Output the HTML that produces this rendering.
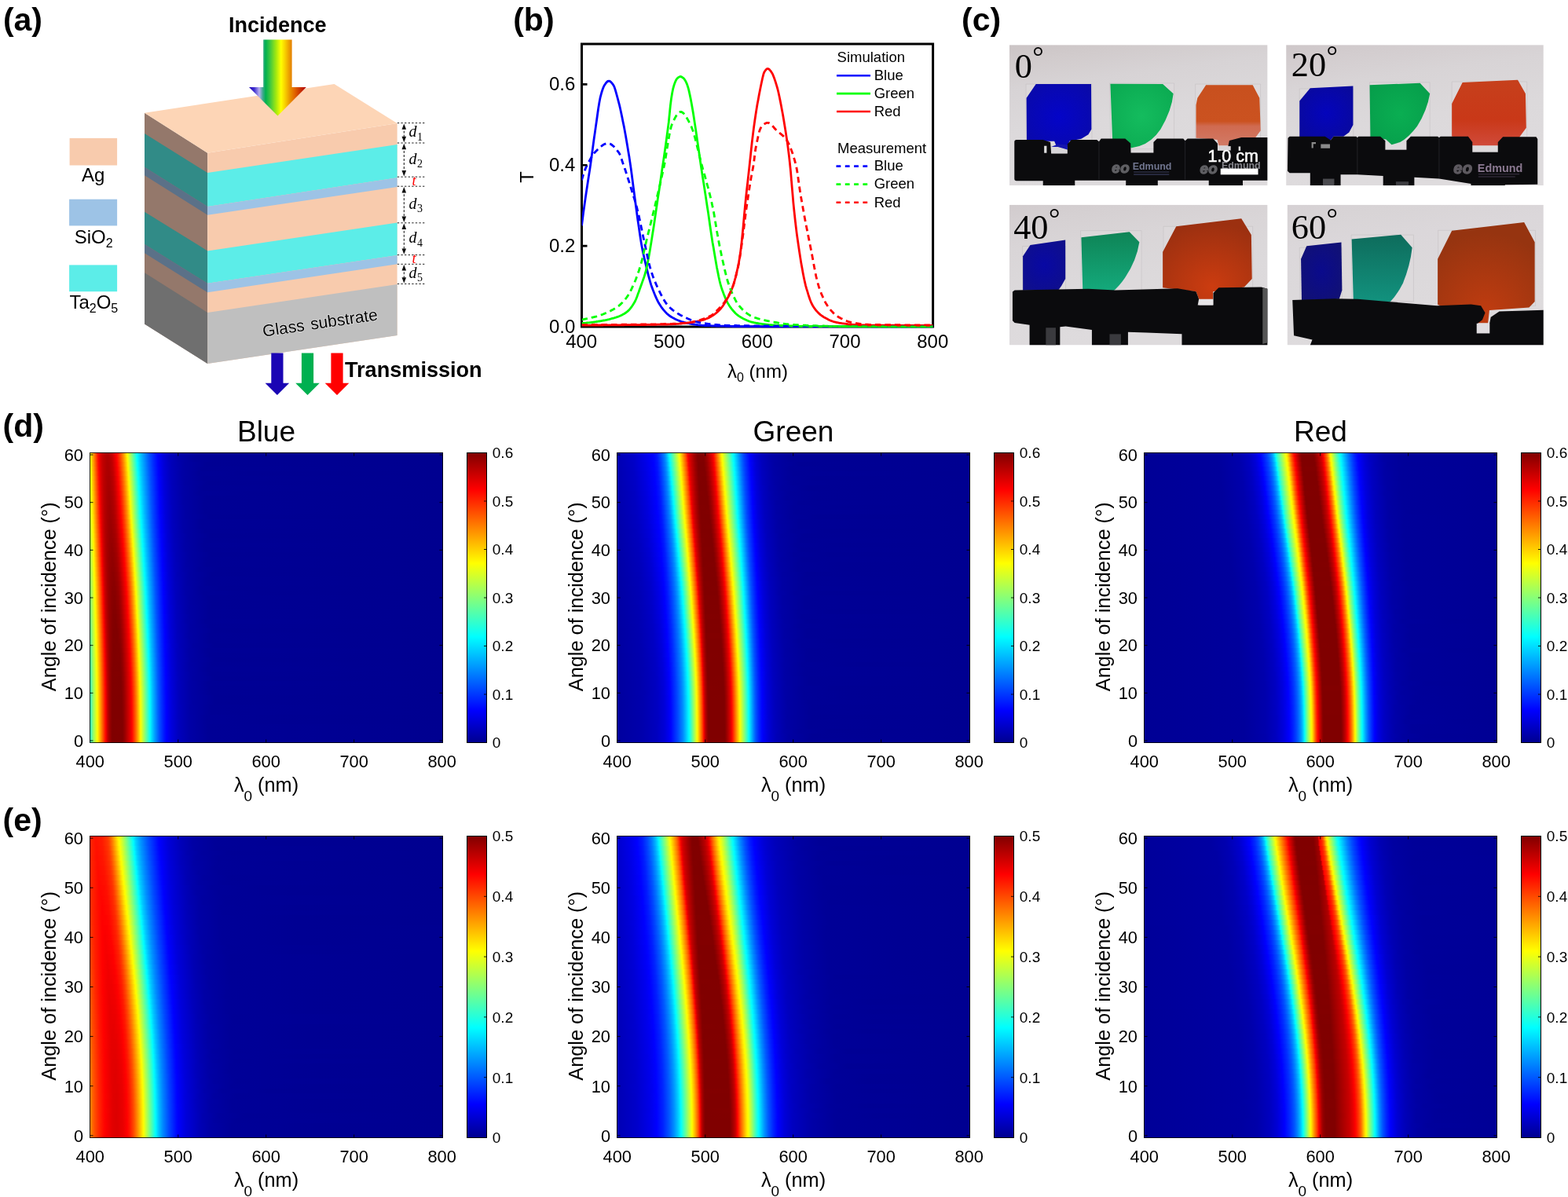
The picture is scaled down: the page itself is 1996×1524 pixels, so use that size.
<!DOCTYPE html>
<html lang="en"><head><meta charset="utf-8"><title>Figure</title>
<style>html,body{margin:0;padding:0;background:#fff}body{width:1996px;height:1524px;position:relative;overflow:hidden;font-family:'Liberation Sans',Arial,Helvetica,sans-serif}.hm{position:absolute;overflow:hidden}.hm i{display:block;width:100%}svg{position:absolute;left:0;top:0}</style></head><body>
<div class="hm" style="left:114px;top:576px;width:450px;height:370px">
<i style="height:6px;background:linear-gradient(90deg,#f0ff0f 0,#fff700 1px,#ff1c00 10px,#ff0500 11px,#e40000 13px,#c60000 16px,#b00000 21px,#ae0000 24px,#c60000 29px,#fc0000 34px,#ff1700 36px,#ff5700 40px,#ffa300 44px,#fffe00 48px,#5fa 56px,#06fff9 60px,#00f4ff 61px,#00b6ff 66px,#0048ff 77px,#0001ff 87px,#00d 93px,#0000bd 102px,#0000a6 116px,#000097 138px,#000093 202px,#000090 450px)"></i>
<i style="height:6px;background:linear-gradient(90deg,#ecff13 0,#fffc00 1px,#ff0900 11px,#f50000 12px,#da0000 14px,#c00000 17px,#ad0000 22px,#af0000 25px,#c20000 29px,#f70000 34px,#ff0500 35px,#ff3f00 39px,#f80 43px,#fd0 47px,#fff500 48px,#f0ff0f 49px,#49ffb6 57px,#0cfff3 60px,#00f9ff 61px,#00c5ff 65px,#005dff 75px,#002cff 81px,#0003ff 87px,#0000de 93px,#0000c0 101px,#00a 113px,#009 133px,#000094 159px,#000090 450px)"></i>
<i style="height:6px;background:linear-gradient(90deg,#e8ff17 0,#feff01 1px,#ff0e00 11px,#f80000 12px,#dc0000 14px,#c00000 17px,#ac0000 22px,#ad0000 25px,#bf0000 29px,#f20000 34px,#f00 35px,#ff3900 39px,#ff8000 43px,#ffd400 47px,#ffec00 48px,#f9ff06 49px,#64ff9b 56px,#0ff 61px,#00c9ff 65px,#0060ff 75px,#002dff 81px,#0004ff 87px,#0000f5 89px,#0000d2 96px,#0000b7 105px,#0000a2 121px,#000094 149px,#000090 450px)"></i>
<i style="height:6px;background:linear-gradient(90deg,#e4ff1b 0,#f9ff06 1px,#ffed00 2px,#ff1200 11px,#fb0000 12px,#d00 14px,#c10000 17px,#ab0000 22px,#ab0000 25px,#c30000 30px,#f90000 35px,#ff0700 36px,#ff3200 39px,#ff8c00 44px,#ffe300 48px,#fffc00 49px,#80ff7f 55px,#07fff8 61px,#00f5ff 62px,#00c1ff 66px,#0059ff 76px,#0028ff 82px,#0000fe 88px,#0000db 94px,#0000ba 104px,#0000a4 119px,#000095 144px,#000090 450px)"></i>
<i style="height:6px;background:linear-gradient(90deg,#e0ff1f 0,#f5ff0a 1px,#fff200 2px,#ff1700 11px,#f00 12px,#df0000 14px,#c10000 17px,#ae0000 21px,#a90000 25px,#bf0000 30px,#ff0200 36px,#ff2b00 39px,#ff8500 44px,#ffda00 48px,#fff300 49px,#f2ff0d 50px,#4affb5 58px,#0efff1 61px,#00fbff 62px,#00c5ff 66px,#005bff 76px,#0023ff 83px,#00f 88px,#0000dc 94px,#0000bd 103px,#0000a6 117px,#000097 139px,#000093 203px,#000090 450px)"></i>
<i style="height:6px;background:linear-gradient(90deg,#dcff23 0,#f0ff0f 1px,#fff700 2px,#ff0400 12px,#e10000 14px,#c20000 17px,#ad0000 21px,#a70000 25px,#b60000 29px,#c30000 31px,#fb0000 36px,#ff1600 38px,#ff5800 42px,#ffa600 46px,#ffea00 49px,#fbff04 50px,#51ffae 58px,#02fffd 62px,#00b2ff 68px,#004bff 78px,#0002ff 88px,#0000d9 95px,#00b 104px,#0000a3 120px,#000095 145px,#000090 450px)"></i>
<i style="height:6px;background:linear-gradient(90deg,#d8ff27 0,#fffc00 2px,#ff0900 12px,#f30000 13px,#d60000 15px,#b00 18px,#a70000 23px,#a80000 26px,#b90000 30px,#c90000 32px,#ff0300 37px,#ff2e00 40px,#ff7500 44px,#ffc900 48px,#fff900 50px,#ecff13 51px,#31ffce 60px,#09fff6 62px,#00f7ff 63px,#00b6ff 68px,#004eff 78px,#0012ff 86px,#0000fc 89px,#0000da 95px,#0000b9 105px,#0000a2 121px,#000094 150px,#000090 450px)"></i>
<i style="height:7px;background:linear-gradient(90deg,#d4ff2b 0,#feff01 2px,#ff8600 7px,#ff0e00 12px,#f60000 13px,#d80000 15px,#b00 18px,#a90000 22px,#a40000 25px,#b50000 30px,#cf0000 33px,#fd0000 37px,#ff1800 39px,#ff5b00 43px,#fa0 47px,#fff000 50px,#f5ff0a 51px,#4cffb3 59px,#10ffef 62px,#00fdff 63px,#00baff 68px,#0051ff 78px,#001aff 85px,#0000fd 89px,#0000db 95px,#0000ba 105px,#0000a4 120px,#000095 145px,#000090 450px)"></i>
<i style="height:6px;background:linear-gradient(90deg,#d0ff2f 0,#f9ff06 2px,#fe0 3px,#ff1300 12px,#fa0000 13px,#da0000 15px,#bc0000 18px,#a90000 22px,#a20000 25px,#b20000 30px,#ca0000 33px,#f70000 37px,#ff0500 38px,#ff3000 41px,#ff8d00 46px,#ffe600 50px,#ff0 51px,#68ff97 58px,#05fffa 63px,#00e5ff 65px,#009cff 71px,#004aff 79px,#00f 89px,#0000dc 95px,#0000bd 104px,#0000a6 118px,#000097 140px,#000093 204px,#000090 450px)"></i>
<i style="height:6px;background:linear-gradient(90deg,#cbff34 0,#f4ff0b 2px,#fff300 3px,#f00 13px,#dc0000 15px,#bc0000 18px,#a80000 22px,#a10000 25px,#ab0000 29px,#bc0000 32px,#fe0000 38px,#ff2900 41px,#ff8500 46px,#ffdc00 50px,#fff600 51px,#f0ff0f 52px,#48ffb7 60px,#0cfff3 63px,#00f9ff 64px,#00c3ff 68px,#0056ff 78px,#001eff 85px,#0002ff 89px,#0000d9 96px,#00b 105px,#0000a3 121px,#000094 149px,#000090 450px)"></i>
<i style="height:6px;background:linear-gradient(90deg,#c7ff38 0,#f0ff0f 2px,#fff800 3px,#ff0500 13px,#de0000 15px,#bd0000 18px,#a80000 22px,#a00000 26px,#ac0000 30px,#c00000 33px,#f80000 38px,#ff0600 39px,#f30 42px,#ff7c00 46px,#ffd300 50px,#ffec00 51px,#f9ff06 52px,#50ffaf 60px,#01fffe 64px,#00c7ff 68px,#0059ff 78px,#0027ff 84px,#0000fc 90px,#0000df 95px,#0000be 104px,#0000a5 119px,#000095 146px,#000090 450px)"></i>
<i style="height:6px;background:linear-gradient(90deg,#c3ff3c 0,#fffd00 3px,#ff0a00 13px,#f20000 14px,#d30000 16px,#b60000 19px,#a40000 23px,#9e0000 26px,#ae0000 31px,#c60000 34px,#f00 39px,#ff2b00 42px,#f80 47px,#ffe200 51px,#fffb00 52px,#d5ff2a 54px,#1bffe4 63px,#08fff7 64px,#00f6ff 65px,#00b3ff 70px,#0052ff 79px,#0013ff 87px,#0000fd 90px,#0000db 96px,#0000ba 106px,#0000a4 121px,#000095 146px,#000090 450px)"></i>
<i style="height:6px;background:linear-gradient(90deg,#bfff40 0,#fcff03 3px,#ffba00 6px,#ff0f00 13px,#f60000 14px,#d50000 16px,#b70000 19px,#a30000 23px,#9e0000 27px,#ab0000 31px,#c10000 34px,#f90000 39px,#ff0700 40px,#ff3500 43px,#ff9400 48px,#fff100 52px,#f4ff0b 53px,#37ffc8 62px,#0ffff0 64px,#00fcff 65px,#00b7ff 70px,#004cff 80px,#0015ff 87px,#00f 90px,#0000dc 96px,#00b 106px,#0000a3 122px,#000095 147px,#000090 450px)"></i>
<i style="height:6px;background:linear-gradient(90deg,#bf4 0,#f7ff08 3px,#fff000 4px,#ff1500 13px,#fb0000 14px,#e60000 15px,#c00000 18px,#ab0000 21px,#9c0000 26px,#a40000 30px,#b40000 33px,#e80000 38px,#ff0100 40px,#ff2d00 43px,#ff8c00 48px,#ffe700 52px,#feff01 53px,#67ff98 60px,#04fffb 65px,#00e4ff 67px,#09f 73px,#0045ff 81px,#0002ff 90px,#0000d9 97px,#00b 106px,#0000a3 122px,#000094 152px,#000090 450px)"></i>
<i style="height:6px;background:linear-gradient(90deg,#b6ff49 0,#f3ff0c 3px,#fff500 4px,#ff0100 14px,#da0000 16px,#b80000 19px,#a20000 23px,#9a0000 27px,#a00 32px,#c20000 35px,#fa0000 40px,#ff0800 41px,#ff4900 45px,#ff9800 49px,#fd0 52px,#fff600 53px,#efff10 54px,#47ffb8 62px,#0bfff4 65px,#00f9ff 66px,#00c1ff 70px,#005bff 79px,#0027ff 85px,#0000fc 91px,#0000da 97px,#0000bc 106px,#0000a7 119px,#000096 143px,#000090 450px)"></i>
<i style="height:6px;background:linear-gradient(90deg,#b2ff4d 0,#ef1 3px,#fffa00 4px,#ff0700 14px,#e00 15px,#ce0000 17px,#b10000 20px,#9f0000 24px,#900 27px,#a30000 31px,#b30000 34px,#ff0200 41px,#ff4100 45px,#ffa500 50px,#ffec00 53px,#f9ff06 54px,#4fffb0 62px,#0ff 66px,#00c5ff 70px,#005eff 79px,#0029ff 85px,#0000fd 91px,#0000dc 97px,#0000bf 105px,#0000a7 119px,#000096 143px,#000090 450px)"></i>
<i style="height:6px;background:linear-gradient(90deg,#adff52 0,#ff0 4px,#ff0c00 14px,#f20000 15px,#d00000 17px,#b10000 20px,#9e0000 24px,#980000 28px,#a90000 33px,#c30000 36px,#fb0000 41px,#ff0900 42px,#ff4c00 46px,#ff9c00 50px,#ffe200 53px,#fffc00 54px,#80ff7f 60px,#07fff8 66px,#00f5ff 67px,#00b1ff 72px,#004dff 81px,#000eff 89px,#00f 91px,#00d 97px,#0000bd 106px,#0000a5 121px,#000095 147px,#000090 450px)"></i>
<i style="height:6px;background:linear-gradient(90deg,#a9ff56 0,#fbff04 4px,#ffed00 5px,#ff1200 14px,#f80000 15px,#e20000 16px,#b00 19px,#a50000 22px,#960000 27px,#a10000 32px,#b40000 35px,#f50000 41px,#ff0300 42px,#ff3200 45px,#ff7e00 49px,#ffd800 53px,#fff200 54px,#f4ff0b 55px,#4bffb4 63px,#0efff1 66px,#00fcff 67px,#00c2ff 71px,#005aff 80px,#0026ff 86px,#0002ff 91px,#0000d5 99px,#0000b7 109px,#0000a2 125px,#000094 153px,#000090 450px)"></i>
<i style="height:6px;background:linear-gradient(90deg,#a4ff5b 0,#f6ff09 4px,#fff200 5px,#ff1700 14px,#fd0000 15px,#e60000 16px,#c80000 18px,#ab0000 21px,#970000 26px,#980000 30px,#a80000 34px,#ce0000 38px,#fc0000 42px,#ff1900 44px,#ff7500 49px,#ffce00 53px,#fdff02 55px,#53ffac 63px,#03fffc 67px,#00adff 73px,#0049ff 82px,#0004ff 91px,#0000f5 93px,#0000d2 100px,#0000ba 108px,#0000a4 123px,#000095 148px,#000090 450px)"></i>
<i style="height:6px;background:linear-gradient(90deg,#a0ff5f 0,#f1ff0e 4px,#fff700 5px,#ff0400 15px,#d80000 17px,#b40000 20px,#a00000 23px,#930000 28px,#a00000 33px,#b40000 36px,#f60000 42px,#ff0400 43px,#ff3400 46px,#ff8100 50px,#fd0 54px,#fff700 55px,#efff10 56px,#32ffcd 65px,#0afff5 67px,#00f8ff 68px,#00b1ff 73px,#004cff 82px,#0014ff 89px,#0000fe 92px,#0000e0 97px,#0000bd 107px,#0000a6 121px,#000096 145px,#000090 450px)"></i>
<i style="height:6px;background:linear-gradient(90deg,#9bff64 0,#fffc00 5px,#ff0900 15px,#ef0000 16px,#c00 18px,#ac0000 21px,#900 25px,#920000 29px,#a20000 34px,#b90000 37px,#fd0000 43px,#ff1b00 45px,#ff7900 50px,#ffd300 54px,#ffed00 55px,#f8ff07 56px,#3affc5 65px,#0ff 68px,#00c3ff 72px,#0064ff 80px,#002cff 86px,#00f 92px,#00d 98px,#0000bd 107px,#0000a5 122px,#000095 148px,#000090 450px)"></i>
<i style="height:6px;background:linear-gradient(90deg,#97ff68 0,#feff01 5px,#ff0e00 15px,#f40000 16px,#de0000 17px,#c10000 19px,#a60000 22px,#920000 27px,#940000 31px,#a40000 35px,#c90000 39px,#f70000 43px,#ff0500 44px,#ff4900 48px,#ff9b00 52px,#ffe300 55px,#fffd00 56px,#42ffbd 65px,#07fff8 68px,#00f5ff 69px,#00baff 73px,#0052ff 82px,#001fff 88px,#0002ff 92px,#0000d5 100px,#0000b7 110px,#0000a2 126px,#000094 154px,#000090 450px)"></i>
<i style="height:7px;background:linear-gradient(90deg,#92ff6d 0,#f9ff06 5px,#fe0 6px,#ff1300 15px,#f90000 16px,#d00000 18px,#ae0000 21px,#9b0000 24px,#8f0000 29px,#9c0000 34px,#b00000 37px,#f20000 43px,#fe0000 44px,#ff1d00 46px,#ff6800 50px,#ffc000 54px,#fff300 56px,#f3ff0c 57px,#4affb5 65px,#0efff1 68px,#00fbff 69px,#00bfff 73px,#005fff 81px,#0029ff 87px,#0004ff 92px,#0000f5 94px,#0000d6 100px,#0000b8 110px,#0000a3 125px,#000095 150px,#000090 450px)"></i>
<i style="height:6px;background:linear-gradient(90deg,#8eff71 0,#f5ff0a 5px,#fff300 6px,#f00 16px,#e60000 17px,#c50000 19px,#a70000 22px,#940000 26px,#8f0000 30px,#9e0000 35px,#b50000 38px,#f90000 44px,#ff0700 45px,#ff3a00 48px,#ff8900 52px,#ffcf00 55px,#fcff03 57px,#52ffad 65px,#02fffd 69px,#0af 75px,#004eff 83px,#0014ff 90px,#0000fd 93px,#0000dc 99px,#0000bd 108px,#0000a5 123px,#000095 149px,#000090 450px)"></i>
<i style="height:6px;background:linear-gradient(90deg,#89ff76 0,#f0ff0f 5px,#fff800 6px,#ff0500 16px,#d60000 18px,#b00000 21px,#9b0000 24px,#8e0000 28px,#910000 32px,#a10000 36px,#c60000 40px,#ff0100 45px,#ff3200 48px,#ff8100 52px,#ffc500 55px,#fff900 57px,#ef1 58px,#45ffba 66px,#09fff6 69px,#00f7ff 70px,#0bf 74px,#0050ff 83px,#000eff 91px,#00f 93px,#00d 99px,#0000be 108px,#0000a9 120px,#009 140px,#000094 164px,#000090 450px)"></i>
<i style="height:6px;background:linear-gradient(90deg,#84ff7b 0,#fffc00 6px,#ff8300 11px,#ff0a00 16px,#f00000 17px,#d90000 18px,#bc0000 20px,#a10000 23px,#900000 27px,#8b0000 30px,#980000 35px,#ac0000 38px,#fa0000 45px,#ff0900 46px,#ff5000 50px,#ffa400 54px,#ffef00 57px,#f6ff09 58px,#38ffc7 67px,#10ffef 69px,#00fdff 70px,#00bfff 74px,#0053ff 83px,#001fff 89px,#0002ff 93px,#0000d5 101px,#0000b7 111px,#0000a2 127px,#000094 155px,#000090 450px)"></i>
<i style="height:6px;background:linear-gradient(90deg,#7fff80 0,#fdff02 6px,#ffba00 9px,#ff0f00 16px,#f50000 17px,#d00 18px,#be0000 20px,#a10000 23px,#8f0000 27px,#8b0000 31px,#9a0000 36px,#b20000 39px,#f50000 45px,#ff0300 46px,#ff4800 50px,#ff9c00 54px,#ff0 58px,#54ffab 66px,#05fffa 70px,#00e2ff 72px,#00a9ff 76px,#004cff 84px,#0012ff 91px,#0003ff 93px,#0000df 99px,#0000bc 109px,#0000a4 125px,#000095 150px,#000090 450px)"></i>
<i style="height:6px;background:linear-gradient(90deg,#7bff84 0,#f9ff06 6px,#ffef00 7px,#ff1400 16px,#fb0000 17px,#e10000 18px,#c00000 20px,#a10000 23px,#8f0000 27px,#890000 31px,#970000 36px,#ad0000 39px,#fc0000 46px,#ff0b00 47px,#ff6800 52px,#ffc200 56px,#fff600 58px,#f0ff0f 59px,#1effe1 69px,#0bfff4 70px,#00f8ff 71px,#0bf 75px,#0059ff 83px,#0023ff 89px,#0000fd 94px,#0000dc 100px,#0000bd 109px,#0000a5 124px,#000095 150px,#000090 450px)"></i>
<i style="height:6px;background:linear-gradient(90deg,#76ff89 0,#f5ff0a 6px,#fff300 7px,#ff0100 17px,#d10000 19px,#a00 22px,#960000 25px,#890000 29px,#8b0000 33px,#9a0000 37px,#b30000 40px,#f70000 46px,#ff0500 47px,#ff4d00 51px,#ffa100 55px,#ffed00 58px,#f9ff06 59px,#4effb1 67px,#0ff 71px,#00bfff 75px,#0051ff 84px,#0015ff 91px,#00f 94px,#0000e1 99px,#0000c0 108px,#0000a9 121px,#009 141px,#000094 165px,#000090 450px)"></i>
<i style="height:6px;background:linear-gradient(90deg,#71ff8e 0,#f1ff0e 6px,#fff800 7px,#ff0600 17px,#eb0000 18px,#d40000 19px,#b70000 21px,#9b0000 24px,#800 29px,#890000 33px,#970000 37px,#af0000 40px,#fe0000 47px,#ff2000 49px,#ff6d00 53px,#ffc900 57px,#fffd00 59px,#2dffd2 69px,#06fff9 71px,#00f3ff 72px,#00b6ff 76px,#0054ff 84px,#001fff 90px,#0001ff 94px,#0000d9 101px,#0000bc 110px,#0000a7 123px,#000097 145px,#000093 217px,#000090 450px)"></i>
<i style="height:6px;background:linear-gradient(90deg,#6cff93 0,#d9ff26 5px,#fffc00 7px,#ff0a00 17px,#f00000 18px,#d70000 19px,#b80000 21px,#9c0000 24px,#8a0000 28px,#860000 32px,#940000 37px,#ab0000 40px,#ec0000 46px,#f90000 47px,#ff0800 48px,#ff5200 52px,#ffa800 56px,#fff500 59px,#f2ff0d 60px,#48ffb7 68px,#0cfff3 71px,#00f9ff 72px,#00baff 76px,#0057ff 84px,#0021ff 90px,#0003ff 94px,#0000df 100px,#0000bc 110px,#0000a4 126px,#000095 151px,#000090 450px)"></i>
<i style="height:6px;background:linear-gradient(90deg,#68ff97 0,#d5ff2a 5px,#feff01 7px,#ffa100 11px,#ff0f00 17px,#f50000 18px,#db0000 19px,#ba0000 21px,#9c0000 24px,#8a0000 28px,#840000 32px,#910000 37px,#a70000 40px,#ff0200 48px,#ff4a00 52px,#ffa000 56px,#ffec00 59px,#faff05 60px,#4fffb0 68px,#0ff 72px,#00beff 76px,#005aff 84px,#02f 90px,#0004ff 94px,#0000f6 96px,#0000d3 103px,#0000b8 112px,#0000a1 129px,#000094 156px,#000090 450px)"></i>
<i style="height:6px;background:linear-gradient(90deg,#63ff9c 0,#bcff43 4px,#faff05 7px,#fe0 8px,#ff1300 17px,#fa0000 18px,#df0000 19px,#bc0000 21px,#9c0000 24px,#890000 28px,#830000 32px,#8f0000 37px,#a30000 40px,#ef0000 47px,#fc0000 48px,#ff0c00 49px,#ff6c00 54px,#ffc800 58px,#fffd00 60px,#2dffd2 70px,#06fff9 72px,#00f3ff 73px,#00b5ff 77px,#0051ff 85px,#001cff 91px,#0000fe 95px,#0000dc 101px,#00b 111px,#0000a3 127px,#000094 155px,#000090 450px)"></i>
<i style="height:6px;background:linear-gradient(90deg,#5effa1 0,#b9ff46 4px,#f6ff09 7px,#fff200 8px,#fe0000 18px,#ce0000 20px,#b10000 22px,#960000 25px,#830000 30px,#850000 34px,#910000 38px,#a90000 41px,#ea0000 47px,#f70000 48px,#ff0600 49px,#ff6500 54px,#ffc000 58px,#fff500 60px,#f2ff0d 61px,#48ffb7 69px,#0cfff3 72px,#00f9ff 73px,#00b8ff 77px,#0054ff 85px,#001eff 91px,#00f 95px,#00d 101px,#0000be 110px,#0000a5 125px,#000095 152px,#000090 450px)"></i>
<i style="height:6px;background:linear-gradient(90deg,#5affa5 0,#b5ff4a 4px,#f3ff0c 7px,#fff600 8px,#ff0400 18px,#d00000 20px,#b20000 22px,#960000 25px,#820000 30px,#830000 34px,#8f0000 38px,#a50000 41px,#f20000 48px,#ff0100 49px,#ff4a00 53px,#ffa000 57px,#ffed00 60px,#f9ff06 61px,#3affc5 70px,#00feff 73px,#00bcff 77px,#0057ff 85px,#0028ff 90px,#0002ff 95px,#0000da 102px,#0000bc 111px,#0000a4 127px,#000095 152px,#000090 450px)"></i>
<i style="height:6px;background:linear-gradient(90deg,#5fa 0,#9cff63 3px,#efff10 7px,#fff900 8px,#f90 12px,#ff0800 18px,#ed0000 19px,#d40000 20px,#b40000 22px,#960000 25px,#850000 29px,#800000 33px,#8d0000 38px,#a10000 41px,#ed0000 48px,#fb0000 49px,#ff0b00 50px,#ff6c00 55px,#ffb000 58px,#fffe00 61px,#2cffd3 71px,#05fffa 73px,#00e0ff 75px,#00a5ff 79px,#004eff 86px,#0019ff 92px,#0003ff 95px,#0000df 101px,#0000bf 110px,#0000a7 124px,#000096 148px,#000090 450px)"></i>
<i style="height:6px;background:linear-gradient(90deg,#51ffae 0,#aeff51 4px,#fffd00 8px,#ff9e00 12px,#ff0c00 18px,#f20000 19px,#d70000 20px,#b50000 22px,#970000 25px,#840000 29px,#800000 34px,#8f0000 39px,#b20000 43px,#f60000 49px,#ff0600 50px,#ff6500 55px,#ffc200 59px,#fff700 61px,#f0ff0f 62px,#32ffcd 71px,#0bfff4 73px,#00f7ff 74px,#00b6ff 78px,#005cff 85px,#002bff 90px,#0004ff 95px,#0000f6 97px,#0000d3 104px,#00b 112px,#0000a3 128px,#000095 153px,#000090 450px)"></i>
<i style="height:6px;background:linear-gradient(90deg,#4dffb2 0,#af5 4px,#feff01 8px,#ffa200 12px,#ff0f00 18px,#f60000 19px,#db0000 20px,#c60000 21px,#a00 23px,#910000 26px,#810000 30px,#800000 35px,#8d0000 39px,#a40000 42px,#f10000 49px,#f00 50px,#ff5f00 55px,#ffba00 59px,#fff000 61px,#f7ff08 62px,#4cffb3 70px,#10ffef 73px,#00fcff 74px,#00baff 78px,#005eff 85px,#0024ff 91px,#0000fe 96px,#0000dc 102px,#00b 112px,#0000a3 128px,#000094 158px,#000090 450px)"></i>
<i style="height:7px;background:linear-gradient(90deg,#49ffb6 0,#a7ff58 4px,#faff05 8px,#fe0 9px,#ff1300 18px,#fa0000 19px,#c90000 21px,#ac0000 23px,#910000 26px,#800000 30px,#810000 36px,#910000 40px,#b50000 44px,#ed0000 49px,#fb0000 50px,#ff0c00 51px,#ff5900 55px,#ffb300 59px,#fdff02 62px,#52ffad 70px,#02fffd 74px,#00bdff 78px,#05f 86px,#001eff 92px,#00f 96px,#00d 102px,#0000be 111px,#0000a5 126px,#000095 153px,#000090 450px)"></i>
<i style="height:6px;background:linear-gradient(90deg,#45ffba 0,#a4ff5b 4px,#f7ff08 8px,#fff100 9px,#fe0000 19px,#cb0000 21px,#ad0000 23px,#980000 25px,#830000 29px,#800000 35px,#890000 39px,#9e0000 42px,#e90000 49px,#f60000 50px,#ff0600 51px,#ff6800 56px,#ffac00 59px,#fffb00 62px,#d8ff27 64px,#43ffbc 71px,#07fff8 74px,#00f4ff 75px,#00c1ff 78px,#0057ff 86px,#001fff 92px,#0001ff 96px,#0000da 103px,#0000bc 112px,#0000a4 128px,#000095 153px,#000090 450px)"></i>
<i style="height:6px;background:linear-gradient(90deg,#41ffbe 0,#a1ff5e 4px,#f4ff0b 8px,#fff400 9px,#ff0200 19px,#ce0000 21px,#ae0000 23px,#910000 26px,#800000 30px,#830000 38px,#930000 41px,#cf0000 47px,#ff0200 51px,#ff4d00 55px,#ffa600 59px,#fff400 62px,#f3ff0c 63px,#48ffb7 71px,#0cfff3 74px,#00f8ff 75px,#00b5ff 79px,#005aff 86px,#0029ff 91px,#0002ff 96px,#0000d2 105px,#0000b6 115px,#0000a0 132px,#000094 159px,#000090 450px)"></i>
<i style="height:6px;background:linear-gradient(90deg,#3effc1 0,#9eff61 4px,#f2ff0d 8px,#fff700 9px,#ff9700 13px,#ff0600 19px,#eb0000 20px,#d10000 21px,#af0000 23px,#910000 26px,#800000 30px,#820000 38px,#900000 41px,#d60000 48px,#fc0000 51px,#ff2100 53px,#ff7200 57px,#ffb800 60px,#fe0 62px,#f8ff07 63px,#39ffc6 72px,#00fdff 75px,#00c8ff 78px,#0075ff 84px,#0046ff 88px,#0012ff 94px,#0003ff 96px,#0000e0 102px,#0000bf 111px,#0000a6 126px,#000096 150px,#000090 450px)"></i>
<i style="height:6px;background:linear-gradient(90deg,#3affc5 0,#9bff64 4px,#efff10 8px,#fffa00 9px,#ff9b00 13px,#ff0900 19px,#ef0000 20px,#d40000 21px,#b10000 23px,#9a0000 25px,#860000 28px,#800000 31px,#830000 39px,#950000 42px,#de0000 49px,#f80000 51px,#ff0900 52px,#ff6c00 57px,#ffb200 60px,#ffe800 62px,#feff01 63px,#52ffad 71px,#02fffd 75px,#00bcff 79px,#005eff 86px,#0023ff 92px,#0004ff 96px,#0000f6 98px,#0000d8 104px,#0000bd 112px,#0000a5 127px,#000095 153px,#000090 450px)"></i>
<i style="height:6px;background:linear-gradient(90deg,#37ffc8 0,#98ff67 4px,#fffd00 9px,#ff6c00 15px,#ff0c00 19px,#f20000 20px,#c10000 22px,#9a0000 25px,#860000 28px,#800000 31px,#820000 39px,#930000 42px,#e70000 50px,#ff0500 52px,#ff6700 57px,#ffc600 61px,#fffb00 63px,#d7ff28 65px,#2effd1 73px,#07fff8 75px,#00f2ff 76px,#00bfff 79px,#0054ff 87px,#001cff 93px,#0000fd 97px,#0000d8 104px,#00b 113px,#0000a2 130px,#000094 159px,#000090 450px)"></i>
<i style="height:6px;background:linear-gradient(90deg,#34ffcb 0,#95ff6a 4px,#ff0 9px,#ffa100 13px,#ff0f00 19px,#f50000 20px,#c30000 22px,#a60000 24px,#8b0000 27px,#800000 30px,#810000 39px,#910000 42px,#d80000 49px,#ff0100 52px,#ff6200 57px,#ffc100 61px,#fff600 63px,#f1ff0e 64px,#47ffb8 72px,#0bfff4 75px,#00f6ff 76px,#00b3ff 80px,#0056ff 87px,#001dff 93px,#0000fe 97px,#0000d9 104px,#0000be 112px,#0000a5 127px,#000095 154px,#000090 450px)"></i>
<i style="height:6px;background:linear-gradient(90deg,#31ffce 0,#a9ff56 5px,#fcff03 9px,#ffd400 11px,#f10 19px,#f80000 20px,#c50000 22px,#a70000 24px,#8b0000 27px,#810000 29px,#800000 39px,#8f0000 42px,#cb0000 48px,#fc0000 52px,#ff2100 54px,#ff8a00 59px,#fff100 63px,#f6ff09 64px,#4bffb4 72px,#0ffff0 75px,#00faff 76px,#00b5ff 80px,#0058ff 87px,#001fff 93px,#00f 97px,#0000de 103px,#0000be 112px,#0000a7 126px,#000096 150px,#000090 450px)"></i>
<i style="height:6px;background:linear-gradient(90deg,#2effd1 0,#a6ff59 5px,#faff05 9px,#fe0 10px,#ff1400 19px,#fb0000 20px,#c70000 22px,#a80000 24px,#8c0000 27px,#810000 29px,#820000 40px,#950000 43px,#de0000 50px,#f90000 52px,#ff0b00 53px,#ff6f00 58px,#ffb600 61px,#ffec00 63px,#faff05 64px,#4fffb0 72px,#00feff 76px,#00c7ff 79px,#0059ff 87px,#0020ff 93px,#0001ff 97px,#0000da 104px,#0000bc 113px,#0000a4 129px,#000095 154px,#000090 450px)"></i>
<i style="height:6px;background:linear-gradient(90deg,#2bffd4 0,#a4ff5b 5px,#f8ff07 9px,#fff000 10px,#fd0000 20px,#c90000 22px,#a90000 24px,#930000 26px,#810000 29px,#800000 40px,#9c0000 44px,#e80000 51px,#f60000 52px,#ff0700 53px,#ff6b00 58px,#ffb100 61px,#ffe800 63px,#feff01 64px,#3effc1 73px,#02fffd 76px,#00baff 80px,#005bff 87px,#0029ff 92px,#0002ff 97px,#0000d6 105px,#0000b8 115px,#0000a2 131px,#000094 159px,#000090 450px)"></i>
<i style="height:6px;background:linear-gradient(90deg,#29ffd6 0,#a2ff5d 5px,#f6ff09 9px,#fff200 10px,#ff7900 15px,#f00 20px,#cb0000 22px,#a00 24px,#8c0000 27px,#810000 29px,#800000 40px,#910000 43px,#e60000 51px,#ff0400 53px,#ff6700 58px,#ffc700 62px,#fffc00 64px,#7fff80 70px,#06fff9 76px,#00f1ff 77px,#00bdff 80px,#005dff 87px,#03f 91px,#0003ff 97px,#0000df 103px,#0000bf 112px,#0000a6 127px,#000096 151px,#000090 450px)"></i>
<i style="height:6px;background:linear-gradient(90deg,#26ffd9 0,#a0ff5f 5px,#f5ff0a 9px,#fff400 10px,#ff7b00 15px,#ff0300 20px,#cd0000 22px,#b90000 23px,#940000 26px,#810000 29px,#800000 40px,#900000 43px,#e30000 51px,#ff0100 53px,#ff4e00 57px,#ffa900 61px,#fff800 64px,#efff10 65px,#30ffcf 74px,#09fff6 76px,#00f4ff 77px,#00bfff 80px,#005eff 87px,#02f 93px,#0003ff 97px,#0000e0 103px,#0000bf 112px,#0000a6 127px,#000095 153px,#000090 450px)"></i>
<i style="height:6px;background:linear-gradient(90deg,#24ffdb 0,#9eff61 5px,#f3ff0c 9px,#fff600 10px,#ff7d00 15px,#ff0400 20px,#ea0000 21px,#cf0000 22px,#ab0000 24px,#8c0000 27px,#810000 29px,#810000 41px,#970000 44px,#e10000 51px,#fd0000 53px,#ff3700 56px,#ff8e00 60px,#fff500 64px,#f2ff0d 65px,#3fc 74px,#0bfff4 76px,#00f7ff 77px,#00c1ff 80px,#005fff 87px,#002cff 92px,#0004ff 97px,#0000f6 99px,#0000d7 105px,#00b 114px,#0000a3 130px,#000095 155px,#000090 450px)"></i>
<i style="height:6px;background:linear-gradient(90deg,#2fd 0,#9dff62 5px,#f2ff0d 9px,#fff700 10px,#ff4e00 17px,#ff0600 20px,#ec0000 21px,#d00000 22px,#ac0000 24px,#8c0000 27px,#810000 29px,#800000 41px,#9f0000 45px,#ec0000 52px,#fb0000 53px,#ff0d00 54px,#ff7300 59px,#ffbc00 62px,#fff200 64px,#f5ff0a 65px,#4affb5 73px,#0efff1 76px,#00f9ff 77px,#00c2ff 80px,#0054ff 88px,#001cff 94px,#0000fd 98px,#0000dc 104px,#00b 114px,#0000a3 130px,#000094 160px,#000090 450px)"></i>
<i style="height:6px;background:linear-gradient(90deg,#21ffde 0,#9bff64 5px,#f0ff0f 9px,#fff900 10px,#ff6800 16px,#ff0800 20px,#e00 21px,#d20000 22px,#ad0000 24px,#950000 26px,#800000 29px,#800000 41px,#940000 44px,#ea0000 52px,#f90000 53px,#ff0b00 54px,#ff7100 59px,#ffd400 63px,#ffef00 64px,#f8ff07 65px,#4dffb2 73px,#10ffef 76px,#00fbff 77px,#00c4ff 80px,#0062ff 87px,#0036ff 91px,#0005ff 97px,#0000f7 99px,#0000d4 106px,#0000b9 115px,#0000a2 131px,#000094 160px,#000090 450px)"></i>
<i style="height:7px;background:linear-gradient(90deg,#1fffe0 0,#9aff65 5px,#efff10 9px,#fffa00 10px,#ff5100 17px,#ff0900 20px,#f00000 21px,#bd0000 23px,#a10000 25px,#860000 28px,#800000 29px,#800000 41px,#930000 44px,#dc0000 51px,#f70000 53px,#ff0900 54px,#ff6e00 59px,#ffd100 63px,#ffec00 64px,#faff05 65px,#3affc5 74px,#00fdff 77px,#00c5ff 80px,#0063ff 87px,#0037ff 91px,#0006ff 97px,#0000fe 98px,#00d 104px,#0000be 113px,#0000a5 128px,#000095 155px,#000090 450px)"></i>
<i style="height:6px;background:linear-gradient(90deg,#1effe1 0,#9f6 5px,#ef1 9px,#fffb00 10px,#ff8300 15px,#ff0a00 20px,#f10000 21px,#be0000 23px,#a10000 25px,#860000 28px,#800000 29px,#800000 41px,#8a0000 43px,#d00000 50px,#f50000 53px,#ff0700 54px,#ff6c00 59px,#ffcf00 63px,#ffea00 64px,#fcff03 65px,#3cffc3 74px,#0ff 77px,#00c7ff 80px,#0063ff 87px,#002eff 92px,#0000fe 98px,#00d 104px,#0000be 113px,#0000a5 128px,#000095 155px,#000090 450px)"></i>
<i style="height:6px;background:linear-gradient(90deg,#1cffe3 0,#98ff67 5px,#edff12 9px,#fffc00 10px,#ff8400 15px,#ff0b00 20px,#f20000 21px,#bf0000 23px,#a10000 25px,#860000 28px,#800000 29px,#800000 41px,#890000 43px,#cf0000 50px,#f40000 53px,#ff0600 54px,#f50 58px,#ffb200 62px,#ffe800 64px,#feff01 65px,#52ffad 73px,#01fffe 77px,#00b8ff 81px,#0058ff 88px,#0026ff 93px,#0000fe 98px,#0000d9 105px,#0000be 113px,#0000a7 127px,#000097 149px,#000093 229px,#000090 450px)"></i>
<i style="height:6px;background:linear-gradient(90deg,#1cffe3 0,#97ff68 5px,#edff12 9px,#fffd00 10px,#ff5400 17px,#ff0c00 20px,#f30000 21px,#bf0000 23px,#960000 26px,#800000 29px,#820000 42px,#9a0000 45px,#e50000 52px,#ff0400 54px,#ff6900 59px,#ffb000 62px,#ff0 65px,#3fffc0 74px,#03fffc 77px,#00b9ff 81px,#0058ff 88px,#001eff 94px,#00f 98px,#00d 104px,#0000bc 114px,#0000a7 127px,#000097 149px,#000093 229px,#000090 450px)"></i>
<i style="height:6px;background:linear-gradient(90deg,#1bffe4 0,#96ff69 5px,#fffd00 10px,#ff9f00 14px,#ff0d00 20px,#f30000 21px,#c00000 23px,#a20000 25px,#8d0000 27px,#800000 29px,#820000 42px,#900 45px,#e50000 52px,#ff0300 54px,#ff6800 59px,#ffaf00 62px,#fffe00 65px,#2cffd3 75px,#04fffb 77px,#00dbff 79px,#009cff 83px,#004dff 89px,#000eff 96px,#00f 98px,#0000de 104px,#0000be 113px,#0000a7 127px,#000096 151px,#000090 450px)"></i>
<i style="height:6px;background:linear-gradient(90deg,#1affe5 0,#96ff69 5px,#fffd00 10px,#ffa000 14px,#ff0d00 20px,#f40000 21px,#c00000 23px,#a20000 25px,#860000 28px,#800000 29px,#820000 42px,#900 45px,#e40000 52px,#ff0300 54px,#ff6700 59px,#ffae00 62px,#fffd00 65px,#2cffd3 75px,#04fffb 77px,#00dcff 79px,#009dff 83px,#004eff 89px,#0016ff 95px,#00f 98px,#0000de 104px,#0000be 113px,#0000a7 127px,#000096 151px,#000090 450px)"></i>
<i style="height:6px;background:linear-gradient(90deg,#1affe5 0,#96ff69 5px,#fffe00 10px,#ff8700 15px,#ff0d00 20px,#f40000 21px,#c00000 23px,#a20000 25px,#860000 28px,#800000 29px,#810000 42px,#900 45px,#e40000 52px,#ff0200 54px,#ff5100 58px,#ffad00 62px,#fffc00 65px,#7fff80 71px,#05fffa 77px,#00dcff 79px,#009dff 83px,#004eff 89px,#0016ff 95px,#00f 98px,#0000de 104px,#0000be 113px,#0000a6 128px,#000096 152px,#000090 450px)"></i>
<i style="height:6px;background:linear-gradient(90deg,#1affe5 0,#96ff69 5px,#fffe00 10px,#ffa000 14px,#ff0d00 20px,#f40000 21px,#c00000 23px,#a20000 25px,#860000 28px,#800000 29px,#810000 42px,#900 45px,#e40000 52px,#ff0200 54px,#ff5100 58px,#ffad00 62px,#fffc00 65px,#7fff80 71px,#05fffa 77px,#00dcff 79px,#009dff 83px,#004eff 89px,#0016ff 95px,#00f 98px,#0000de 104px,#0000be 113px,#0000a6 128px,#000096 152px,#000090 450px)"></i>
</div>
<div class="hm" style="left:114px;top:1064px;width:450px;height:385px">
<i style="height:6px;background:linear-gradient(90deg,#ff2700 0,#ff1200 8px,#ff1b00 16px,#ff3900 23px,#ff4a00 25px,#ff7300 28px,#ffd100 34px,#fff000 36px,#fffc00 37px,#deff21 40px,#03fffc 55px,#00c9ff 59px,#0082ff 67px,#003eff 77px,#0002ff 88px,#0000d8 100px,#0000b5 118px,#0000a1 136px,#000097 165px,#000092 338px,#000090 450px)"></i>
<i style="height:7px;background:linear-gradient(90deg,#ff2800 0,#f10 8px,#ff1900 16px,#ff3500 23px,#ff4300 25px,#ff7800 29px,#fff400 37px,#feff01 38px,#caff35 42px,#0cfff3 55px,#00fcff 56px,#00d0ff 59px,#0097ff 65px,#0054ff 74px,#0009ff 87px,#00f 89px,#0000dc 99px,#00b 115px,#0000a5 131px,#000098 160px,#000093 253px,#000090 450px)"></i>
<i style="height:6px;background:linear-gradient(90deg,#ff2800 0,#ff1000 9px,#ff1900 17px,#ff3600 24px,#ff4700 26px,#ff7e00 30px,#ffec00 37px,#faff05 39px,#c5ff3a 43px,#06fff9 56px,#00f5ff 57px,#00cbff 60px,#0093ff 66px,#004bff 76px,#0006ff 88px,#0000f8 91px,#0000d8 101px,#0000b8 117px,#0000a3 134px,#000097 163px,#000091 383px,#000090 450px)"></i>
<i style="height:6px;background:linear-gradient(90deg,#ff2900 0,#ff0f00 9px,#ff1700 17px,#ff2d00 23px,#ff4000 26px,#ff6500 29px,#ffc100 35px,#fff000 38px,#fffc00 39px,#df2 42px,#0ff 57px,#00d2ff 60px,#0098ff 66px,#004eff 76px,#0004ff 89px,#0000fa 91px,#0000d4 103px,#0000ae 124px,#00009e 143px,#000096 175px,#000090 450px)"></i>
<i style="height:7px;background:linear-gradient(90deg,#ff2900 0,#ff0e00 9px,#ff1300 16px,#ff2100 21px,#ff3a00 26px,#ff5c00 29px,#ffb600 35px,#fff400 39px,#feff01 40px,#c9ff36 44px,#09fff6 57px,#00f9ff 58px,#00ceff 61px,#0095ff 67px,#0052ff 76px,#000cff 88px,#0000fc 91px,#0000d8 102px,#0000b8 118px,#0000a3 135px,#000097 164px,#000091 388px,#000090 450px)"></i>
<i style="height:6px;background:linear-gradient(90deg,#ff2a00 0,#ff0d00 10px,#ff1500 18px,#ff2f00 25px,#ff4700 28px,#ff7d00 32px,#ffeb00 39px,#fbff04 41px,#c4ff3b 45px,#04fffb 58px,#00e3ff 60px,#00b5ff 64px,#0072ff 72px,#0031ff 82px,#00f 91px,#0000dc 101px,#0000bc 116px,#0000a5 133px,#000098 162px,#000093 255px,#000090 450px)"></i>
<i style="height:6px;background:linear-gradient(90deg,#ff2b00 0,#ff0c00 10px,#ff1200 18px,#ff2700 24px,#ff3700 27px,#ff5700 30px,#ffc000 37px,#ffef00 40px,#fffb00 41px,#ebff14 43px,#00fdff 59px,#00d1ff 62px,#009fff 67px,#0061ff 75px,#01f 88px,#0000fd 92px,#00d 101px,#0000bc 117px,#0000a7 132px,#000098 159px,#000093 265px,#000090 450px)"></i>
<i style="height:6px;background:linear-gradient(90deg,#ff2c00 0,#ff0a00 11px,#ff1200 19px,#ff2c00 26px,#ff4300 29px,#ff7800 33px,#fff200 41px,#fffe00 42px,#caff35 46px,#08fff7 59px,#00f7ff 60px,#00cdff 63px,#0093ff 69px,#0050ff 78px,#000aff 90px,#00f 92px,#0000d9 103px,#0000b4 122px,#0000a2 138px,#000097 168px,#000091 384px,#000090 450px)"></i>
<i style="height:7px;background:linear-gradient(90deg,#ff2c00 0,#ff0a00 11px,#ff0e00 18px,#ff1b00 23px,#f30 28px,#ff5200 31px,#ffa900 37px,#ffe900 41px,#fcff03 43px,#c5ff3a 47px,#02fffd 60px,#00c9ff 64px,#08f 71px,#0047ff 80px,#0007ff 91px,#0000f9 94px,#0000d8 104px,#0000b0 125px,#00009e 145px,#000096 177px,#000090 450px)"></i>
<i style="height:6px;background:linear-gradient(90deg,#ff2d00 0,#ff0800 12px,#f10 21px,#ff2f00 28px,#ff3f00 30px,#ff7200 34px,#ffcf00 40px,#fff900 43px,#f9ff06 44px,#c0ff3f 48px,#0dfff2 60px,#00fcff 61px,#00d0ff 64px,#008dff 71px,#004bff 80px,#0005ff 92px,#0000fb 94px,#0000da 104px,#0000b4 123px,#0000a2 139px,#000097 169px,#000092 349px,#000090 450px)"></i>
<i style="height:6px;background:linear-gradient(90deg,#ff2e00 0,#ff0800 12px,#ff0b00 19px,#ff1800 24px,#ff3000 29px,#ff4200 31px,#ff7600 35px,#fff000 43px,#fffc00 44px,#e9ff16 46px,#07fff8 61px,#00f6ff 62px,#0cf 65px,#008aff 72px,#0042ff 82px,#0003ff 93px,#0000ea 99px,#0000cb 111px,#00a 131px,#00009a 155px,#000094 219px,#000090 450px)"></i>
<i style="height:7px;background:linear-gradient(90deg,#ff3000 0,#ff0e00 10px,#ff0500 14px,#ff0e00 22px,#ff2b00 29px,#ff3a00 31px,#ff6c00 35px,#ffc800 41px,#ff0 45px,#c6ff39 49px,#02fffd 62px,#00c9ff 66px,#008fff 72px,#004cff 81px,#0006ff 93px,#0000fc 95px,#00d 104px,#00b 120px,#0000a5 136px,#000098 165px,#000093 261px,#000090 450px)"></i>
<i style="height:6px;background:linear-gradient(90deg,#ff3100 0,#ff0e00 10px,#ff0400 15px,#ff0e00 23px,#ff2c00 30px,#ff4800 33px,#ff9c00 39px,#ffea00 44px,#fcff03 46px,#0dfff2 62px,#00fcff 63px,#00d0ff 66px,#0095ff 72px,#0050ff 81px,#0009ff 93px,#0000fe 95px,#0000db 105px,#0000b5 124px,#0000a1 142px,#000097 170px,#000091 394px,#000090 450px)"></i>
<i style="height:6px;background:linear-gradient(90deg,#ff3200 0,#ff0b00 11px,#ff0300 16px,#ff0e00 24px,#ff2800 30px,#ff4000 33px,#ff8200 38px,#ffe000 44px,#fff900 46px,#f8ff07 47px,#07fff8 63px,#00f6ff 64px,#0cf 67px,#0089ff 74px,#0047ff 83px,#0006ff 94px,#0000f8 97px,#0000d5 108px,#0000b1 127px,#0000a0 144px,#000097 173px,#000091 389px,#000090 450px)"></i>
<i style="height:7px;background:linear-gradient(90deg,#ff3400 0,#f10 9px,#ff0200 16px,#ff0b00 24px,#ff2900 31px,#ff3800 33px,#ff6a00 37px,#ffb400 42px,#ffe300 45px,#fffd00 47px,#e7ff18 49px,#02fffd 64px,#00c9ff 68px,#0097ff 73px,#0059ff 81px,#000eff 93px,#00f 96px,#0000dc 106px,#0000ba 122px,#0000a3 140px,#000098 167px,#000093 263px,#000090 450px)"></i>
<i style="height:6px;background:linear-gradient(90deg,#ff3600 0,#ff1c00 6px,#f00 16px,#ff0b00 25px,#ff2a00 32px,#ff4600 35px,#f90 41px,#ffe700 46px,#feff01 48px,#c3ff3c 52px,#0dfff2 64px,#00fcff 65px,#00d0ff 68px,#0094ff 74px,#004fff 83px,#0007ff 95px,#0000fd 97px,#0000da 107px,#0000b6 125px,#0000a3 141px,#000097 170px,#000091 402px,#000090 450px)"></i>
<i style="height:6px;background:linear-gradient(90deg,#ff3800 0,#ff1d00 6px,#ff0200 15px,#ff0200 21px,#ff0b00 26px,#ff2b00 33px,#ff5600 37px,#ffad00 43px,#ffea00 47px,#fbff04 49px,#08fff7 65px,#00f6ff 66px,#00c1ff 70px,#0080ff 77px,#003fff 86px,#00f 97px,#0000dc 107px,#0000ba 123px,#0000a3 141px,#000098 168px,#000093 264px,#000090 450px)"></i>
<i style="height:7px;background:linear-gradient(90deg,#ff3900 0,#ff1d00 6px,#fe0000 16px,#ff0400 24px,#ff1300 29px,#ff2d00 34px,#ff5a00 38px,#ffb100 44px,#ffed00 48px,#fffa00 49px,#f7ff08 50px,#02fffd 66px,#00c9ff 70px,#008eff 76px,#0051ff 84px,#000dff 95px,#0000fd 98px,#00d 107px,#00b 123px,#0000a6 138px,#000098 167px,#000093 267px,#000090 450px)"></i>
<i style="height:6px;background:linear-gradient(90deg,#ff3c00 0,#ff1e00 6px,#fe0000 16px,#fe0000 22px,#ff0800 27px,#ff2800 34px,#f40 37px,#ff9600 43px,#ffe300 48px,#fffd00 50px,#e5ff1a 52px,#0dfff2 66px,#00fcff 67px,#00d0ff 70px,#0093ff 76px,#05f 84px,#0010ff 95px,#0001ff 98px,#0000d9 109px,#0000b7 126px,#0000a4 141px,#000098 168px,#000093 268px,#000091 450px)"></i>
<i style="height:6px;background:linear-gradient(90deg,#ff3e00 0,#ff1f00 6px,#f00 16px,#fb0000 20px,#ff0300 26px,#ff1d00 33px,#ff3200 36px,#ff6100 40px,#fff400 50px,#fdff02 51px,#08fff7 67px,#00f6ff 68px,#00c1ff 72px,#007fff 79px,#003eff 88px,#0003ff 98px,#0000ea 104px,#0000c8 117px,#0000a7 138px,#000098 168px,#000093 271px,#000091 450px)"></i>
<i style="height:7px;background:linear-gradient(90deg,#ff4000 0,#ff2000 6px,#f00 16px,#f90000 20px,#ff0300 27px,#ff1e00 34px,#ff3500 37px,#ff6500 41px,#ffea00 50px,#faff05 52px,#02fffd 68px,#00c8ff 72px,#0084ff 79px,#003bff 89px,#0001ff 99px,#0000da 110px,#0000bc 124px,#0000a5 141px,#000098 168px,#000093 271px,#000091 450px)"></i>
<i style="height:6px;background:linear-gradient(90deg,#ff4200 0,#ff2100 6px,#f00 16px,#f80000 20px,#ff0200 28px,#ff2500 36px,#ff4e00 40px,#ffa300 46px,#fe0 51px,#fffb00 52px,#f6ff09 53px,#0dfff2 68px,#00fcff 69px,#00d0ff 72px,#0092ff 78px,#004cff 87px,#0004ff 99px,#0000fa 101px,#0000d8 111px,#0000b8 127px,#0000a4 143px,#000098 170px,#000093 270px,#000091 450px)"></i>
<i style="height:6px;background:linear-gradient(90deg,#f40 0,#ff1e00 7px,#f00 16px,#f70000 21px,#ff0200 29px,#ff2000 36px,#ff3b00 39px,#ff6c00 43px,#ffe400 51px,#fffe00 53px,#c1ff3e 57px,#07fff8 69px,#00f6ff 70px,#0cf 73px,#008fff 79px,#0050ff 87px,#0007ff 99px,#0000fc 101px,#0000da 111px,#0000b2 131px,#0000a0 149px,#000097 177px,#000091 401px,#000091 450px)"></i>
<i style="height:6px;background:linear-gradient(90deg,#ff4600 0,#ff1f00 7px,#f00 16px,#f60000 21px,#ff0200 30px,#f20 37px,#ff4900 41px,#ff9d00 47px,#ffe800 52px,#fcff03 54px,#01fffe 70px,#00c8ff 74px,#008cff 80px,#004eff 88px,#0009ff 99px,#00f 101px,#0000de 110px,#0000b8 128px,#0000a4 144px,#000098 171px,#000093 271px,#000091 450px)"></i>
<i style="height:7px;background:linear-gradient(90deg,#ff4800 0,#ff2000 7px,#f00 16px,#f40000 22px,#fe0000 30px,#ff1d00 37px,#ff3600 40px,#ff7500 45px,#ffec00 53px,#fff900 54px,#f7ff08 55px,#0cfff3 70px,#00faff 71px,#00cfff 74px,#0091ff 80px,#0052ff 88px,#000cff 99px,#0000fd 102px,#0000da 112px,#0000b2 132px,#0000a0 150px,#000097 178px,#000091 406px,#000091 450px)"></i>
<i style="height:6px;background:linear-gradient(90deg,#ff4b00 0,#ff2100 7px,#ff0100 16px,#f30000 23px,#f00 31px,#ff1f00 38px,#ff3a00 41px,#ff7900 46px,#ffe200 53px,#fffd00 55px,#e3ff1c 57px,#a2ff5d 61px,#06fff9 71px,#00f4ff 72px,#00bfff 76px,#007cff 83px,#0034ff 93px,#00f 102px,#0000db 112px,#0000b3 132px,#0000a2 147px,#000097 177px,#000091 413px,#000091 450px)"></i>
<i style="height:6px;background:linear-gradient(90deg,#ff4d00 0,#f20 7px,#ff0100 16px,#f20000 23px,#fc0000 31px,#ff0400 33px,#ff2000 39px,#ff4900 43px,#ff8d00 48px,#fff400 55px,#fdff02 56px,#9dff62 62px,#0ff 72px,#00d2ff 75px,#0093ff 81px,#004bff 90px,#0002ff 102px,#0000d8 114px,#0000b2 133px,#0000a0 151px,#000097 179px,#000091 407px,#000091 450px)"></i>
<i style="height:7px;background:linear-gradient(90deg,#ff4f00 0,#ff1f00 8px,#fd0000 17px,#f10000 24px,#fc0000 32px,#ff0500 34px,#ff1c00 39px,#ff4100 43px,#ff7400 47px,#ffeb00 55px,#fff800 56px,#f8ff07 57px,#98ff67 63px,#0afff5 72px,#00f8ff 73px,#00ceff 76px,#008fff 82px,#004fff 90px,#000aff 101px,#00f 103px,#0000db 113px,#0000b3 133px,#0000a2 148px,#000097 178px,#000091 414px,#000091 450px)"></i>
<i style="height:6px;background:linear-gradient(90deg,#ff5200 0,#ff2000 8px,#fe0000 17px,#f00000 24px,#f90000 32px,#ff0500 35px,#ff1d00 40px,#ff4500 44px,#ff7900 48px,#ffef00 56px,#fffd00 57px,#d1ff2e 60px,#03fffc 73px,#00bdff 78px,#0082ff 84px,#003fff 93px,#0002ff 103px,#0000d8 115px,#0000b2 134px,#0000a0 152px,#000097 180px,#000091 412px,#000091 450px)"></i>
<i style="height:6px;background:linear-gradient(90deg,#ff5400 0,#f20 8px,#ff0300 16px,#f10000 22px,#f10000 28px,#ff0200 35px,#ff2000 41px,#ff4900 45px,#ff8d00 50px,#fff400 57px,#fcff03 58px,#0dfff2 73px,#00fcff 74px,#00d0ff 77px,#0090ff 83px,#0050ff 91px,#000aff 102px,#00f 104px,#0000db 114px,#0000b1 135px,#0000a1 151px,#000097 179px,#000091 415px,#000091 450px)"></i>
<i style="height:7px;background:linear-gradient(90deg,#ff5700 0,#ff2300 8px,#ff0300 16px,#f10000 22px,#ef0000 28px,#fa0000 34px,#ff0700 37px,#ff1b00 41px,#ff4100 45px,#ff9200 51px,#fff900 58px,#f7ff08 59px,#96ff69 65px,#06fff9 74px,#00f5ff 75px,#00bfff 79px,#0083ff 85px,#0038ff 95px,#0002ff 104px,#0000d7 116px,#0000b2 135px,#0000a0 153px,#000097 181px,#000091 413px,#000091 450px)"></i>
<i style="height:6px;background:linear-gradient(90deg,#ff5a00 0,#ff2a00 7px,#ff0e00 13px,#f00 17px,#e00 24px,#f00000 30px,#fb0000 35px,#ff0400 37px,#ff1d00 42px,#ff4600 46px,#ff7a00 50px,#fff000 58px,#fffe00 59px,#9fff60 65px,#00feff 75px,#00d2ff 78px,#0091ff 84px,#0049ff 93px,#000aff 103px,#00f 105px,#0000de 114px,#00b 130px,#0000a5 146px,#000098 175px,#000093 275px,#000091 450px)"></i>
<i style="height:6px;background:linear-gradient(90deg,#ff5c00 0,#ff2c00 7px,#ff0f00 13px,#fc0000 18px,#ec0000 25px,#f10000 32px,#ff0100 37px,#ff1900 42px,#ff3f00 46px,#ff8000 51px,#ffe800 58px,#faff05 60px,#98ff67 66px,#09fff6 75px,#00f7ff 76px,#00c0ff 80px,#0084ff 86px,#0046ff 94px,#0007ff 104px,#0000fd 106px,#0000df 114px,#0000ba 131px,#0000a5 147px,#000098 174px,#000093 280px,#000091 450px)"></i>
<i style="height:7px;background:linear-gradient(90deg,#ff5f00 0,#ff3400 6px,#ff0f00 13px,#fd0000 18px,#eb0000 25px,#f10000 33px,#ff0200 38px,#ff1b00 43px,#ff4f00 48px,#ffa400 54px,#fffb00 60px,#e2ff1d 62px,#01fffe 76px,#00c7ff 80px,#0092ff 85px,#0050ff 93px,#0009ff 104px,#00f 106px,#0000de 115px,#00b 131px,#0000a5 147px,#000098 176px,#000093 276px,#000091 450px)"></i>
<i style="height:6px;background:linear-gradient(90deg,#ff6200 0,#ff2f00 7px,#ff0c00 14px,#fd0000 18px,#ea0000 26px,#ef0000 33px,#ff0300 39px,#ff1e00 44px,#ff5400 49px,#fa0 55px,#fff300 60px,#fdff02 61px,#9aff65 67px,#0afff5 76px,#00f8ff 77px,#00c1ff 81px,#0084ff 87px,#0045ff 95px,#0007ff 105px,#0000fc 107px,#0000dc 116px,#0000b8 133px,#0000a3 150px,#000098 177px,#000093 277px,#000091 450px)"></i>
<i style="height:6px;background:linear-gradient(90deg,#ff6500 0,#ff3e00 5px,#ff1500 12px,#fe0000 18px,#e90000 26px,#ef0000 34px,#f00 39px,#ff1a00 44px,#ff4100 48px,#ff9200 54px,#fff900 61px,#f5ff0a 62px,#a2ff5d 67px,#02fffd 77px,#00c7ff 81px,#0092ff 86px,#0050ff 94px,#0009ff 105px,#0000fe 107px,#0000db 117px,#0000b7 134px,#0000a4 149px,#000098 176px,#000093 279px,#000091 450px)"></i>
<i style="height:7px;background:linear-gradient(90deg,#ff6800 0,#ff3f00 5px,#ff1200 13px,#fe0000 18px,#e90000 26px,#ec0000 33px,#f80000 38px,#ff0200 40px,#ff1d00 45px,#ff5300 50px,#ffa800 56px,#feff01 62px,#9bff64 68px,#0afff5 77px,#00f9ff 78px,#00c1ff 82px,#0084ff 88px,#0045ff 96px,#0006ff 106px,#0000fc 108px,#0000d9 118px,#0000b1 138px,#0000a1 154px,#000097 182px,#000091 426px,#000091 450px)"></i>
<i style="height:6px;background:linear-gradient(90deg,#ff6b00 0,#ff4100 5px,#ff1300 13px,#f00 18px,#e90000 26px,#e90000 32px,#f60000 38px,#ff0300 41px,#ff1900 45px,#ff4000 49px,#ff8200 54px,#fff800 62px,#f6ff09 63px,#a3ff5c 68px,#02fffd 78px,#00c7ff 82px,#08f 88px,#0048ff 96px,#0008ff 106px,#0000fd 108px,#0000da 118px,#0000b5 136px,#0000a1 154px,#000097 183px,#000091 423px,#000091 450px)"></i>
<i style="height:6px;background:linear-gradient(90deg,#ff6e00 0,#ff4a00 4px,#ff1800 12px,#f00 18px,#e90000 26px,#e70000 31px,#f30000 38px,#ff0100 41px,#ff1500 45px,#ff3a00 49px,#ff7b00 54px,#ff0 63px,#af5 68px,#0afff5 78px,#00f8ff 79px,#00c1ff 83px,#008cff 88px,#004bff 96px,#000aff 106px,#00f 108px,#0000de 117px,#00b 133px,#0000a5 149px,#000098 178px,#000093 281px,#000091 450px)"></i>
<i style="height:6px;background:linear-gradient(90deg,#ff7100 0,#ff4c00 4px,#ff1400 13px,#ff0100 18px,#e90000 26px,#e50000 30px,#f10000 38px,#ff0200 42px,#ff1800 46px,#ff4c00 51px,#ff8200 55px,#fff800 63px,#f6ff09 64px,#b2ff4d 68px,#01fffe 79px,#00c6ff 83px,#0087ff 89px,#0047ff 97px,#000cff 106px,#0000fc 109px,#0000dc 118px,#0000b8 135px,#0000a4 151px,#000098 178px,#000093 281px,#000091 450px)"></i>
<i style="height:7px;background:linear-gradient(90deg,#ff7400 0,#ff4e00 4px,#ff1a00 12px,#ff0100 18px,#e50000 28px,#e90000 35px,#f70000 40px,#f00 42px,#ff1400 46px,#ff4600 51px,#ff9800 57px,#feff01 64px,#a9ff56 69px,#08fff7 79px,#00f6ff 80px,#00bfff 84px,#0081ff 90px,#003bff 99px,#0004ff 108px,#0000fa 110px,#00d 118px,#0000b7 136px,#0000a3 152px,#000098 179px,#000093 279px,#000091 450px)"></i>
<i style="height:6px;background:linear-gradient(90deg,#f70 0,#ff5000 4px,#ff1c00 12px,#ff0200 18px,#e50000 28px,#e60000 34px,#f40000 40px,#ff0200 43px,#ff1800 47px,#ff4c00 52px,#ffa100 58px,#fff900 64px,#f5ff0a 65px,#b0ff4f 69px,#00fdff 80px,#00c4ff 84px,#0085ff 90px,#0045ff 98px,#0005ff 108px,#0000fb 110px,#0000db 119px,#0000b9 135px,#0000a5 150px,#000098 179px,#000093 282px,#000091 450px)"></i>
<i style="height:6px;background:linear-gradient(90deg,#ff7900 0,#ff5200 4px,#ff1d00 12px,#ff0200 18px,#e50000 28px,#e50000 34px,#f20000 40px,#f00 43px,#ff1500 47px,#ff4700 52px,#ff8b00 57px,#fff200 64px,#fcff03 65px,#a7ff58 70px,#05fffa 80px,#00e4ff 82px,#00a6ff 87px,#006eff 93px,#0025ff 103px,#0002ff 109px,#0000da 120px,#0000b8 136px,#0000a6 150px,#000098 178px,#000093 284px,#000091 450px)"></i>
<i style="height:7px;background:linear-gradient(90deg,#ff7c00 0,#ff5400 4px,#ff2a00 10px,#ff0a00 16px,#fb0000 20px,#e40000 28px,#e40000 34px,#f00000 40px,#ff0200 44px,#ff1900 48px,#ff5a00 54px,#fffb00 65px,#e0ff1f 67px,#9eff61 71px,#0cfff3 80px,#00faff 81px,#00c1ff 85px,#008cff 90px,#004aff 98px,#0009ff 108px,#0000fe 110px,#00d 119px,#0000b5 138px,#0000a1 156px,#000097 185px,#000091 429px,#000091 450px)"></i>
<i style="height:6px;background:linear-gradient(90deg,#ff7e00 0,#ff4d00 5px,#ff1900 13px,#fe0000 19px,#e60000 27px,#e20000 33px,#e00 40px,#f00 44px,#ff1600 48px,#f50 54px,#fff500 65px,#f9ff06 66px,#b3ff4c 70px,#01fffe 81px,#00c6ff 85px,#008fff 90px,#004cff 98px,#000aff 108px,#00f 110px,#0000db 120px,#0000b9 136px,#0000a4 152px,#000098 180px,#000093 283px,#000091 450px)"></i>
<i style="height:6px;background:linear-gradient(90deg,#ff8100 0,#ff5700 4px,#ff2600 11px,#ff0300 18px,#f80000 21px,#e20000 29px,#e30000 35px,#f00000 41px,#ff0200 45px,#ff1b00 49px,#ff5100 54px,#ffa600 60px,#ff0 66px,#a9ff56 71px,#07fff8 81px,#00f5ff 82px,#00bdff 86px,#0080ff 92px,#0040ff 100px,#0007ff 109px,#0000fc 111px,#0000d9 121px,#0000b1 141px,#0000a1 157px,#000097 185px,#000091 433px,#000091 450px)"></i>
<i style="height:7px;background:linear-gradient(90deg,#ff8300 0,#ff5000 5px,#ff1b00 13px,#f00 19px,#e40000 28px,#e10000 34px,#e00 41px,#f00 45px,#ff1800 49px,#ff4c00 54px,#ffa100 60px,#fff900 66px,#f4ff0b 67px,#afff50 71px,#0cfff3 81px,#00faff 82px,#00c1ff 86px,#0082ff 92px,#0042ff 100px,#0008ff 109px,#0000fd 111px,#0000da 121px,#0000ba 136px,#0000a5 152px,#000098 179px,#000093 285px,#000091 450px)"></i>
<i style="height:6px;background:linear-gradient(90deg,#ff8500 0,#ff5200 5px,#ff2800 11px,#ff0800 17px,#f00 19px,#e40000 28px,#e00000 34px,#ed0000 41px,#ff0300 46px,#ff1e00 50px,#ff5400 55px,#fff400 66px,#f9ff06 67px,#b3ff4c 71px,#1fe 81px,#0ff 82px,#00c5ff 86px,#008eff 91px,#004bff 99px,#0009ff 109px,#00f 111px,#0000e0 119px,#0000bc 135px,#0000a7 150px,#000098 178px,#000093 291px,#000091 450px)"></i>
<i style="height:6px;background:linear-gradient(90deg,#ff8700 0,#ff5300 5px,#ff2900 11px,#ff0900 17px,#fc0000 20px,#e40000 28px,#df0000 33px,#eb0000 41px,#ff0100 46px,#ff1b00 50px,#ff5100 55px,#ffa600 61px,#feff01 67px,#b8ff47 71px,#05fffa 82px,#00e4ff 84px,#00a5ff 89px,#006dff 95px,#0023ff 105px,#0001ff 111px,#0000db 121px,#0000b9 137px,#0000a4 153px,#000098 181px,#000093 284px,#000091 450px)"></i>
<i style="height:7px;background:linear-gradient(90deg,#ff8900 0,#ff5400 5px,#ff1d00 13px,#ff0100 19px,#e40000 28px,#df0000 33px,#ea0000 41px,#f00 46px,#ff1000 49px,#ff4100 54px,#ff8400 59px,#fffb00 67px,#f2ff0d 68px,#adff52 72px,#09fff6 82px,#00f8ff 83px,#00bfff 87px,#0080ff 93px,#0039ff 102px,#0007ff 110px,#0000fc 112px,#0000d9 122px,#0000b1 142px,#0000a1 158px,#000097 186px,#000091 434px,#000091 450px)"></i>
<i style="height:6px;background:linear-gradient(90deg,#ff8b00 0,#ff5600 5px,#ff2a00 11px,#ff0500 18px,#f90000 21px,#e00000 30px,#e00000 36px,#ec0000 42px,#ff0300 47px,#ff1600 50px,#ff4a00 55px,#ff9e00 61px,#fff700 67px,#f6ff09 68px,#b1ff4e 72px,#0efff1 82px,#00fbff 83px,#00c2ff 87px,#0082ff 93px,#0042ff 101px,#0008ff 110px,#0000fd 112px,#0000da 122px,#0000b8 138px,#0000a6 152px,#000098 180px,#000093 286px,#000091 450px)"></i>
<i style="height:6px;background:linear-gradient(90deg,#ff8c00 0,#ff5700 5px,#ff2b00 11px,#ff0a00 17px,#fd0000 20px,#e20000 29px,#df0000 35px,#eb0000 42px,#ff0200 47px,#ff1d00 51px,#ff5300 56px,#fff300 67px,#faff05 68px,#b4ff4b 72px,#0ff 83px,#00c5ff 87px,#0084ff 93px,#003cff 102px,#0003ff 111px,#0000f1 115px,#0000d0 126px,#0000ac 146px,#00009b 169px,#000094 230px,#000091 450px)"></i>
<i style="height:7px;background:linear-gradient(90deg,#ff8e00 0,#ff5800 5px,#ff2500 12px,#ff0200 19px,#e00000 30px,#de0000 35px,#ea0000 42px,#f00 47px,#ff1b00 51px,#ff5000 56px,#feff01 68px,#b7ff48 72px,#03fffc 83px,#0bf 88px,#0086ff 93px,#004cff 100px,#0009ff 110px,#00f 112px,#00d 121px,#0000b5 140px,#0000a1 158px,#000097 187px,#000091 435px,#000091 450px)"></i>
<i style="height:6px;background:linear-gradient(90deg,#ff8f00 0,#ff5900 5px,#ff2c00 11px,#ff0600 18px,#fa0000 21px,#e20000 29px,#d00 34px,#e90000 42px,#fe0000 47px,#ff1900 51px,#ff4e00 56px,#ffed00 67px,#fffd00 68px,#baff45 72px,#06fff9 83px,#00f5ff 84px,#00bdff 88px,#007eff 94px,#003fff 102px,#000aff 110px,#00f 112px,#0000de 121px,#0000be 135px,#0000a6 152px,#000098 180px,#000093 290px,#000091 450px)"></i>
<i style="height:6px;background:linear-gradient(90deg,#ff9000 0,#ff5a00 5px,#f30 10px,#ff0600 18px,#fa0000 21px,#e20000 29px,#d00 35px,#ec0000 43px,#fe0000 47px,#ff0f00 50px,#ff4000 55px,#ff8300 60px,#fffa00 68px,#f2ff0d 69px,#adff52 73px,#09fff6 83px,#00f7ff 84px,#00bfff 88px,#0089ff 93px,#004eff 100px,#000bff 110px,#0001ff 112px,#0000db 122px,#0000b9 138px,#0000a4 154px,#000098 181px,#000093 287px,#000091 450px)"></i>
<i style="height:6px;background:linear-gradient(90deg,#ff9100 0,#ff5100 6px,#ff2700 12px,#ff0200 19px,#e00000 30px,#d00 35px,#e80000 42px,#ff0300 48px,#ff1700 51px,#ff4a00 56px,#ffbc00 64px,#fff800 68px,#f5ff0a 69px,#bfff40 72px,#0bfff4 83px,#00f9ff 84px,#00c0ff 88px,#0081ff 94px,#0040ff 102px,#0006ff 111px,#0000fc 113px,#0000d9 123px,#0000b8 139px,#0000a5 153px,#000098 182px,#000093 285px,#000091 450px)"></i>
<i style="height:7px;background:linear-gradient(90deg,#ff9200 0,#ff5b00 5px,#ff3400 10px,#ff0b00 17px,#fe0000 20px,#e20000 29px,#dc0000 34px,#e80000 42px,#ff0200 48px,#ff1600 51px,#ff4900 56px,#ff9d00 62px,#fff600 68px,#f7ff08 69px,#c0ff3f 72px,#0dfff2 83px,#00fbff 84px,#00c1ff 88px,#0081ff 94px,#0041ff 102px,#000cff 110px,#0000fc 113px,#0000d9 123px,#0000af 144px,#00009e 164px,#000096 198px,#000091 450px)"></i>
<i style="height:6px;background:linear-gradient(90deg,#ff9300 0,#ff5b00 5px,#ff2e00 11px,#ff0700 18px,#fa0000 21px,#e20000 29px,#dc0000 34px,#e70000 42px,#ff0100 48px,#ff1e00 52px,#ff5400 57px,#fff500 68px,#f8ff07 69px,#b2ff4d 73px,#0efff1 83px,#00fcff 84px,#00c2ff 88px,#0082ff 94px,#003aff 103px,#0007ff 111px,#0000fc 113px,#0000d9 123px,#0000b1 143px,#0000a1 159px,#000097 187px,#000091 439px,#000091 450px)"></i>
<i style="height:6px;background:linear-gradient(90deg,#ff9300 0,#ff5200 6px,#ff1b00 14px,#fe0000 20px,#e20000 29px,#dc0000 35px,#ea0000 43px,#ff0100 48px,#ff1400 51px,#ff5300 57px,#fff400 68px,#f9ff06 69px,#b3ff4c 73px,#00fdff 84px,#00c3ff 88px,#008cff 93px,#0049ff 101px,#0007ff 111px,#0000fd 113px,#0000dc 122px,#0000b6 140px,#0000a5 154px,#000098 181px,#000093 287px,#000091 450px)"></i>
<i style="height:7px;background:linear-gradient(90deg,#ff9300 0,#ff5300 6px,#ff2e00 11px,#ff0700 18px,#fa0000 21px,#e20000 29px,#dc0000 35px,#ea0000 43px,#ff0100 48px,#ff1400 51px,#ff4700 56px,#ff8b00 61px,#fff300 68px,#faff05 69px,#b4ff4b 73px,#00feff 84px,#00c4ff 88px,#008cff 93px,#0049ff 101px,#0007ff 111px,#0000fd 113px,#0000dc 122px,#0000b6 140px,#0000a5 154px,#000098 181px,#000093 287px,#000091 450px)"></i>
<i style="height:6px;background:linear-gradient(90deg,#ff9300 0,#ff5300 6px,#ff2800 12px,#ff0700 18px,#fa0000 21px,#e20000 29px,#dc0000 35px,#ea0000 43px,#ff0100 48px,#ff1400 51px,#ff3b00 55px,#ff7c00 60px,#fff300 68px,#faff05 69px,#b4ff4b 73px,#00feff 84px,#00c4ff 88px,#008dff 93px,#0049ff 101px,#0007ff 111px,#0000fd 113px,#0000dc 122px,#0000b6 140px,#0000a5 154px,#000098 181px,#000093 287px,#000091 450px)"></i>
</div>
<div class="hm" style="left:785px;top:576px;width:450px;height:370px">
<i style="height:6px;background:linear-gradient(90deg,#0000b2 0,#0000c8 21px,#0000f0 40px,#00f 46px,#0015ff 51px,#003bff 55px,#0082ff 61px,#00a5ff 63px,#0ff 67px,#f0ff0f 79px,#fffa00 80px,#ff4b00 88px,#ff3100 89px,#ff1000 90px,#f40000 91px,#d80000 93px,#a50000 98px,#810000 103px,#800000 110px,#970000 114px,#be0000 118px,#e00 122px,#f00 123px,#ff8b00 129px,#ffeb00 133px,#ff0 134px,#3dffc2 145px,#06fff9 148px,#00f5ff 149px,#006fff 158px,#0040ff 162px,#0005ff 169px,#0000f4 171px,#0000d5 177px,#00b 185px,#0000a6 198px,#000098 221px,#000094 269px,#000091 450px)"></i>
<i style="height:6px;background:linear-gradient(90deg,#0000b1 0,#0000ca 23px,#0000f8 44px,#0005ff 48px,#0019ff 52px,#004cff 57px,#007cff 61px,#009bff 63px,#00f3ff 67px,#0bfff4 68px,#fbff04 80px,#ffda00 82px,#f50 88px,#ff1e00 90px,#fd0000 91px,#dc0000 93px,#9f0000 99px,#820000 103px,#810000 111px,#9b0000 115px,#c40000 119px,#f60000 123px,#ff0b00 124px,#ffb000 131px,#fff600 134px,#f5ff0a 135px,#57ffa8 144px,#0dfff2 148px,#00fcff 149px,#0075ff 158px,#04f 162px,#0000fe 170px,#0000da 176px,#0000be 184px,#0000a6 198px,#000098 222px,#000094 270px,#000091 450px)"></i>
<i style="height:6px;background:linear-gradient(90deg,#0000b1 0,#0000c6 21px,#0000e6 37px,#00f 47px,#0016ff 52px,#003cff 56px,#0083ff 62px,#00a5ff 64px,#00feff 68px,#f1ff0e 80px,#fff900 81px,#ff4700 89px,#ff2c00 90px,#ff0b00 91px,#f00000 92px,#ca0000 95px,#9a0000 100px,#800000 104px,#800000 111px,#960000 115px,#bd0000 119px,#e00 123px,#ff0100 124px,#ff8c00 130px,#ffec00 134px,#feff01 135px,#4dffb2 145px,#04fffb 149px,#00e3ff 151px,#006cff 159px,#003dff 163px,#0002ff 170px,#0000d7 177px,#0000ba 186px,#0000a3 201px,#000095 233px,#000091 450px)"></i>
<i style="height:6px;background:linear-gradient(90deg,#0000b0 0,#0000c5 21px,#0000e7 38px,#0002ff 48px,#0013ff 52px,#0037ff 56px,#007cff 62px,#009cff 64px,#00f2ff 68px,#0afff5 69px,#fcff03 81px,#ffd800 83px,#ff5200 89px,#ff3900 90px,#ff1900 91px,#f90000 92px,#d90000 94px,#9c0000 100px,#800000 104px,#800000 112px,#9a0000 116px,#c30000 120px,#f60000 124px,#ff0b00 125px,#fff700 135px,#f5ff0a 136px,#5fa 145px,#0bfff4 149px,#00f9ff 150px,#0071ff 159px,#004bff 162px,#0015ff 168px,#0000fc 171px,#00d 176px,#0000bd 185px,#0000a6 199px,#000098 222px,#000094 272px,#000091 450px)"></i>
<i style="height:6px;background:linear-gradient(90deg,#0000af 0,#0000c5 22px,#0000e3 37px,#0001ff 48px,#0010ff 52px,#0032ff 56px,#0076ff 62px,#0093ff 64px,#00d0ff 67px,#00fdff 69px,#f2ff0d 81px,#fff800 82px,#ff5c00 89px,#ff2800 91px,#ff0600 92px,#ed0000 93px,#d20000 95px,#9f0000 100px,#810000 104px,#820000 113px,#9e0000 117px,#c80000 121px,#e00 124px,#f00 125px,#ffbd00 133px,#ffed00 135px,#feff01 136px,#4bffb4 146px,#01fffe 150px,#0068ff 160px,#003aff 164px,#0000fe 171px,#0000da 177px,#0000be 185px,#0000a5 200px,#000097 225px,#000091 417px,#000091 450px)"></i>
<i style="height:6px;background:linear-gradient(90deg,#0000af 0,#0000c7 24px,#0000e9 40px,#0002ff 49px,#0014ff 53px,#0038ff 57px,#007dff 63px,#009bff 65px,#00f0ff 69px,#08fff7 70px,#fcff03 82px,#ffd700 84px,#ff4f00 90px,#ff3600 91px,#ff1500 92px,#f50000 93px,#d70000 95px,#a20000 100px,#830000 104px,#800000 110px,#800000 113px,#900 117px,#c20000 121px,#e60000 124px,#f60000 125px,#ff0b00 126px,#fff700 136px,#f5ff0a 137px,#41ffbe 147px,#09fff6 150px,#00f7ff 151px,#006dff 160px,#003eff 164px,#0002ff 171px,#0000dc 177px,#0000bf 185px,#0000a8 198px,#00009a 218px,#000094 254px,#000091 450px)"></i>
<i style="height:6px;background:linear-gradient(90deg,#0000ae 0,#0000c6 24px,#0000e0 37px,#0001ff 49px,#0017ff 54px,#005eff 61px,#0083ff 64px,#00b9ff 67px,#00fbff 70px,#26ffd9 72px,#f2ff0d 82px,#fff800 83px,#ff5a00 90px,#ff2500 92px,#ff0300 93px,#dc0000 95px,#a50000 100px,#850000 104px,#800000 106px,#810000 114px,#9c0000 118px,#df0000 124px,#f00 126px,#ff8c00 132px,#ffec00 136px,#feff01 137px,#5cffa3 146px,#00feff 151px,#0081ff 159px,#004cff 163px,#000dff 170px,#0000fc 172px,#0000d9 178px,#0000bd 186px,#0000a5 201px,#000098 224px,#000094 272px,#000091 450px)"></i>
<i style="height:7px;background:linear-gradient(90deg,#0000ad 0,#0000c5 24px,#0000e1 38px,#0002ff 50px,#0014ff 54px,#0039ff 58px,#007cff 64px,#00aeff 67px,#0ef 70px,#05fffa 71px,#fcff03 83px,#ffd700 85px,#ff4e00 91px,#f30 92px,#ff1200 93px,#f30000 94px,#d40000 96px,#9f0000 101px,#800000 105px,#800000 114px,#8f0000 117px,#b50000 121px,#e50000 125px,#f40000 126px,#ff0a00 127px,#ffb000 134px,#fff600 137px,#f5ff0a 138px,#65ff9a 146px,#07fff8 151px,#00f5ff 152px,#0079ff 160px,#0050ff 163px,#0018ff 169px,#00f 172px,#0000e5 176px,#0000c7 183px,#0000ad 195px,#00009e 210px,#000094 245px,#000091 450px)"></i>
<i style="height:6px;background:linear-gradient(90deg,#0000ad 0,#0000c2 23px,#0000df 38px,#0001ff 50px,#0018ff 55px,#003eff 59px,#0083ff 65px,#00a4ff 67px,#00f8ff 71px,#0efff1 72px,#f1ff0e 83px,#fff800 84px,#ff5900 91px,#ff2300 93px,#f00 94px,#e80000 95px,#ac0000 100px,#820000 105px,#800000 115px,#9b0000 119px,#c60000 123px,#ec0000 126px,#fd0000 127px,#ff5a00 131px,#ffeb00 137px,#ff0 138px,#48ffb7 148px,#0ffff0 151px,#00fcff 152px,#007eff 160px,#0049ff 164px,#0013ff 170px,#0003ff 172px,#0000dc 178px,#0000bd 187px,#0000a6 201px,#009 222px,#000094 262px,#000091 450px)"></i>
<i style="height:6px;background:linear-gradient(90deg,#0000ac 0,#0000c3 24px,#0000db 37px,#0000fe 50px,#000fff 54px,#0025ff 57px,#007cff 65px,#009aff 67px,#02fffd 72px,#fbff04 84px,#ffd700 86px,#ff4c00 92px,#ff3200 93px,#ff1000 94px,#f10000 95px,#d20000 97px,#a50000 101px,#840000 105px,#800000 107px,#810000 116px,#9e0000 120px,#e30000 126px,#f30000 127px,#ff0800 128px,#ffc700 136px,#fff500 138px,#f6ff09 139px,#51ffae 148px,#05fffa 152px,#00e3ff 154px,#0067ff 162px,#0043ff 165px,#000eff 171px,#0000fd 173px,#0000e3 177px,#0000c3 185px,#0000ab 197px,#00009b 216px,#000094 254px,#000091 450px)"></i>
<i style="height:6px;background:linear-gradient(90deg,#0000ac 0,#0000c1 24px,#0000de 39px,#0001ff 51px,#0018ff 56px,#0069ff 64px,#0091ff 67px,#00dfff 71px,#00f5ff 72px,#0bfff4 73px,#f0ff0f 84px,#fff800 85px,#ff5800 92px,#ff2100 94px,#fd0000 95px,#e60000 96px,#b40000 100px,#8e0000 104px,#800000 106px,#800000 116px,#8a0000 118px,#ac0000 122px,#ea0000 127px,#fb0000 128px,#ff2a00 130px,#ffea00 138px,#fffe00 139px,#5bffa4 148px,#0dfff2 152px,#00fbff 153px,#008bff 160px,#0052ff 164px,#0019ff 170px,#00f 173px,#0000db 179px,#0000bc 188px,#0000a4 203px,#000096 232px,#000091 450px)"></i>
<i style="height:6px;background:linear-gradient(90deg,#0000ab 0,#0000c0 24px,#0000da 38px,#0000fe 51px,#0015ff 56px,#0039ff 60px,#007cff 66px,#09f 68px,#00feff 73px,#faff05 85px,#ffd800 87px,#ff4b00 93px,#ff3000 94px,#ff0e00 95px,#ef0000 96px,#d00000 98px,#900 103px,#820000 106px,#800000 117px,#9d0000 121px,#d50000 126px,#f10000 128px,#ff0600 129px,#ffad00 136px,#fff400 139px,#f7ff08 140px,#51ffae 149px,#04fffb 153px,#00e1ff 155px,#0064ff 163px,#0036ff 167px,#0003ff 173px,#00d 179px,#0000bd 188px,#0000a6 202px,#000098 225px,#000094 275px,#000091 450px)"></i>
<i style="height:6px;background:linear-gradient(90deg,#00a 0,#0000c3 27px,#00d 40px,#0001ff 52px,#0012ff 56px,#0034ff 60px,#0075ff 66px,#00a1ff 69px,#00f1ff 73px,#08fff7 74px,#efff10 85px,#fff900 86px,#ff5700 93px,#ff3e00 94px,#fb0000 96px,#e40000 97px,#b10000 101px,#8b0000 105px,#800000 107px,#820000 118px,#a00000 122px,#e80000 128px,#f90000 129px,#ff1000 130px,#ffe800 139px,#fffd00 140px,#81ff7e 147px,#0cfff3 153px,#00faff 154px,#0079ff 162px,#04f 166px,#0006ff 173px,#0000fd 174px,#0000da 180px,#0000be 188px,#0000a5 203px,#000097 228px,#000091 432px,#000091 450px)"></i>
<i style="height:6px;background:linear-gradient(90deg,#00a 0,#0000bf 25px,#0000db 40px,#0002ff 53px,#0015ff 57px,#0039ff 61px,#007bff 67px,#0097ff 69px,#00faff 74px,#25ffda 76px,#f9ff06 86px,#ffef00 87px,#ff6300 93px,#ff2f00 95px,#ff0c00 96px,#ed0000 97px,#ce0000 99px,#a00000 103px,#800000 107px,#800000 118px,#920000 121px,#b00 125px,#ef0000 129px,#ff0400 130px,#ffab00 137px,#fff200 140px,#f8ff07 141px,#50ffaf 150px,#03fffc 154px,#009eff 160px,#0054ff 165px,#02f 170px,#0001ff 174px,#0000dc 180px,#0000bf 188px,#0000a8 201px,#00009a 221px,#000094 257px,#000091 450px)"></i>
<i style="height:6px;background:linear-gradient(90deg,#0000a9 0,#0000c0 26px,#0000d7 39px,#0001ff 53px,#0019ff 58px,#0053ff 64px,#0081ff 68px,#009fff 70px,#0ef 74px,#04fffb 75px,#ef1 86px,#fffa00 87px,#ff5700 94px,#ff1e00 96px,#f90000 97px,#e30000 98px,#ba0000 101px,#910000 105px,#810000 107px,#800000 119px,#9e0000 123px,#e60000 129px,#f70000 130px,#ff0e00 131px,#ffe600 140px,#fffb00 141px,#deff21 143px,#46ffb9 151px,#0bfff4 154px,#00f8ff 155px,#0076ff 163px,#004dff 166px,#0014ff 172px,#0004ff 174px,#0000f4 176px,#0000d1 183px,#0000b9 191px,#0000a3 206px,#000096 234px,#000091 450px)"></i>
<i style="height:6px;background:linear-gradient(90deg,#0000a8 0,#0000c1 28px,#00d 42px,#0002ff 54px,#001dff 59px,#006eff 67px,#0096ff 70px,#00f7ff 75px,#0dfff2 76px,#f8ff07 87px,#fff000 88px,#ff4a00 95px,#ff2e00 96px,#ff0a00 97px,#eb0000 98px,#bf0000 101px,#940000 105px,#840000 107px,#800000 109px,#820000 120px,#a20000 124px,#de0000 129px,#ff0100 131px,#ffa900 138px,#fff000 141px,#faff05 142px,#3cffc3 152px,#01fffe 155px,#007cff 163px,#0051ff 166px,#0018ff 172px,#0000fe 175px,#0000db 181px,#0000be 189px,#0000a5 204px,#000096 234px,#000091 450px)"></i>
<i style="height:6px;background:linear-gradient(90deg,#0000a8 0,#0000bc 25px,#0000d8 41px,#00f 54px,#0019ff 59px,#0053ff 65px,#0080ff 69px,#00b0ff 72px,#0ff 76px,#ecff13 87px,#fffc00 88px,#ff5600 95px,#ff3c00 96px,#ff1c00 97px,#f70000 98px,#e10000 99px,#ab0000 103px,#860000 107px,#800000 108px,#800000 120px,#930000 123px,#be0000 127px,#e40000 130px,#f50000 131px,#ff0c00 132px,#ffb400 139px,#fffa00 142px,#dfff20 144px,#45ffba 152px,#0afff5 155px,#00f7ff 156px,#0073ff 164px,#004bff 167px,#0012ff 173px,#0002ff 175px,#00d 181px,#0000bf 189px,#0000a7 203px,#009 225px,#000094 265px,#000091 450px)"></i>
<i style="height:6px;background:linear-gradient(90deg,#0000a7 0,#0000bf 28px,#0000d9 42px,#0002ff 55px,#001dff 60px,#006eff 68px,#0095ff 71px,#00f3ff 76px,#09fff6 77px,#f7ff08 88px,#fff100 89px,#ff4900 96px,#ff2d00 97px,#ff0800 98px,#ea0000 99px,#ca0000 101px,#9a0000 105px,#810000 108px,#800000 121px,#a00000 125px,#dc0000 130px,#fe0000 132px,#ff8e00 138px,#ffef00 142px,#fbff04 143px,#63ff9c 151px,#0ff 156px,#0079ff 164px,#04f 168px,#0005ff 175px,#0000f5 177px,#0000d5 183px,#0000b9 192px,#0000a2 208px,#000095 239px,#000091 450px)"></i>
<i style="height:6px;background:linear-gradient(90deg,#0000a7 0,#0000bd 27px,#0000d2 40px,#00f 55px,#001aff 60px,#0053ff 66px,#0080ff 70px,#009cff 72px,#00fcff 77px,#27ffd8 79px,#fffd00 89px,#ff5600 96px,#ff1b00 98px,#f50000 99px,#df0000 100px,#a80000 104px,#830000 108px,#800000 114px,#800000 121px,#890000 123px,#b00000 127px,#e20000 131px,#f30000 132px,#ff0900 133px,#ffe300 142px,#fff800 143px,#f3ff0c 144px,#45ffba 153px,#09fff6 156px,#00f6ff 157px,#0070ff 165px,#003dff 169px,#00f 176px,#0000db 182px,#0000bc 191px,#0000a4 207px,#000096 235px,#000091 450px)"></i>
<i style="height:6px;background:linear-gradient(90deg,#0000a6 0,#0000bf 30px,#00d 45px,#0002ff 56px,#0016ff 60px,#04f 65px,#0079ff 70px,#00a4ff 73px,#00f0ff 77px,#05fffa 78px,#f5ff0a 89px,#fff200 90px,#ff4800 97px,#ff2c00 98px,#ff0700 99px,#e80000 100px,#c70000 102px,#970000 106px,#800000 109px,#800000 122px,#950000 125px,#cd0000 130px,#e90000 132px,#fc0000 133px,#ff4300 136px,#ffed00 143px,#fdff02 144px,#4fffb0 153px,#1fe 156px,#00feff 157px,#0076ff 165px,#0041ff 169px,#0003ff 176px,#00d 182px,#0000bd 191px,#0000a5 206px,#000098 229px,#000094 279px,#000091 450px)"></i>
<i style="height:6px;background:linear-gradient(90deg,#0000a6 0,#00b 27px,#0000d1 41px,#0000fb 55px,#0004ff 57px,#001aff 61px,#0068ff 69px,#009bff 73px,#00f9ff 78px,#0efff1 79px,#fffe00 90px,#f50 97px,#ff3a00 98px,#ff1900 99px,#f30000 100px,#d00 101px,#a50000 105px,#810000 109px,#810000 123px,#a20000 127px,#e00000 132px,#f10000 133px,#ff0700 134px,#fff700 144px,#f4ff0b 145px,#4fb 154px,#07fff8 157px,#00f4ff 158px,#007dff 165px,#0051ff 168px,#0016ff 174px,#0000fd 177px,#0000da 183px,#0000bc 192px,#0000a4 207px,#000096 236px,#000091 450px)"></i>
<i style="height:6px;background:linear-gradient(90deg,#0000a5 0,#0000bd 30px,#0000d4 43px,#0002ff 57px,#001eff 62px,#006dff 70px,#0093ff 73px,#02fffd 79px,#f4ff0b 90px,#fff300 91px,#ff6100 97px,#ff2a00 99px,#ff0400 100px,#e60000 101px,#c50000 103px,#940000 107px,#830000 109px,#800000 115px,#800000 123px,#8b0000 125px,#a70000 128px,#e70000 133px,#fa0000 134px,#ff1200 135px,#ffec00 144px,#feff01 145px,#4effb1 154px,#10ffef 157px,#00fcff 158px,#0073ff 166px,#004aff 169px,#01f 175px,#0001ff 177px,#0000dc 183px,#0000bf 191px,#0000a7 205px,#009 226px,#000094 269px,#000091 450px)"></i>
<i style="height:7px;background:linear-gradient(90deg,#0000a5 0,#00b 29px,#0000d2 43px,#00f 57px,#001bff 62px,#0049ff 67px,#007fff 72px,#00abff 75px,#00f6ff 79px,#0bfff4 80px,#ff0 91px,#ff5400 98px,#ff1700 100px,#f10000 101px,#db0000 102px,#a20000 106px,#860000 109px,#800000 110px,#800000 124px,#a10000 128px,#df0000 133px,#ff0500 135px,#fff600 145px,#f5ff0a 146px,#43ffbc 155px,#06fff9 158px,#00f2ff 159px,#007aff 166px,#004eff 169px,#001cff 174px,#0004ff 177px,#0000f4 179px,#0000d1 186px,#0000b9 194px,#0000a3 209px,#000096 237px,#000091 450px)"></i>
<i style="height:6px;background:linear-gradient(90deg,#0000a4 0,#0000bc 31px,#0000d3 44px,#0002ff 58px,#001fff 63px,#006dff 71px,#0092ff 74px,#0ff 80px,#57ffa8 84px,#f4ff0b 91px,#fff400 92px,#ff4600 99px,#ff2800 100px,#ff0200 101px,#e30000 102px,#b40000 105px,#910000 108px,#800000 110px,#820000 125px,#a50000 129px,#e60000 134px,#f80000 135px,#ff1000 136px,#ffa200 142px,#ff0 146px,#4dffb2 155px,#0efff1 158px,#00faff 159px,#0080ff 166px,#0047ff 170px,#0006ff 177px,#0000fe 178px,#0000df 183px,#0000c1 191px,#0000a6 206px,#000098 231px,#000094 281px,#000091 450px)"></i>
<i style="height:6px;background:linear-gradient(90deg,#0000a4 0,#00b 31px,#0000d4 45px,#0000fb 57px,#0004ff 59px,#001bff 63px,#005dff 70px,#008bff 74px,#00bdff 77px,#00f4ff 80px,#08fff7 81px,#ff0 92px,#ff6d00 98px,#ff3600 100px,#ff1400 101px,#e00 102px,#d80000 103px,#9f0000 107px,#830000 110px,#800000 116px,#800000 125px,#950000 128px,#c30000 132px,#d00 134px,#ff0400 136px,#ffae00 143px,#fff500 146px,#f5ff0a 147px,#56ffa9 155px,#04fffb 159px,#00deff 161px,#0076ff 167px,#004bff 170px,#01f 176px,#0001ff 178px,#0000dc 184px,#0000bd 193px,#0000a6 207px,#000098 230px,#000094 283px,#000091 450px)"></i>
<i style="height:6px;background:linear-gradient(90deg,#0000a4 0,#0000b9 30px,#0000d0 44px,#0000f1 55px,#0002ff 59px,#0018ff 63px,#0058ff 70px,#0092ff 75px,#00fcff 81px,#27ffd8 83px,#f3ff0c 92px,#fff400 93px,#ff5f00 99px,#ff2500 101px,#fd0000 102px,#e10000 103px,#bf0000 105px,#980000 108px,#850000 110px,#800000 112px,#810000 126px,#a40000 130px,#e50000 135px,#f70000 136px,#ff0f00 137px,#ffa100 143px,#ffea00 146px,#ff0 147px,#4bffb4 156px,#0cfff3 159px,#00f8ff 160px,#008dff 166px,#0050ff 170px,#0026ff 174px,#0004ff 178px,#0000f4 180px,#0000d1 187px,#0000b7 196px,#0000a2 211px,#000095 242px,#000091 450px)"></i>
<i style="height:6px;background:linear-gradient(90deg,#0000a3 0,#0000b8 30px,#0000d0 45px,#0000f7 57px,#00f 59px,#001cff 64px,#0068ff 72px,#09f 76px,#00f2ff 81px,#06fff9 82px,#ff0 93px,#ff5000 100px,#ff3400 101px,#ff1000 102px,#ea0000 103px,#c50000 105px,#9c0000 108px,#800000 111px,#800000 126px,#8b0000 128px,#b50000 132px,#dc0000 135px,#ff0300 137px,#fff400 147px,#f5ff0a 148px,#5fa 156px,#01fffe 160px,#0072ff 168px,#0048ff 171px,#000fff 177px,#0000fe 179px,#0000db 185px,#0000bc 194px,#0000a4 210px,#000096 238px,#000091 450px)"></i>
<i style="height:6px;background:linear-gradient(90deg,#0000a3 0,#0000b6 28px,#0000ca 43px,#0000e9 54px,#0002ff 60px,#0020ff 65px,#006eff 73px,#00a1ff 77px,#00fbff 82px,#0ffff0 83px,#f3ff0c 93px,#fff300 94px,#ff5c00 100px,#f20 102px,#f90000 103px,#d00 104px,#ad0000 107px,#8b0000 110px,#820000 111px,#800000 127px,#980000 130px,#d50000 135px,#f70000 137px,#ff0e00 138px,#ffea00 147px,#ff0 148px,#49ffb6 157px,#0afff5 160px,#00f5ff 161px,#0079ff 168px,#0059ff 170px,#002cff 174px,#0002ff 179px,#0000d8 186px,#00b 195px,#0000a3 211px,#000096 239px,#000091 450px)"></i>
<i style="height:6px;background:linear-gradient(90deg,#0000a3 0,#0000b5 28px,#0000c9 43px,#0000e4 53px,#00f 60px,#001dff 65px,#0069ff 73px,#009aff 77px,#00f1ff 82px,#05fffa 83px,#5fffa0 87px,#ff0 94px,#ff4d00 101px,#ff3000 102px,#ff0b00 103px,#e70000 104px,#c10000 106px,#980000 109px,#840000 111px,#800000 113px,#820000 128px,#a80000 132px,#dc0000 136px,#ff0300 138px,#ffc600 146px,#fff500 148px,#f5ff0a 149px,#52ffad 157px,#00fdff 161px,#007fff 168px,#0051ff 171px,#001dff 176px,#0004ff 179px,#0000f4 181px,#0000d6 187px,#0000bc 195px,#0000a4 210px,#000097 236px,#000091 428px,#000091 450px)"></i>
<i style="height:6px;background:linear-gradient(90deg,#0000a2 0,#0000b6 30px,#0000c9 44px,#0000e5 54px,#0000fd 60px,#0013ff 64px,#0046ff 70px,#007aff 75px,#00a2ff 78px,#00faff 83px,#0efff1 84px,#f4ff0b 94px,#fff200 95px,#ff5900 101px,#ff1d00 103px,#f30000 104px,#d90000 105px,#a90000 108px,#870000 111px,#800000 112px,#800000 128px,#970000 131px,#d50000 136px,#f70000 138px,#ff0f00 139px,#ffea00 148px,#ff0 149px,#5cffa3 157px,#07fff8 161px,#00f2ff 162px,#0074ff 169px,#0049ff 172px,#0017ff 177px,#0000fe 180px,#0000db 186px,#0000bf 194px,#0000a8 207px,#00009a 227px,#000094 263px,#000091 450px)"></i>
<i style="height:6px;background:linear-gradient(90deg,#0000a2 0,#0000b5 30px,#00c 46px,#0000ea 56px,#00f 61px,#001eff 66px,#0069ff 74px,#009aff 78px,#00f1ff 83px,#04fffb 84px,#5effa1 88px,#fffd00 95px,#ff4a00 102px,#ff2c00 103px,#ff0500 104px,#e20000 105px,#ad0000 108px,#8a0000 111px,#810000 112px,#820000 129px,#9c0000 132px,#dc0000 137px,#ff0300 139px,#fff600 149px,#f4ff0b 150px,#4fffb0 158px,#0ffff0 161px,#00faff 162px,#007aff 169px,#004dff 172px,#001aff 177px,#0001ff 180px,#0000d8 187px,#00b 196px,#0000a3 212px,#000096 240px,#000091 450px)"></i>
<i style="height:6px;background:linear-gradient(90deg,#0000a2 0,#0000b3 28px,#0000c7 44px,#00d 53px,#0000fd 61px,#0014ff 65px,#0047ff 71px,#007bff 76px,#00a3ff 79px,#00faff 84px,#0efff1 85px,#f6ff09 95px,#fff000 96px,#f50 102px,#ff3900 103px,#ff1600 104px,#ed0000 105px,#d50000 106px,#a40000 109px,#830000 112px,#800000 118px,#800000 129px,#8d0000 131px,#c70000 136px,#e40000 138px,#f70000 139px,#ff1000 140px,#ffa300 146px,#ffec00 149px,#fdff02 150px,#58ffa7 158px,#03fffc 162px,#0092ff 168px,#0051ff 172px,#001dff 177px,#0004ff 180px,#0000f4 182px,#0000d6 188px,#0000bc 196px,#0000a4 211px,#000096 240px,#000091 450px)"></i>
<i style="height:6px;background:linear-gradient(90deg,#0000a2 0,#0000b1 27px,#0000c7 45px,#0000e2 55px,#0001ff 62px,#0020ff 67px,#006bff 75px,#009cff 79px,#00f1ff 84px,#04fffb 85px,#47ffb8 88px,#ecff13 95px,#fffb00 96px,#ff6100 102px,#ff2600 104px,#fc0000 105px,#d00 106px,#b80000 108px,#900000 111px,#800000 113px,#810000 130px,#a80000 134px,#dc0000 138px,#ff0500 140px,#fff700 150px,#f2ff0d 151px,#4cffb3 159px,#0bfff4 162px,#00f6ff 163px,#0086ff 169px,#0056ff 172px,#0029ff 176px,#0000fe 181px,#0000db 187px,#0000bc 196px,#0000a4 212px,#000096 240px,#000091 450px)"></i>
<i style="height:6px;background:linear-gradient(90deg,#0000a1 0,#0000b3 30px,#0000c8 46px,#0000e0 55px,#0000fd 62px,#0016ff 66px,#0049ff 72px,#08f 78px,#00b5ff 81px,#00faff 85px,#0efff1 86px,#f9ff06 96px,#ffed00 97px,#ff5000 103px,#f30 104px,#ff0e00 105px,#e60000 106px,#be0000 108px,#930000 111px,#800000 113px,#800000 130px,#8d0000 132px,#b00 136px,#e50000 139px,#f90000 140px,#ff1200 141px,#fe0 150px,#fbff04 151px,#54ffab 159px,#00fdff 163px,#008cff 169px,#005aff 172px,#002cff 176px,#0001ff 181px,#00d 187px,#0000c0 195px,#0000a7 209px,#009 231px,#000094 274px,#000091 450px)"></i>
<i style="height:6px;background:linear-gradient(90deg,#0000a1 0,#0000b1 28px,#0000c3 44px,#0000db 54px,#0001ff 63px,#002aff 69px,#07f 77px,#009eff 80px,#00f2ff 85px,#05fffa 86px,#30ffcf 88px,#efff10 96px,#fff700 97px,#ff5b00 103px,#ff1e00 105px,#f30000 106px,#d70000 107px,#a30000 110px,#820000 113px,#810000 131px,#a80000 135px,#de0000 139px,#f00000 140px,#ff0700 141px,#ff9a00 147px,#fffa00 151px,#dbff24 153px,#47ffb8 160px,#06fff9 163px,#00f1ff 164px,#0080ff 170px,#0051ff 173px,#0025ff 177px,#0003ff 181px,#0000de 187px,#0000be 196px,#0000a5 211px,#000097 236px,#000091 450px)"></i>
<i style="height:6px;background:linear-gradient(90deg,#0000a1 0,#0000b1 29px,#0000c4 45px,#0000dc 55px,#0000fe 63px,#001fff 68px,#0068ff 76px,#0097ff 80px,#00fcff 86px,#25ffda 88px,#fdff02 97px,#ffcf00 99px,#ff4a00 104px,#ff2b00 105px,#ff0300 106px,#df0000 107px,#b80000 109px,#8e0000 112px,#840000 113px,#800000 115px,#800000 131px,#8e0000 133px,#bc0000 137px,#e70000 140px,#fc0000 141px,#ff5d00 145px,#ffdb00 150px,#fff100 151px,#f8ff07 152px,#4fffb0 160px,#0dfff2 163px,#00f8ff 164px,#0086ff 170px,#05f 173px,#0028ff 177px,#0005ff 181px,#0000f6 183px,#0000d6 189px,#0000ba 198px,#0000a4 213px,#000096 241px,#000091 450px)"></i>
<i style="height:6px;background:linear-gradient(90deg,#0000a1 0,#0000af 27px,#0000c4 46px,#0000da 55px,#0002ff 64px,#002cff 70px,#006fff 77px,#00a0ff 81px,#00f4ff 86px,#07fff8 87px,#3fc 89px,#f3ff0c 97px,#fff300 98px,#ff5400 104px,#ff3700 105px,#ff1300 106px,#e90000 107px,#d00000 108px,#ac0000 110px,#870000 113px,#800000 114px,#810000 132px,#9d0000 135px,#e00000 140px,#f30000 141px,#ff0b00 142px,#ffe800 151px,#fffe00 152px,#6dff92 159px,#0ff 164px,#008cff 170px,#0059ff 173px,#002bff 177px,#00f 182px,#0000dc 188px,#0000bd 197px,#0000a6 211px,#000098 234px,#000094 290px,#000091 450px)"></i>
<i style="height:6px;background:linear-gradient(90deg,#0000a0 0,#0000b0 29px,#0000c3 46px,#0000dc 56px,#00f 64px,#0029ff 70px,#0075ff 78px,#009aff 81px,#00feff 87px,#28ffd7 89px,#eaff15 97px,#fffc00 98px,#ff5e00 104px,#ff2100 106px,#f60000 107px,#d80000 108px,#b10000 110px,#890000 113px,#800000 114px,#800000 132px,#900 135px,#d90000 140px,#ff0100 142px,#fff600 152px,#f3ff0c 153px,#49ffb6 161px,#07fff8 164px,#00f1ff 165px,#007fff 171px,#004fff 174px,#001bff 179px,#0002ff 182px,#0000d9 189px,#00b 198px,#0000a3 214px,#000096 242px,#000091 450px)"></i>
<i style="height:7px;background:linear-gradient(90deg,#0000a0 0,#0000b0 30px,#0000c4 47px,#0000da 56px,#0000fd 64px,#001eff 69px,#0071ff 78px,#00a4ff 82px,#00f7ff 87px,#0afff5 88px,#37ffc8 90px,#f9ff06 98px,#ffed00 99px,#ff4c00 105px,#ff2d00 106px,#ff0600 107px,#e00000 108px,#b60000 110px,#8c0000 113px,#820000 114px,#820000 133px,#9f0000 136px,#e30000 141px,#f70000 142px,#ff1000 143px,#ffed00 152px,#fbff04 153px,#51ffae 161px,#0efff1 164px,#00f8ff 165px,#0084ff 171px,#0053ff 174px,#0026ff 178px,#0004ff 182px,#0000f5 184px,#0000d6 190px,#0000bc 198px,#0000a4 213px,#000096 242px,#000091 450px)"></i>
<i style="height:6px;background:linear-gradient(90deg,#0000a0 0,#0000af 29px,#0000c3 47px,#0000dc 57px,#0002ff 65px,#002cff 71px,#0078ff 79px,#009eff 82px,#02fffd 88px,#2dffd2 90px,#f0ff0f 98px,#fff600 99px,#ff5600 105px,#ff3800 106px,#ff1400 107px,#e90000 108px,#cf0000 109px,#a00 111px,#840000 114px,#800000 116px,#800000 133px,#9a0000 136px,#d00 141px,#ef0000 142px,#ff0700 143px,#ffe500 152px,#fffb00 153px,#d9ff26 155px,#42ffbd 162px,#00feff 165px,#0089ff 171px,#0057ff 174px,#0029ff 178px,#0000fd 183px,#0000db 189px,#0000bf 197px,#0000a7 211px,#009 232px,#000094 275px,#000091 450px)"></i>
<i style="height:6px;background:linear-gradient(90deg,#0000a0 0,#0000af 30px,#0000c4 48px,#0000da 57px,#00f 65px,#0029ff 71px,#0075ff 79px,#00a8ff 83px,#00fbff 88px,#0efff1 89px,#3cffc3 91px,#fffe00 99px,#ff5f00 105px,#ff2100 107px,#f50000 108px,#d60000 109px,#ae0000 111px,#910000 113px,#800000 115px,#800000 133px,#8c0000 135px,#bc0000 139px,#e80000 142px,#fd0000 143px,#ff7800 148px,#fd0 152px,#fff300 153px,#f5ff0a 154px,#49ffb6 162px,#06fff9 165px,#00f0ff 166px,#007cff 172px,#004dff 175px,#02f 179px,#00f 183px,#0000dc 189px,#0000bd 198px,#0000a5 213px,#000098 236px,#000094 289px,#000091 450px)"></i>
<i style="height:6px;background:linear-gradient(90deg,#0000a0 0,#0000b0 32px,#0000c5 49px,#0000dc 58px,#0000fd 65px,#001fff 70px,#0067ff 78px,#0094ff 82px,#00f4ff 88px,#07fff8 89px,#3fc 91px,#f7ff08 99px,#fe0 100px,#ff4b00 106px,#ff2c00 107px,#ff0300 108px,#d00 109px,#b30000 111px,#940000 113px,#800000 115px,#800000 134px,#9d0000 137px,#e10000 142px,#f50000 143px,#ff0e00 144px,#ffa300 150px,#ffec00 153px,#fcff03 154px,#50ffaf 162px,#0cfff3 165px,#00f6ff 166px,#0081ff 172px,#0050ff 175px,#0024ff 179px,#0002ff 183px,#0000d9 190px,#00b 199px,#0000a3 215px,#000096 243px,#000091 450px)"></i>
<i style="height:6px;background:linear-gradient(90deg,#00009f 0,#0000af 31px,#0000c2 48px,#0000d7 57px,#0002ff 66px,#0035ff 73px,#0078ff 80px,#00adff 84px,#01fffe 89px,#2affd5 91px,#f0ff0f 99px,#fff600 100px,#ff5400 106px,#ff3500 107px,#ff1000 108px,#e50000 109px,#b80000 111px,#970000 113px,#810000 115px,#800000 134px,#900 137px,#dc0000 142px,#e00 143px,#ff0600 144px,#fffb00 154px,#d9ff26 156px,#3fffc0 163px,#12ffed 165px,#00fcff 166px,#0085ff 172px,#0053ff 175px,#0026ff 179px,#0004ff 183px,#0000f4 185px,#0000d6 191px,#0000bc 199px,#0000a4 214px,#000096 243px,#000091 450px)"></i>
<i style="height:6px;background:linear-gradient(90deg,#00009f 0,#0000b0 33px,#0000c3 49px,#0000d9 58px,#0000f9 65px,#00f 66px,#03f 73px,#0080ff 81px,#00a8ff 84px,#00faff 89px,#0dfff2 90px,#3bffc4 92px,#fffd00 100px,#ff5c00 106px,#ff1c00 108px,#ef0000 109px,#d20000 110px,#a00 112px,#8d0000 114px,#830000 115px,#800000 121px,#800000 134px,#8b0000 136px,#c80000 141px,#e80000 143px,#fd0000 144px,#ff9200 150px,#fff400 154px,#f5ff0a 155px,#46ffb9 163px,#02fffd 166px,#07f 173px,#0049ff 176px,#001fff 180px,#0005ff 183px,#0000f6 185px,#0000d7 191px,#0000ba 200px,#0000a4 215px,#000096 243px,#000091 450px)"></i>
<i style="height:6px;background:linear-gradient(90deg,#00009f 0,#0000af 32px,#0000c2 49px,#0000db 59px,#0000fd 66px,#0019ff 70px,#005eff 78px,#0095ff 83px,#00f4ff 89px,#07fff8 90px,#3fc 92px,#f9ff06 100px,#ffeb00 101px,#ff6400 106px,#ff2600 108px,#fa0000 109px,#d80000 110px,#ae0000 112px,#900000 114px,#850000 115px,#800000 117px,#800000 135px,#9d0000 138px,#e20000 143px,#f60000 144px,#ff0f00 145px,#ffed00 154px,#fbff04 155px,#4cffb3 163px,#08fff7 166px,#00f1ff 167px,#007bff 173px,#0059ff 175px,#002aff 179px,#0000fe 184px,#0000dc 190px,#0000bf 198px,#0000a6 213px,#000098 236px,#000093 309px,#000091 450px)"></i>
<i style="height:6px;background:linear-gradient(90deg,#00009f 0,#0000b0 34px,#0000c5 51px,#0000da 59px,#0002ff 67px,#0037ff 74px,#007aff 81px,#009fff 84px,#01fffe 90px,#2bffd4 92px,#f3ff0c 100px,#fff200 101px,#ff4e00 107px,#ff2f00 108px,#ff0700 109px,#de0000 110px,#c50000 111px,#a00000 113px,#860000 115px,#800000 116px,#800000 135px,#900 138px,#d00 143px,#f00000 144px,#ff0800 145px,#ffe700 154px,#fffd00 155px,#69ff96 162px,#0dfff2 166px,#00f6ff 167px,#007fff 173px,#004fff 176px,#02f 180px,#0001ff 184px,#00d 190px,#0000bd 199px,#0000a4 215px,#000097 241px,#000091 445px,#000091 450px)"></i>
<i style="height:6px;background:linear-gradient(90deg,#00009f 0,#0000ad 30px,#0000bf 48px,#0000d5 58px,#0000f9 66px,#0001ff 67px,#0035ff 74px,#0082ff 82px,#0af 85px,#00fbff 90px,#0ffff0 91px,#3dffc2 93px,#ecff13 100px,#fff900 101px,#f50 107px,#ff3700 108px,#f10 109px,#e50000 110px,#ca0000 111px,#a30000 113px,#800 115px,#800000 116px,#800000 135px,#830000 136px,#a20000 139px,#d90000 143px,#ff0200 145px,#ff9600 151px,#fff800 155px,#f1ff0e 156px,#57ffa8 163px,#12ffed 166px,#00fbff 167px,#0083ff 173px,#0051ff 176px,#0024ff 180px,#0002ff 184px,#0000d9 191px,#0000be 199px,#0000a5 214px,#000097 239px,#000091 450px)"></i>
<i style="height:6px;background:linear-gradient(90deg,#00009f 0,#0000ad 31px,#0000c3 51px,#0000db 60px,#0000f8 66px,#0000fe 67px,#03f 74px,#0075ff 81px,#0098ff 84px,#00f7ff 90px,#09fff6 91px,#36ffc9 93px,#ff0 101px,#ff5c00 107px,#ff1b00 109px,#ed0000 110px,#cf0000 111px,#a60000 113px,#8a0000 115px,#800000 116px,#810000 136px,#9f0000 139px,#d50000 143px,#fb0000 145px,#ff2c00 147px,#fff200 155px,#f6ff09 156px,#5cffa3 163px,#01fffe 167px,#0087ff 173px,#0053ff 176px,#001cff 181px,#0003ff 184px,#0000de 190px,#0000be 199px,#0000a5 214px,#000096 244px,#000091 450px)"></i>
<i style="height:6px;background:linear-gradient(90deg,#00009f 0,#0000ac 30px,#0000c1 50px,#0000da 60px,#0000f6 66px,#0004ff 68px,#0043ff 76px,#007dff 82px,#00a3ff 85px,#00f3ff 90px,#05fffa 91px,#30ffcf 93px,#f9ff06 101px,#ffeb00 102px,#f40 108px,#ff2300 109px,#f60000 110px,#d40000 111px,#a90000 113px,#8c0000 115px,#810000 116px,#800000 136px,#9c0000 139px,#e10000 144px,#f60000 145px,#ff0f00 146px,#ffa400 152px,#ffed00 155px,#fbff04 156px,#61ff9e 163px,#05fffa 167px,#00d9ff 169px,#0065ff 175px,#0031ff 179px,#0004ff 184px,#0000f5 186px,#0000d2 193px,#0000ba 201px,#0000a4 216px,#000096 244px,#000091 450px)"></i>
<i style="height:6px;background:linear-gradient(90deg,#00009f 0,#0000ac 30px,#0000bf 49px,#0000d5 59px,#0000f5 66px,#0003ff 68px,#0041ff 76px,#007bff 82px,#00a0ff 85px,#01fffe 91px,#2affd5 93px,#f4ff0b 101px,#fff000 102px,#ff6700 107px,#ff2a00 109px,#fe0000 110px,#d90000 111px,#ac0000 113px,#8e0000 115px,#820000 116px,#800000 136px,#8e0000 138px,#c00000 142px,#d00 144px,#f10000 145px,#ff0900 146px,#ffe800 155px,#ff0 156px,#65ff9a 163px,#09fff6 167px,#00f2ff 168px,#007aff 174px,#004aff 177px,#0016ff 182px,#0000fd 185px,#0000db 191px,#0000bf 199px,#0000a7 213px,#009 235px,#000094 275px,#000091 450px)"></i>
<i style="height:6px;background:linear-gradient(90deg,#00009e 0,#0000b0 36px,#0000c5 53px,#0000dc 61px,#0001ff 68px,#0051ff 78px,#0090ff 84px,#00cdff 88px,#00fcff 91px,#0ffff0 92px,#3fffc0 94px,#efff10 101px,#fff500 102px,#ff6d00 107px,#ff3000 109px,#ff0700 110px,#de0000 111px,#af0000 113px,#8f0000 115px,#840000 116px,#800000 118px,#800000 136px,#830000 137px,#a30000 140px,#da0000 144px,#ff0400 146px,#ffe400 155px,#fffa00 156px,#d8ff27 158px,#3bffc4 165px,#0dfff2 167px,#00f6ff 168px,#0090ff 173px,#005aff 176px,#002aff 180px,#0000fe 185px,#0000e0 190px,#0000bf 199px,#0000a6 214px,#000098 237px,#000094 295px,#000091 450px)"></i>
<i style="height:6px;background:linear-gradient(90deg,#00009e 0,#0000ad 32px,#0000c3 52px,#0000d7 60px,#0000f8 67px,#00f 68px,#0047ff 77px,#0082ff 83px,#00b9ff 87px,#00f9ff 91px,#0cfff3 92px,#20ffdf 93px,#ebff14 101px,#fffa00 102px,#ff5400 108px,#ff3500 109px,#ff0f00 110px,#e20000 111px,#c70000 112px,#9f0000 114px,#850000 116px,#800000 118px,#810000 137px,#a00000 140px,#d70000 144px,#f00 146px,#ffc700 154px,#fff700 156px,#f2ff0d 157px,#56ffa9 164px,#10ffef 167px,#00f9ff 168px,#007fff 174px,#004eff 177px,#0021ff 181px,#00f 185px,#0000dc 191px,#0000bd 200px,#0000a5 215px,#000098 238px,#000094 294px,#000091 450px)"></i>
<i style="height:6px;background:linear-gradient(90deg,#00009e 0,#0000ae 34px,#0000c1 51px,#0000d6 60px,#0000f7 67px,#0000fe 68px,#003dff 76px,#0080ff 83px,#00b7ff 87px,#00f6ff 91px,#09fff6 92px,#1cffe3 93px,#fffe00 102px,#ff5800 108px,#ff3a00 109px,#ff1500 110px,#e70000 111px,#ca0000 112px,#a10000 114px,#860000 116px,#800000 117px,#800000 137px,#9e0000 140px,#d40000 144px,#fb0000 146px,#ff2d00 148px,#fff300 156px,#f5ff0a 157px,#42ffbd 165px,#13ffec 167px,#00fcff 168px,#0095ff 173px,#005eff 176px,#002cff 180px,#0001ff 185px,#0000d8 192px,#00b 201px,#0000a3 217px,#000096 245px,#000091 450px)"></i>
<i style="height:7px;background:linear-gradient(90deg,#00009e 0,#0000ae 34px,#0000c2 52px,#0000d9 61px,#0000f6 67px,#0005ff 69px,#004dff 78px,#008aff 84px,#00c5ff 88px,#00f4ff 91px,#06fff9 92px,#31ffce 94px,#fdff02 102px,#ff9500 106px,#ff3e00 109px,#ff1b00 110px,#ec0000 111px,#cd0000 112px,#a30000 114px,#870000 116px,#800000 117px,#800000 137px,#9c0000 140px,#d20000 144px,#f80000 146px,#f10 147px,#fff000 156px,#f8ff07 157px,#45ffba 165px,#00feff 168px,#0097ff 173px,#0060ff 176px,#002dff 180px,#0001ff 185px,#0000d9 192px,#00b 201px,#0000a2 218px,#000095 249px,#000091 450px)"></i>
<i style="height:6px;background:linear-gradient(90deg,#00009e 0,#0000ad 33px,#0000c2 52px,#0000d8 61px,#0000f5 67px,#0004ff 69px,#004cff 78px,#0089ff 84px,#00b2ff 87px,#03fffc 92px,#2effd1 94px,#faff05 102px,#ffeb00 103px,#ff4100 109px,#ff1f00 110px,#f10000 111px,#d00000 112px,#a50000 114px,#800 116px,#800000 117px,#800000 137px,#900000 139px,#c20000 143px,#e10000 145px,#f50000 146px,#ff0e00 147px,#ffed00 156px,#fbff04 157px,#47ffb8 165px,#02fffd 168px,#0085ff 174px,#0052ff 177px,#0024ff 181px,#0002ff 185px,#0000d9 192px,#0000be 200px,#0000a5 215px,#000096 245px,#000091 450px)"></i>
<i style="height:6px;background:linear-gradient(90deg,#00009e 0,#0000ac 32px,#0000c3 53px,#0000d8 61px,#0000f5 67px,#0004ff 69px,#004bff 78px,#08f 84px,#00c1ff 88px,#02fffd 92px,#2bffd4 94px,#f7ff08 102px,#ffed00 103px,#ff6200 108px,#ff2300 110px,#f50000 111px,#d20000 112px,#a60000 114px,#890000 116px,#800000 117px,#800000 137px,#8e0000 139px,#cf0000 144px,#f30000 146px,#ff0b00 147px,#ffeb00 156px,#fdff02 157px,#4affb5 165px,#04fffb 168px,#00d7ff 170px,#0062ff 176px,#002fff 180px,#0002ff 185px,#0000d5 193px,#0000ba 202px,#0000a3 217px,#000095 249px,#000091 450px)"></i>
<i style="height:6px;background:linear-gradient(90deg,#00009e 0,#0000ac 32px,#0000c1 52px,#0000d8 61px,#0000f4 67px,#0003ff 69px,#004bff 78px,#0087ff 84px,#00afff 87px,#0ff 92px,#29ffd6 94px,#f5ff0a 102px,#ffef00 103px,#ff6400 108px,#ff2500 110px,#f80000 111px,#d40000 112px,#a70000 114px,#8a0000 116px,#800000 117px,#800000 137px,#8d0000 139px,#cd0000 144px,#f10000 146px,#ff0900 147px,#ffe900 156px,#ff0 157px,#4bffb4 165px,#05fffa 168px,#00d9ff 170px,#0075ff 175px,#0054ff 177px,#0025ff 181px,#0003ff 185px,#0000de 191px,#0000be 200px,#0000a5 215px,#000096 245px,#000091 450px)"></i>
<i style="height:6px;background:linear-gradient(90deg,#00009e 0,#0000ac 32px,#0000be 50px,#0000d4 60px,#00e 66px,#0002ff 69px,#0053ff 79px,#0092ff 85px,#00deff 90px,#00feff 92px,#27ffd8 94px,#f3ff0c 102px,#fff100 103px,#f60 108px,#ff2800 110px,#fb0000 111px,#d60000 112px,#a80000 114px,#8a0000 116px,#800000 117px,#800000 137px,#830000 138px,#a40000 141px,#dc0000 145px,#ef0000 146px,#ff0800 147px,#ff9d00 153px,#fffe00 157px,#7bff84 163px,#07fff8 168px,#00f0ff 169px,#0089ff 174px,#0054ff 177px,#0026ff 181px,#0003ff 185px,#0000de 191px,#0000be 200px,#0000a4 216px,#000096 245px,#000091 450px)"></i>
<i style="height:6px;background:linear-gradient(90deg,#00009e 0,#0000ac 32px,#0000bf 51px,#0000d7 61px,#0000f3 67px,#0002ff 69px,#004aff 78px,#0085ff 84px,#00beff 88px,#00fdff 92px,#10ffef 93px,#40ffbf 95px,#f2ff0d 102px,#fff200 103px,#ff4a00 109px,#ff2900 110px,#fd0000 111px,#d70000 112px,#a90000 114px,#8a0000 116px,#800000 117px,#800000 137px,#830000 138px,#b00000 142px,#db0000 145px,#e00 146px,#ff0700 147px,#ff9c00 153px,#fffd00 157px,#7cff83 163px,#07fff8 168px,#00f0ff 169px,#07f 175px,#05f 177px,#0026ff 181px,#0003ff 185px,#0000df 191px,#0000c1 199px,#0000a8 213px,#00009a 233px,#000094 269px,#000091 450px)"></i>
<i style="height:6px;background:linear-gradient(90deg,#00009e 0,#0000ac 32px,#0000bf 51px,#0000d7 61px,#0000f3 67px,#0002ff 69px,#004aff 78px,#0085ff 84px,#00adff 87px,#00fcff 92px,#0ffff0 93px,#3fffc0 95px,#f1ff0e 102px,#fff300 103px,#ff6800 108px,#ff2a00 110px,#fe0000 111px,#d80000 112px,#a90000 114px,#8b0000 116px,#800000 117px,#800000 137px,#830000 138px,#a30000 141px,#db0000 145px,#e00 146px,#ff0600 147px,#ff9b00 153px,#fffc00 157px,#94ff6b 162px,#08fff7 168px,#00f1ff 169px,#008aff 174px,#05f 177px,#0026ff 181px,#0004ff 185px,#0000f4 187px,#0000ce 195px,#0000b6 204px,#0000a2 219px,#000095 249px,#000091 450px)"></i>
<i style="height:6px;background:linear-gradient(90deg,#00009e 0,#0000ac 32px,#0000bf 51px,#0000d7 61px,#0000f3 67px,#0002ff 69px,#0049ff 78px,#0085ff 84px,#00adff 87px,#00fcff 92px,#0ffff0 93px,#24ffdb 94px,#f1ff0e 102px,#fff300 103px,#ff4b00 109px,#ff2a00 110px,#f00 111px,#d80000 112px,#a90000 114px,#8b0000 116px,#800000 117px,#820000 138px,#a20000 141px,#da0000 145px,#ed0000 146px,#ff0600 147px,#ff9b00 153px,#fffc00 157px,#94ff6b 162px,#08fff7 168px,#00f1ff 169px,#07f 175px,#05f 177px,#0027ff 181px,#0004ff 185px,#0000f5 187px,#0000d2 194px,#0000ba 202px,#0000a4 217px,#000096 245px,#000091 450px)"></i>
</div>
<div class="hm" style="left:785px;top:1064px;width:450px;height:385px">
<i style="height:6px;background:linear-gradient(90deg,#00c 0,#0000e9 17px,#0001ff 26px,#001eff 33px,#0051ff 40px,#0082ff 45px,#00b5ff 49px,#00e6ff 52px,#00fbff 53px,#2fd 55px,#f2ff0d 67px,#fffa00 68px,#ff7100 76px,#ff1800 80px,#fb0000 81px,#e50000 82px,#c50000 85px,#8f0000 93px,#800000 96px,#800000 103px,#b40000 111px,#da0000 115px,#e80000 116px,#fc0000 117px,#ff6800 122px,#ffc500 127px,#ffe900 129px,#fff700 130px,#fbff04 131px,#c6ff39 135px,#15ffea 146px,#07fff8 147px,#00f8ff 148px,#0091ff 156px,#0052ff 162px,#001cff 169px,#0001ff 174px,#0000d1 188px,#0000b9 202px,#0000a1 232px,#000096 263px,#000091 450px)"></i>
<i style="height:7px;background:linear-gradient(90deg,#00c 0,#0000ea 18px,#00f 26px,#001bff 33px,#0045ff 39px,#0071ff 44px,#00adff 49px,#00dbff 52px,#04fffb 54px,#5dffa2 59px,#faff05 68px,#ffe100 70px,#ff6800 77px,#ff2500 80px,#ff0b00 81px,#ef0000 82px,#d20000 84px,#a40000 90px,#810000 96px,#800000 104px,#b60000 112px,#d00 116px,#ff0300 118px,#ff6c00 123px,#fd0 129px,#fffa00 131px,#ecff13 133px,#b2ff4d 137px,#1fffe0 146px,#02fffd 148px,#0081ff 158px,#0047ff 164px,#0019ff 170px,#00f 175px,#0000d5 187px,#00b 201px,#0000a3 229px,#000097 259px,#000091 450px)"></i>
<i style="height:6px;background:linear-gradient(90deg,#0000cb 0,#0000eb 19px,#0001ff 27px,#0019ff 33px,#0040ff 39px,#0076ff 45px,#00a5ff 49px,#00e3ff 53px,#00f7ff 54px,#0cfff3 55px,#fffd00 69px,#ff7200 77px,#ff3200 80px,#fc0000 82px,#e50000 83px,#cd0000 85px,#a00000 91px,#820000 96px,#810000 105px,#b70000 113px,#d30000 116px,#f10000 118px,#ff0800 119px,#ff7100 124px,#ffe100 130px,#fffd00 132px,#dcff23 135px,#7cff83 141px,#0cfff3 148px,#00fdff 149px,#0095ff 157px,#05f 163px,#0024ff 169px,#0003ff 175px,#0000ea 181px,#0000cb 192px,#0000b6 206px,#00009e 238px,#000095 277px,#000091 450px)"></i>
<i style="height:6px;background:linear-gradient(90deg,#0000ca 0,#0000ea 19px,#00f 27px,#001bff 34px,#004cff 41px,#007bff 46px,#00abff 50px,#00d8ff 53px,#0ff 55px,#6bff94 61px,#f7ff08 69px,#fff500 70px,#ff6a00 78px,#ff2700 81px,#ff0c00 82px,#f00000 83px,#d00 84px,#c00000 87px,#8f0000 94px,#800000 97px,#820000 106px,#b10000 113px,#d60000 117px,#e30000 118px,#f60000 119px,#ff0d00 120px,#ff6200 124px,#ffe400 131px,#feff01 133px,#caff35 137px,#16ffe9 148px,#08fff7 149px,#00f9ff 150px,#0091ff 158px,#0052ff 164px,#001cff 171px,#0001ff 176px,#0000d3 189px,#00b 202px,#0000a3 230px,#000097 261px,#000091 450px)"></i>
<i style="height:7px;background:linear-gradient(90deg,#0000c9 0,#0000eb 20px,#0001ff 28px,#0018ff 34px,#0047ff 41px,#007fff 47px,#00b0ff 51px,#00dfff 54px,#00f3ff 55px,#08fff7 56px,#feff01 70px,#ff7500 78px,#ff1c00 82px,#fe0000 83px,#e50000 84px,#c00 86px,#980000 93px,#800000 97px,#820000 107px,#ba0000 115px,#d80000 118px,#e60000 119px,#fa0000 120px,#ff2800 122px,#ff7900 126px,#ffc300 130px,#ffe800 132px,#fcff03 134px,#c6ff39 138px,#21ffde 148px,#04fffb 150px,#00e7ff 152px,#008dff 159px,#004fff 165px,#0019ff 172px,#00f 177px,#0000db 187px,#0000c0 199px,#0000a8 223px,#000098 256px,#000093 346px,#000091 450px)"></i>
<i style="height:6px;background:linear-gradient(90deg,#0000c9 0,#0000e6 18px,#0002ff 29px,#0020ff 36px,#005bff 44px,#009bff 50px,#00d4ff 54px,#00faff 56px,#21ffde 58px,#f3ff0c 70px,#fff900 71px,#ff6c00 79px,#ff2900 82px,#ff0f00 83px,#f20000 84px,#de0000 85px,#c70000 87px,#940000 94px,#820000 97px,#800000 107px,#960000 111px,#c40000 117px,#da0000 119px,#e90000 120px,#f00 121px,#ff5600 125px,#ffeb00 133px,#fff800 134px,#f9ff06 135px,#c3ff3c 139px,#1dffe2 149px,#0ff 151px,#0095ff 159px,#05f 165px,#001eff 172px,#0003ff 177px,#0000ea 183px,#0000cd 193px,#0000b8 206px,#0000a0 236px,#000095 273px,#000091 450px)"></i>
<i style="height:6px;background:linear-gradient(90deg,#0000c8 0,#0000e5 18px,#0001ff 29px,#001dff 36px,#0056ff 44px,#0094ff 50px,#00cbff 54px,#03fffc 57px,#f9ff06 71px,#fff200 72px,#ff7800 79px,#ff1f00 83px,#ff0200 84px,#e70000 85px,#c00 87px,#9d0000 93px,#800000 98px,#800000 108px,#900000 111px,#bc0000 117px,#dc0000 120px,#ff0400 122px,#ff5a00 126px,#ffde00 133px,#fffb00 135px,#ebff14 137px,#afff50 141px,#28ffd7 149px,#0afff5 151px,#00fbff 152px,#0092ff 160px,#0053ff 166px,#0023ff 172px,#0001ff 178px,#0000d6 190px,#0000bc 203px,#0000a5 229px,#000098 258px,#000093 344px,#000091 450px)"></i>
<i style="height:6px;background:linear-gradient(90deg,#0000c7 0,#0000e7 20px,#0002ff 30px,#001fff 37px,#005aff 45px,#09f 51px,#00d0ff 55px,#00f5ff 57px,#0afff5 58px,#fffe00 72px,#ff7000 80px,#ff2d00 83px,#ff1300 84px,#f50000 85px,#de0000 86px,#be0000 89px,#8c0000 96px,#800000 98px,#800000 109px,#a50000 115px,#d20000 120px,#f10000 122px,#ff0900 123px,#ff5e00 127px,#ffe100 134px,#fffd00 136px,#dbff24 139px,#78ff87 145px,#15ffea 151px,#06fff9 152px,#00f7ff 153px,#008fff 161px,#0050ff 167px,#001aff 174px,#00f 179px,#0000d7 190px,#0000bd 203px,#0000a6 228px,#000098 258px,#000093 348px,#000091 450px)"></i>
<i style="height:7px;background:linear-gradient(90deg,#0000c6 0,#0000e8 21px,#00f 30px,#001cff 37px,#004dff 44px,#0086ff 50px,#00b8ff 54px,#00e8ff 57px,#00fcff 58px,#68ff97 64px,#f5ff0a 72px,#fff700 73px,#ff6800 81px,#f20 84px,#ff0600 85px,#e90000 86px,#c00 88px,#9b0000 94px,#820000 98px,#800000 110px,#a60000 116px,#d30000 121px,#f40000 123px,#ff0d00 124px,#ff7400 129px,#ffe400 135px,#ff0 137px,#c9ff36 141px,#20ffdf 151px,#03fffc 153px,#00b1ff 159px,#006aff 165px,#002dff 172px,#0008ff 178px,#0000fd 180px,#0000d6 191px,#0000bc 204px,#0000a3 233px,#000097 264px,#000091 450px)"></i>
<i style="height:6px;background:linear-gradient(90deg,#0000c6 0,#0000e3 19px,#0002ff 31px,#001eff 38px,#0058ff 46px,#0096ff 52px,#0cf 56px,#00efff 58px,#04fffb 59px,#fbff04 73px,#ffdf00 75px,#ff7400 81px,#ff3100 84px,#ff1700 85px,#f90000 86px,#e00000 87px,#bd0000 90px,#910000 96px,#800000 99px,#800000 111px,#ae0000 118px,#d50000 122px,#f80000 124px,#ff1000 125px,#ff6400 129px,#ffe600 136px,#fdff02 138px,#c6ff39 142px,#2cffd3 151px,#00feff 154px,#0094ff 162px,#0054ff 168px,#0024ff 174px,#0006ff 179px,#0000f8 182px,#0000d5 192px,#0000bd 204px,#0000a4 232px,#000097 264px,#000091 450px)"></i>
<i style="height:6px;background:linear-gradient(90deg,#0000c5 0,#0000e2 19px,#00f 31px,#001bff 38px,#0053ff 46px,#0083ff 51px,#00b4ff 55px,#00e3ff 58px,#00f6ff 59px,#0afff5 60px,#f0ff0f 73px,#fffc00 74px,#ff6c00 82px,#ff2700 85px,#ff0b00 86px,#ed0000 87px,#d90000 88px,#b90000 91px,#8d0000 97px,#810000 99px,#800000 112px,#af0000 119px,#d70000 123px,#e60000 124px,#fc0000 125px,#ff6700 130px,#ffe900 137px,#fbff04 139px,#c3ff3c 143px,#19ffe6 153px,#00fbff 155px,#0085ff 164px,#0049ff 170px,#001bff 176px,#00f 181px,#0000d4 193px,#0000ba 207px,#0000a2 236px,#000096 268px,#000091 450px)"></i>
<i style="height:7px;background:linear-gradient(90deg,#0000c4 0,#0000e1 19px,#0001ff 32px,#0018ff 38px,#003fff 44px,#0072ff 50px,#00b9ff 56px,#00e9ff 59px,#00fcff 60px,#69ff96 66px,#f6ff09 74px,#fff600 75px,#ff6400 83px,#ff1c00 86px,#fe0000 87px,#e20000 88px,#c70000 90px,#960000 96px,#800000 100px,#800000 113px,#a80000 119px,#c00 123px,#e90000 125px,#f00 126px,#ff5700 130px,#ffeb00 138px,#fff800 139px,#f9ff06 140px,#c0ff3f 144px,#15ffea 154px,#07fff8 155px,#00f8ff 156px,#008eff 164px,#004fff 170px,#0019ff 177px,#0000fe 182px,#0000d6 193px,#0000bc 206px,#0000a5 232px,#000098 261px,#000093 351px,#000091 450px)"></i>
<i style="height:6px;background:linear-gradient(90deg,#0000c4 0,#0000e5 22px,#0002ff 33px,#0020ff 40px,#004aff 46px,#0076ff 51px,#00b1ff 56px,#0df 59px,#04fffb 61px,#fcff03 75px,#ff9600 81px,#ff5b00 84px,#f10 87px,#f10000 88px,#da0000 89px,#b90000 92px,#8c0000 98px,#800000 100px,#800000 114px,#b10000 121px,#da0000 125px,#ff0400 127px,#ff6d00 132px,#ffde00 138px,#fffa00 140px,#eaff15 142px,#acff53 146px,#21ffde 154px,#03fffc 156px,#00b0ff 162px,#005fff 169px,#0025ff 176px,#0002ff 182px,#0000d5 194px,#0000bd 206px,#0000a6 231px,#000098 261px,#000093 354px,#000091 450px)"></i>
<i style="height:6px;background:linear-gradient(90deg,#0000c3 0,#0000e4 22px,#0001ff 33px,#001dff 40px,#0045ff 46px,#007aff 52px,#00b5ff 57px,#00e3ff 60px,#00f6ff 61px,#0afff5 62px,#f0ff0f 75px,#fffc00 76px,#ff6800 84px,#ff3b00 86px,#ff0400 88px,#e60000 89px,#c70000 91px,#950000 97px,#810000 100px,#800000 115px,#b10000 122px,#dc0000 126px,#ef0000 127px,#ff0800 128px,#ff5d00 132px,#ffe000 139px,#fffc00 141px,#daff25 144px,#73ff8c 150px,#1effe1 155px,#0ff 157px,#0094ff 165px,#0054ff 171px,#001cff 178px,#0001ff 183px,#0000d4 195px,#0000ba 209px,#0000a2 238px,#000096 270px,#000091 450px)"></i>
<i style="height:7px;background:linear-gradient(90deg,#0000c2 0,#0000e3 22px,#0002ff 34px,#0019ff 40px,#0048ff 47px,#007eff 53px,#00baff 58px,#00e9ff 61px,#00fcff 62px,#69ff96 68px,#f7ff08 76px,#fff500 77px,#ff7500 84px,#ff3000 87px,#ff1600 88px,#f70000 89px,#dc0000 90px,#c20000 92px,#910000 98px,#800000 101px,#800000 116px,#a00 122px,#d00000 126px,#de0000 127px,#f30000 128px,#ff0b00 129px,#ff6000 133px,#ffe200 140px,#fffe00 142px,#d7ff28 145px,#82ff7d 150px,#1affe5 156px,#00fcff 158px,#0091ff 166px,#0051ff 172px,#001bff 179px,#0000fe 184px,#0000d3 196px,#00b 209px,#0000a3 237px,#000097 267px,#000091 450px)"></i>
<i style="height:6px;background:linear-gradient(90deg,#0000c2 0,#0000de 20px,#00f 34px,#001cff 41px,#004bff 48px,#0078ff 53px,#00a5ff 57px,#00deff 61px,#03fffc 63px,#fdff02 77px,#ff8100 84px,#ff4000 87px,#ff0a00 89px,#ea0000 90px,#d50000 91px,#b40000 94px,#860000 100px,#800000 101px,#800000 117px,#b30000 124px,#d20000 127px,#e10000 128px,#f60000 129px,#ff0e00 130px,#ff6200 134px,#ffe500 141px,#feff01 143px,#d5ff2a 146px,#27ffd8 156px,#08fff7 158px,#00f9ff 159px,#008eff 167px,#004fff 173px,#0019ff 180px,#0000fd 185px,#0000d5 196px,#0000bd 208px,#0000a5 234px,#000097 266px,#000091 450px)"></i>
<i style="height:6px;background:linear-gradient(90deg,#0000c1 0,#00d 20px,#0001ff 35px,#001eff 42px,#0046ff 48px,#007bff 54px,#00b6ff 59px,#00e4ff 62px,#00f6ff 63px,#0afff5 64px,#f1ff0e 77px,#fffb00 78px,#ff7a00 85px,#ff3600 88px,#fc0000 90px,#df0000 91px,#c20000 93px,#970000 98px,#820000 101px,#800000 118px,#ab0000 124px,#d30000 128px,#e30000 129px,#f90000 130px,#ff1200 131px,#ff6500 135px,#ffd700 141px,#fff500 143px,#fcff03 144px,#c2ff3d 148px,#23ffdc 157px,#05fffa 159px,#00e8ff 161px,#008bff 168px,#0056ff 173px,#0024ff 179px,#0001ff 185px,#0000d4 197px,#00b 210px,#0000a3 238px,#000097 268px,#000091 450px)"></i>
<i style="height:7px;background:linear-gradient(90deg,#0000c0 0,#0000df 22px,#0000fe 35px,#001bff 42px,#0042ff 48px,#0075ff 54px,#00aeff 59px,#00d9ff 62px,#00fcff 64px,#69ff96 70px,#f7ff08 78px,#fff500 79px,#ff7200 86px,#ff4500 88px,#ff1000 90px,#ef0000 91px,#d70000 92px,#bd0000 94px,#8c0000 100px,#800000 102px,#810000 119px,#b40000 126px,#d50000 129px,#e60000 130px,#fd0000 131px,#ff6800 136px,#ffe900 143px,#fff700 144px,#faff05 145px,#bfff40 149px,#1fffe0 158px,#01fffe 160px,#0094ff 168px,#0053ff 174px,#0023ff 180px,#00f 186px,#0000d9 196px,#0000bd 209px,#0000a4 237px,#000097 269px,#000091 450px)"></i>
<i style="height:6px;background:linear-gradient(90deg,#0000c0 0,#0000dc 21px,#0001ff 36px,#001dff 43px,#004cff 50px,#0083ff 56px,#00c0ff 61px,#03fffc 65px,#fdff02 79px,#ff7e00 86px,#ff5400 88px,#ff2100 90px,#ff0300 91px,#e30000 92px,#d00000 93px,#af0000 96px,#870000 101px,#800000 103px,#810000 120px,#ac0000 126px,#d70000 130px,#ff0100 132px,#ff5700 136px,#ffdc00 143px,#fff900 145px,#f8ff07 146px,#bf4 150px,#2cffd3 158px,#00fdff 161px,#0091ff 169px,#0051ff 175px,#0021ff 181px,#0000fe 187px,#0000d8 197px,#0000be 209px,#0000a5 236px,#000097 268px,#000091 450px)"></i>
<i style="height:6px;background:linear-gradient(90deg,#0000bf 0,#0000db 21px,#0000fb 35px,#0009ff 39px,#0025ff 45px,#0060ff 53px,#009eff 59px,#00d4ff 63px,#00f6ff 65px,#0afff5 66px,#f1ff0e 79px,#fffa00 80px,#ff6200 88px,#ff1600 91px,#f50000 92px,#d90000 93px,#bd0000 95px,#8a0000 101px,#800000 103px,#810000 121px,#b60000 128px,#d90000 131px,#ff0500 133px,#ff5a00 137px,#ffde00 144px,#fffb00 146px,#e9ff16 148px,#95ff6a 153px,#28ffd7 159px,#09fff6 161px,#00faff 162px,#008eff 170px,#0058ff 175px,#0026ff 181px,#0002ff 187px,#0000d4 199px,#0000bc 211px,#0000a5 237px,#000098 266px,#000093 359px,#000091 450px)"></i>
<i style="height:7px;background:linear-gradient(90deg,#0000bf 0,#0000d8 20px,#0000fc 36px,#000aff 40px,#0027ff 46px,#0063ff 54px,#00a2ff 60px,#00d9ff 64px,#00fcff 66px,#69ff96 72px,#f8ff07 80px,#fff400 81px,#ff6f00 88px,#ff4100 90px,#ff0900 92px,#e80000 93px,#d10000 94px,#ae0000 97px,#860000 102px,#800000 103px,#820000 122px,#ae0000 128px,#cd0000 131px,#db0000 132px,#f00000 133px,#ff0800 134px,#ff5d00 138px,#ffe100 145px,#fffd00 147px,#d7ff28 150px,#24ffdb 160px,#06fff9 162px,#00f6ff 163px,#008bff 171px,#004cff 177px,#001dff 183px,#0001ff 188px,#0000d9 198px,#0000bd 211px,#0000a6 236px,#000098 266px,#000093 359px,#000091 450px)"></i>
<i style="height:6px;background:linear-gradient(90deg,#0000be 0,#0000d9 21px,#0001ff 38px,#001eff 45px,#004eff 52px,#007aff 57px,#00c1ff 63px,#00f0ff 66px,#04fffb 67px,#feff01 81px,#ff6700 89px,#ff1b00 92px,#fa0000 93px,#dc0000 94px,#bd0000 96px,#900000 101px,#820000 103px,#820000 123px,#af0000 129px,#cf0000 132px,#de0000 133px,#f40000 134px,#ff0c00 135px,#ff6000 139px,#ffe300 146px,#ff0 148px,#d4ff2b 151px,#21ffde 161px,#02fffd 163px,#0094ff 171px,#005cff 176px,#02f 183px,#0000fe 189px,#0000d8 199px,#0000be 211px,#0000a5 238px,#000098 267px,#000093 360px,#000091 450px)"></i>
<i style="height:6px;background:linear-gradient(90deg,#0000bd 0,#0000da 22px,#0000f9 36px,#0003ff 39px,#0020ff 46px,#0059ff 54px,#0094ff 60px,#00d5ff 65px,#00f7ff 67px,#0afff5 68px,#f3ff0c 81px,#fff900 82px,#ff7300 89px,#ff4600 91px,#ff0f00 93px,#ed0000 94px,#d30000 95px,#b80000 97px,#930000 101px,#800000 104px,#800000 123px,#900000 126px,#b90000 131px,#d10000 133px,#e10000 134px,#f80000 135px,#ff1000 136px,#ff6400 140px,#ffae00 144px,#ffe600 147px,#fdff02 149px,#c0ff3f 153px,#1dffe2 162px,#00feff 164px,#009dff 171px,#0059ff 177px,#0019ff 185px,#0000fd 190px,#0000da 199px,#0000bf 211px,#0000a8 234px,#000098 267px,#000093 363px,#000091 450px)"></i>
<i style="height:6px;background:linear-gradient(90deg,#0000bd 0,#0000d7 21px,#0000f7 36px,#0004ff 40px,#0023ff 47px,#005cff 55px,#0098ff 61px,#00dbff 66px,#00fdff 68px,#f9ff06 82px,#fff200 83px,#ff6b00 90px,#ff3b00 92px,#ff0100 94px,#df0000 95px,#cb0000 96px,#b20000 98px,#800000 104px,#800000 124px,#8a0000 126px,#b10000 131px,#d30000 134px,#fc0000 136px,#ff7900 142px,#ffd900 147px,#fff600 149px,#fbff04 150px,#bcff43 154px,#29ffd6 162px,#09fff6 164px,#00faff 165px,#008dff 173px,#0057ff 178px,#0025ff 184px,#0001ff 190px,#0000d9 200px,#0000c0 211px,#0000a7 236px,#000098 268px,#000093 361px,#000091 450px)"></i>
<i style="height:7px;background:linear-gradient(90deg,#0000bc 0,#0000d6 21px,#0000f8 37px,#0002ff 40px,#0025ff 48px,#0060ff 56px,#009dff 62px,#00d1ff 66px,#00f2ff 68px,#05fffa 69px,#fffe00 83px,#f70 90px,#ff4a00 92px,#ff1300 94px,#f10000 95px,#d40000 96px,#b80000 98px,#920000 102px,#830000 104px,#800000 110px,#800000 125px,#900 129px,#bc0000 133px,#d50000 135px,#ff0100 137px,#ff5700 141px,#ffb600 146px,#ffdc00 148px,#fff900 150px,#f8ff07 151px,#caff35 154px,#25ffda 163px,#06fff9 165px,#00f6ff 166px,#008aff 174px,#004bff 180px,#001cff 186px,#00f 191px,#0000db 200px,#0000bf 212px,#0000a6 238px,#000098 269px,#000093 362px,#000091 450px)"></i>
<i style="height:6px;background:linear-gradient(90deg,#0000bc 0,#0000d5 21px,#0000f7 37px,#0004ff 41px,#02f 48px,#005bff 56px,#0096ff 62px,#00d7ff 67px,#00f8ff 69px,#0bfff4 70px,#f5ff0a 83px,#fff700 84px,#ff6f00 91px,#ff3f00 93px,#ff0500 95px,#c00 97px,#b20000 99px,#8d0000 103px,#800000 105px,#800000 126px,#9a0000 130px,#be0000 134px,#d80000 136px,#ed0000 137px,#ff0600 138px,#ff5b00 142px,#ffdf00 149px,#fffb00 151px,#e7ff18 153px,#8fff70 158px,#20ffdf 164px,#02fffd 166px,#0086ff 175px,#0048ff 181px,#0014ff 188px,#0000fd 192px,#0000da 201px,#0000c0 212px,#0000a8 236px,#000098 269px,#000093 365px,#000091 450px)"></i>
<i style="height:6px;background:linear-gradient(90deg,#00b 0,#0000d6 22px,#0000f8 38px,#0005ff 42px,#0025ff 49px,#0056ff 56px,#0090ff 62px,#00c0ff 66px,#0ff 70px,#fcff03 84px,#fd0 86px,#f60 92px,#ff1700 95px,#f50000 96px,#d60000 97px,#b70000 99px,#900000 103px,#810000 105px,#800000 127px,#a30000 132px,#c00 136px,#dc0000 137px,#f20000 138px,#ff0a00 139px,#ff5f00 143px,#ffe200 150px,#fffe00 152px,#e4ff1b 154px,#8aff75 159px,#2dffd2 164px,#0cfff3 166px,#00fdff 167px,#008fff 175px,#0058ff 180px,#0026ff 186px,#0001ff 192px,#0000d8 202px,#0000be 214px,#0000a5 241px,#000098 270px,#000093 363px,#000091 450px)"></i>
<i style="height:7px;background:linear-gradient(90deg,#00b 0,#0000d3 21px,#0000f1 36px,#00f 41px,#02f 49px,#005aff 57px,#0094ff 63px,#00c6ff 67px,#00f4ff 70px,#07fff8 71px,#f1ff0e 84px,#fffb00 85px,#ff7200 92px,#ff4300 94px,#ff0900 96px,#e60000 97px,#cd0000 98px,#b10000 100px,#840000 105px,#800000 107px,#800000 128px,#ad0000 134px,#cf0000 137px,#e00000 138px,#f70000 139px,#ff0f00 140px,#ff6300 144px,#ffd500 150px,#fdff02 153px,#beff41 157px,#28ffd7 165px,#08fff7 167px,#00f8ff 168px,#008bff 176px,#05f 181px,#0023ff 187px,#00f 193px,#0000de 201px,#0000c2 212px,#00a 234px,#000098 270px,#000093 366px,#000091 450px)"></i>
<i style="height:6px;background:linear-gradient(90deg,#0000ba 0,#0000d4 22px,#0000f2 37px,#0002ff 42px,#0024ff 50px,#005eff 58px,#008eff 63px,#00cbff 68px,#00fbff 71px,#20ffdf 73px,#f8ff07 85px,#fff400 86px,#ff6900 93px,#ff3700 95px,#ff1a00 96px,#f80000 97px,#d80000 98px,#c40000 99px,#970000 103px,#800000 106px,#800000 129px,#af0000 135px,#d20000 138px,#fc0000 140px,#ff6700 145px,#ffb300 149px,#ffd900 151px,#fff600 153px,#faff05 154px,#b9ff46 158px,#23ffdc 166px,#04fffb 168px,#00e6ff 170px,#0093ff 176px,#005bff 181px,#0021ff 188px,#0003ff 193px,#0000e7 199px,#00c 208px,#0000b8 220px,#0000a2 247px,#000096 279px,#000091 450px)"></i>
<i style="height:6px;background:linear-gradient(90deg,#0000ba 0,#0000d0 20px,#00e 36px,#00f 42px,#0021ff 50px,#0059ff 58px,#0093ff 64px,#00d1ff 69px,#03fffc 72px,#fffe00 86px,#ff8900 92px,#ff5f00 94px,#ff2a00 96px,#ff0c00 97px,#e80000 98px,#cd0000 99px,#b00000 101px,#8a0000 105px,#820000 106px,#810000 130px,#b10000 136px,#d50000 139px,#ff0300 141px,#ff5800 145px,#fd0 152px,#fffa00 154px,#f7ff08 155px,#b4ff4b 159px,#2fffd0 166px,#00feff 169px,#008fff 177px,#0058ff 182px,#0026ff 188px,#0001ff 194px,#0000d8 204px,#0000be 216px,#0000a8 238px,#000098 271px,#000093 367px,#000091 450px)"></i>
<i style="height:7px;background:linear-gradient(90deg,#0000b9 0,#0000d4 23px,#0000f2 38px,#0002ff 43px,#001eff 50px,#004dff 57px,#0082ff 63px,#00c9ff 69px,#00f8ff 72px,#0afff5 73px,#f5ff0a 86px,#fff700 87px,#ff6b00 94px,#ff3900 96px,#fa0000 98px,#d80000 99px,#c40000 100px,#9f0000 103px,#850000 106px,#800000 108px,#820000 131px,#a90000 136px,#ca0000 139px,#da0000 140px,#f00000 141px,#ff0900 142px,#ff7000 147px,#ffe100 153px,#fffd00 155px,#e4ff1b 157px,#8f7 162px,#29ffd6 167px,#09fff6 169px,#00f9ff 170px,#008bff 178px,#05f 183px,#0023ff 189px,#0000fe 195px,#0000da 204px,#0000c0 215px,#0000a7 240px,#000098 271px,#000093 371px,#000091 450px)"></i>
<i style="height:6px;background:linear-gradient(90deg,#0000b9 0,#0000d0 21px,#00e 37px,#00f 43px,#001cff 50px,#0049ff 57px,#007dff 63px,#00b5ff 68px,#0ef 72px,#0ff 73px,#fdff02 87px,#ffb400 91px,#ff6000 95px,#ff2b00 97px,#ff0d00 98px,#e80000 99px,#c00 100px,#af0000 102px,#800 106px,#800000 107px,#800000 131px,#9a0000 135px,#c00000 139px,#df0000 141px,#f60000 142px,#ff0f00 143px,#ff6200 147px,#ffd500 153px,#fdff02 156px,#bcff43 160px,#23ffdc 168px,#04fffb 170px,#00e6ff 172px,#0093ff 178px,#0051ff 184px,#0021ff 190px,#0002ff 195px,#0000d5 206px,#00b 219px,#0000a3 247px,#000097 277px,#000091 450px)"></i>
<i style="height:6px;background:linear-gradient(90deg,#0000b8 0,#0000d2 23px,#0000f2 39px,#0002ff 44px,#001eff 51px,#004dff 58px,#0082ff 64px,#0bf 69px,#00f6ff 73px,#08fff7 74px,#f3ff0c 87px,#fff900 88px,#ff8100 94px,#f50 96px,#ff1c00 98px,#fb0000 99px,#d80000 100px,#c30000 101px,#9d0000 104px,#830000 107px,#800000 113px,#800000 132px,#a40000 137px,#c30000 140px,#d10000 141px,#fd0000 143px,#ff6700 148px,#ffda00 154px,#fff700 156px,#f9ff06 157px,#b6ff49 161px,#1dffe2 169px,#00feff 171px,#008eff 179px,#0057ff 184px,#0025ff 190px,#00f 196px,#00d 204px,#0000c0 216px,#0000a7 241px,#000098 273px,#000093 369px,#000091 450px)"></i>
<i style="height:7px;background:linear-gradient(90deg,#0000b8 0,#0000d0 22px,#00e 38px,#00f 44px,#0021ff 52px,#0058ff 60px,#0091ff 66px,#00ceff 71px,#00fdff 74px,#fbff04 88px,#fd0 90px,#ff6100 96px,#ff2b00 98px,#ff0d00 99px,#e80000 100px,#cb0000 101px,#ad0000 103px,#860000 107px,#800000 108px,#800000 133px,#a70000 138px,#c70000 141px,#ec0000 143px,#ff0500 144px,#ff5a00 148px,#ffde00 155px,#fffb00 157px,#f5ff0a 158px,#afff50 162px,#28ffd7 169px,#08fff7 171px,#00f8ff 172px,#0096ff 179px,#0053ff 185px,#001bff 192px,#0000fd 197px,#0000d9 206px,#0000c1 216px,#0000ab 236px,#009 270px,#000094 323px,#000091 450px)"></i>
<i style="height:6px;background:linear-gradient(90deg,#0000b8 0,#00c 20px,#0000ed 38px,#0002ff 45px,#0024ff 53px,#005dff 61px,#008cff 66px,#00c7ff 71px,#00f4ff 74px,#07fff8 75px,#f2ff0d 88px,#fffa00 89px,#ff8200 95px,#f50 97px,#ff1c00 99px,#f90000 100px,#d60000 101px,#c10000 102px,#9b0000 105px,#800000 108px,#810000 134px,#b30000 140px,#cb0000 142px,#f40000 144px,#ff0c00 145px,#ff6000 149px,#ffd300 155px,#feff01 158px,#ceff31 161px,#2fd 170px,#02fffd 172px,#0091ff 180px,#0059ff 185px,#001fff 192px,#0001ff 197px,#0000d7 207px,#0000bd 219px,#0000a5 245px,#000097 277px,#000091 450px)"></i>
<i style="height:6px;background:linear-gradient(90deg,#0000b7 0,#0000d0 23px,#00e 39px,#00f 45px,#02f 53px,#0051ff 60px,#0087ff 66px,#00c1ff 71px,#00fcff 75px,#45ffba 79px,#fbff04 89px,#ffde00 91px,#ff6000 97px,#ff2a00 99px,#ff0b00 100px,#e50000 101px,#c90000 102px,#ab0000 104px,#830000 108px,#800000 114px,#800000 134px,#8a0000 136px,#b60000 141px,#d00000 143px,#fc0000 145px,#ff7900 151px,#ffd900 156px,#fff600 158px,#faff05 159px,#b5ff4a 163px,#2cffd3 170px,#0bfff4 172px,#00fbff 173px,#0098ff 180px,#05f 186px,#001cff 193px,#0000fe 198px,#0000dc 206px,#0000c1 217px,#0000ab 237px,#009 271px,#000094 324px,#000091 450px)"></i>
<i style="height:7px;background:linear-gradient(90deg,#0000b7 0,#0000cb 20px,#0000e9 37px,#0002ff 46px,#001fff 53px,#05f 61px,#008cff 67px,#00c7ff 72px,#00f4ff 75px,#06fff9 76px,#f1ff0e 89px,#fffa00 90px,#ff8100 96px,#ff5300 98px,#ff1900 100px,#f60000 101px,#d30000 102px,#be0000 103px,#980000 106px,#800000 109px,#800000 135px,#9d0000 139px,#c60000 143px,#d60000 144px,#ff0500 146px,#ff5a00 150px,#ffce00 156px,#fffb00 159px,#e5ff1a 161px,#86ff79 166px,#25ffda 171px,#05fffa 173px,#00e7ff 175px,#0093ff 181px,#005aff 186px,#0020ff 193px,#0001ff 198px,#0000d7 208px,#0000bd 220px,#0000a5 246px,#000097 278px,#000091 450px)"></i>
<i style="height:6px;background:linear-gradient(90deg,#0000b7 0,#0000cd 22px,#0000ec 39px,#0001ff 46px,#001dff 53px,#004aff 60px,#007dff 66px,#00c1ff 72px,#00fdff 76px,#45ffba 80px,#fbff04 90px,#fd0 92px,#ff5f00 98px,#ff2700 100px,#ff0700 101px,#e10000 102px,#c60000 103px,#a80000 105px,#800000 109px,#800000 136px,#b20000 142px,#cb0000 144px,#f50000 146px,#ff0e00 147px,#ff6100 151px,#ffd400 157px,#fdff02 160px,#cf3 163px,#2fffd0 171px,#00fdff 174px,#008dff 182px,#0056ff 187px,#0024ff 193px,#0000fe 199px,#0000dc 207px,#0000c1 218px,#0000ab 238px,#009 272px,#000094 325px,#000091 450px)"></i>
<i style="height:6px;background:linear-gradient(90deg,#0000b6 0,#0000d1 25px,#0000f0 41px,#0003ff 47px,#0020ff 54px,#0056ff 62px,#008dff 68px,#00c8ff 73px,#00f5ff 76px,#07fff8 77px,#f2ff0d 90px,#fff900 91px,#fa0 95px,#ff5100 99px,#ff1500 101px,#f10000 102px,#cf0000 103px,#ac0000 105px,#820000 109px,#800000 136px,#8a0000 138px,#b60000 143px,#d20000 145px,#f00 147px,#ff5600 151px,#ffdb00 158px,#fff800 160px,#f7ff08 161px,#c4ff3b 164px,#27ffd8 172px,#07fff8 174px,#00f7ff 175px,#0094ff 182px,#005bff 187px,#0028ff 193px,#0001ff 199px,#0000d7 209px,#0000bd 221px,#0000a5 247px,#000097 279px,#000091 450px)"></i>
<i style="height:6px;background:linear-gradient(90deg,#0000b6 0,#0000cd 23px,#0000ef 41px,#0001ff 47px,#0023ff 55px,#005bff 63px,#0093ff 69px,#00d0ff 74px,#00feff 77px,#6bff94 83px,#fdff02 91px,#ffc800 94px,#ff5b00 99px,#f20 101px,#ff0200 102px,#db0000 103px,#c20000 104px,#a40000 106px,#850000 109px,#800000 111px,#800000 137px,#9d0000 141px,#c80000 145px,#f10000 147px,#ff0a00 148px,#ff5e00 152px,#ffd100 158px,#fffe00 161px,#cfff30 164px,#30ffcf 172px,#00feff 175px,#008eff 183px,#0056ff 188px,#001dff 195px,#0000fe 200px,#0000dc 208px,#0000c3 218px,#0000af 234px,#00009a 269px,#000094 317px,#000091 450px)"></i>
<i style="height:7px;background:linear-gradient(90deg,#0000b6 0,#0000ce 24px,#00e 41px,#00f 47px,#0021ff 55px,#0050ff 62px,#0084ff 68px,#00bdff 73px,#00f7ff 77px,#08fff7 78px,#f5ff0a 91px,#fff700 92px,#ff9100 97px,#ff4c00 100px,#ff0f00 102px,#e90000 103px,#c90000 104px,#a80000 106px,#870000 109px,#800000 110px,#810000 138px,#b40000 144px,#cf0000 146px,#fc0000 148px,#f60 153px,#ffd800 159px,#fff600 161px,#f9ff06 162px,#c6ff39 165px,#28ffd7 173px,#07fff8 175px,#00f7ff 176px,#0094ff 183px,#0051ff 189px,#0021ff 195px,#0001ff 200px,#0000d7 210px,#0000c0 220px,#0000a7 245px,#000098 276px,#000093 376px,#000091 450px)"></i>
<i style="height:6px;background:linear-gradient(90deg,#0000b5 0,#00c 23px,#0000ed 41px,#0002ff 48px,#001fff 55px,#004dff 62px,#07f 67px,#00b8ff 73px,#00f0ff 77px,#01fffe 78px,#ff0 92px,#ffb000 96px,#ff5600 100px,#ff1b00 102px,#f80000 103px,#d30000 104px,#bc0000 105px,#a00000 107px,#810000 110px,#800000 138px,#930000 141px,#b90000 145px,#d80000 147px,#ef0000 148px,#ff0700 149px,#ff5c00 153px,#ffe000 160px,#fffd00 162px,#e2ff1d 164px,#80ff7f 169px,#30ffcf 173px,#00feff 176px,#008dff 184px,#0056ff 189px,#0024ff 195px,#0000fd 201px,#0000db 209px,#0000c1 220px,#00a 241px,#000098 277px,#000093 377px,#000091 450px)"></i>
<i style="height:6px;background:linear-gradient(90deg,#0000b5 0,#0000cd 24px,#0000ec 41px,#0001ff 48px,#0023ff 56px,#0059ff 64px,#0091ff 70px,#00cdff 75px,#00faff 78px,#0bfff4 79px,#f8ff07 92px,#fff300 93px,#ffa200 97px,#ff5f00 100px,#ff2700 102px,#ff0600 103px,#df0000 104px,#c30000 105px,#a30000 107px,#830000 110px,#800000 116px,#800000 139px,#a90000 144px,#bf0000 146px,#e20000 148px,#fa0000 149px,#ff2800 151px,#f70 155px,#ffd800 160px,#fff600 162px,#faff05 163px,#b3ff4c 167px,#39ffc6 173px,#06fff9 176px,#00f6ff 177px,#0093ff 184px,#005aff 189px,#0020ff 196px,#0001ff 201px,#0000d9 210px,#0000be 222px,#0000a6 247px,#000098 278px,#000093 374px,#000091 450px)"></i>
<i style="height:7px;background:linear-gradient(90deg,#0000b5 0,#0000ce 25px,#0000f0 43px,#0003ff 49px,#0026ff 57px,#005fff 65px,#0098ff 71px,#00d5ff 76px,#00f3ff 78px,#05fffa 79px,#f1ff0e 92px,#fffa00 93px,#fa0 97px,#ff4f00 101px,#ff1200 103px,#ec0000 104px,#ca0000 105px,#a70000 107px,#860000 110px,#800000 111px,#800000 139px,#8a0000 141px,#b90000 146px,#d80000 148px,#e00 149px,#ff0700 150px,#ff5c00 154px,#ffe000 161px,#fffd00 163px,#e1ff1e 165px,#94ff6b 169px,#42ffbd 173px,#0dfff2 176px,#00fdff 177px,#008cff 185px,#05f 190px,#0023ff 196px,#0003ff 201px,#0000e6 207px,#00c 215px,#0000b7 228px,#0000a0 257px,#000095 294px,#000091 450px)"></i>
<i style="height:6px;background:linear-gradient(90deg,#0000b5 0,#0000ca 22px,#0000e8 40px,#0002ff 49px,#0024ff 57px,#005cff 65px,#0094ff 71px,#00d1ff 76px,#00feff 79px,#58ffa7 84px,#fdff02 93px,#ffb200 97px,#ff5800 101px,#ff1d00 103px,#f90000 104px,#d30000 105px,#bc0000 106px,#9e0000 108px,#800000 111px,#800000 140px,#9f0000 144px,#bf0000 147px,#ce0000 148px,#fb0000 150px,#ff2900 152px,#ff7800 156px,#ffd800 161px,#fff600 163px,#f9ff06 164px,#c5ff3a 167px,#24ffdb 175px,#04fffb 177px,#00e6ff 179px,#0091ff 185px,#0058ff 190px,#0026ff 196px,#0000fe 202px,#0000d8 211px,#0000bf 222px,#0000a8 245px,#000098 278px,#000093 378px,#000091 450px)"></i>
<i style="height:6px;background:linear-gradient(90deg,#0000b4 0,#0000cd 25px,#0000ec 42px,#0001ff 49px,#0023ff 57px,#0059ff 65px,#0091ff 71px,#0cf 76px,#00f8ff 79px,#0afff5 80px,#f7ff08 93px,#fff500 94px,#ffa300 98px,#ff6000 101px,#ff2700 103px,#ff0600 104px,#de0000 105px,#c10000 106px,#a10000 108px,#810000 111px,#800000 140px,#8a0000 142px,#ae0000 146px,#c70000 148px,#d90000 149px,#f10000 150px,#ff0900 151px,#ff5e00 155px,#fa0 159px,#ffe100 162px,#ff0 164px,#cdff32 167px,#2cffd3 175px,#0afff5 177px,#00faff 178px,#0089ff 186px,#005cff 190px,#0021ff 197px,#0001ff 202px,#0000d6 212px,#0000be 223px,#0000a6 248px,#000098 279px,#000093 375px,#000091 450px)"></i>
<i style="height:7px;background:linear-gradient(90deg,#0000b4 0,#0000ce 26px,#0000f0 44px,#0003ff 50px,#0027ff 58px,#005fff 66px,#00a3ff 73px,#00e4ff 78px,#04fffb 80px,#f1ff0e 93px,#fffb00 94px,#fa0 98px,#ff4e00 102px,#ff1000 104px,#e90000 105px,#c70000 106px,#a40000 108px,#830000 111px,#800000 117px,#800000 141px,#a00 146px,#c10000 148px,#d10000 149px,#f00 151px,#ff5600 155px,#ffa100 159px,#ffdb00 162px,#fff900 164px,#f7ff08 165px,#adff52 169px,#32ffcd 175px,#01fffe 178px,#008eff 186px,#0056ff 191px,#0024ff 197px,#0003ff 202px,#0000e6 208px,#00c 216px,#0000b7 229px,#0000a0 258px,#000095 294px,#000091 450px)"></i>
<i style="height:6px;background:linear-gradient(90deg,#0000b4 0,#0000cb 24px,#0000e9 41px,#0002ff 50px,#0025ff 58px,#005dff 66px,#0095ff 72px,#00d1ff 77px,#00feff 80px,#46ffb9 84px,#feff01 94px,#ffb100 98px,#f50 102px,#ff1900 104px,#f40000 105px,#ce0000 106px,#b80000 107px,#9a0000 109px,#850000 111px,#800000 113px,#800000 141px,#930000 144px,#bc0000 148px,#ca0000 149px,#f60000 151px,#ff0e00 152px,#ff6100 156px,#ffd400 162px,#fcff03 165px,#c8ff37 168px,#27ffd8 176px,#06fff9 178px,#00f6ff 179px,#0092ff 186px,#0059ff 191px,#001fff 198px,#00f 203px,#0000df 210px,#0000c2 221px,#00a 243px,#000098 279px,#000093 379px,#000091 450px)"></i>
<i style="height:6px;background:linear-gradient(90deg,#0000b4 0,#0000c9 23px,#0000ea 42px,#0002ff 50px,#001eff 57px,#0053ff 65px,#08f 71px,#00c0ff 76px,#00faff 80px,#0bfff4 81px,#f9ff06 94px,#fff300 95px,#ffa100 99px,#ff5c00 102px,#f20 104px,#fe0000 105px,#d60000 106px,#bc0000 107px,#9d0000 109px,#860000 111px,#800000 112px,#810000 142px,#ac0000 147px,#c40000 149px,#ed0000 151px,#ff0600 152px,#ff5a00 156px,#ffdf00 163px,#fffc00 165px,#e2ff1d 167px,#68ff97 173px,#1bffe4 177px,#00fbff 179px,#0096ff 186px,#005cff 191px,#0021ff 198px,#0001ff 203px,#0000d9 212px,#0000c1 222px,#0000ab 242px,#009 276px,#000094 329px,#000091 450px)"></i>
<i style="height:7px;background:linear-gradient(90deg,#0000b4 0,#0000ca 24px,#0000e7 41px,#0001ff 50px,#02f 58px,#0061ff 67px,#00a5ff 74px,#00e6ff 79px,#00f6ff 80px,#07fff8 81px,#f4ff0b 94px,#fff800 95px,#ffa600 99px,#ff4800 103px,#ff0800 105px,#df0000 106px,#c10000 107px,#a00000 109px,#800 111px,#800000 112px,#800000 142px,#9f0000 146px,#bf0000 149px,#cf0000 150px,#fd0000 152px,#ff6700 157px,#ffd900 163px,#fff700 165px,#f8ff07 166px,#aeff51 170px,#32ffcd 176px,#0ff 179px,#009aff 186px,#05f 192px,#001cff 199px,#0003ff 203px,#0000e5 209px,#0000c7 219px,#0000b2 235px,#00009b 268px,#000094 318px,#000091 450px)"></i>
<i style="height:6px;background:linear-gradient(90deg,#0000b3 0,#0000ce 27px,#0000f0 45px,#0003ff 51px,#0027ff 59px,#005fff 67px,#0098ff 73px,#00c7ff 77px,#03fffc 81px,#efff10 94px,#fffc00 95px,#ffab00 99px,#ff4e00 103px,#ff0f00 105px,#e80000 106px,#c60000 107px,#b10000 108px,#8a0000 111px,#800000 112px,#800000 142px,#8b0000 144px,#af0000 148px,#ca0000 150px,#f60000 152px,#ff0d00 153px,#ff6100 157px,#ffd400 163px,#fcff03 166px,#c8ff37 169px,#37ffc8 176px,#04fffb 179px,#00e6ff 181px,#0091ff 187px,#0058ff 192px,#001eff 199px,#0000fe 204px,#0000db 212px,#0000c0 223px,#0000a7 248px,#000098 279px,#000093 382px,#000091 450px)"></i>
<i style="height:6px;background:linear-gradient(90deg,#0000b3 0,#00c 26px,#0000ed 44px,#0000fe 50px,#0020ff 58px,#005dff 67px,#0096ff 73px,#00d2ff 78px,#00feff 81px,#46ffb9 85px,#feff01 95px,#ffb000 99px,#ff5400 103px,#ff1600 105px,#f00000 106px,#ca0000 107px,#a40000 109px,#820000 112px,#810000 143px,#ac0000 148px,#c50000 150px,#ef0000 152px,#ff0700 153px,#ff5c00 157px,#ffd000 163px,#fffe00 166px,#e0ff1f 168px,#65ff9a 174px,#18ffe7 178px,#08fff7 179px,#00f8ff 180px,#00a1ff 186px,#0064ff 191px,#0027ff 198px,#00f 204px,#0000dc 212px,#0000c2 222px,#00a 244px,#009 276px,#000094 332px,#000091 450px)"></i>
<i style="height:7px;background:linear-gradient(90deg,#0000b3 0,#0000c9 24px,#0000e8 42px,#0002ff 51px,#0025ff 59px,#005cff 67px,#0094ff 73px,#00cfff 78px,#00fbff 81px,#1effe1 83px,#faff05 95px,#ffde00 97px,#ff7100 102px,#ff3c00 104px,#ff1c00 105px,#f70000 106px,#d00000 107px,#b80000 108px,#900 110px,#830000 112px,#800000 118px,#800000 143px,#a90000 148px,#c10000 150px,#d20000 151px,#ff0200 153px,#ff5700 157px,#ffdc00 164px,#fffa00 166px,#f5ff0a 167px,#af5 171px,#41ffbe 176px,#0cfff3 179px,#00fcff 180px,#0097ff 187px,#005cff 192px,#0021ff 199px,#0001ff 204px,#0000d9 213px,#0000bf 224px,#0000a8 247px,#000098 280px,#000093 380px,#000091 450px)"></i>
<i style="height:6px;background:linear-gradient(90deg,#0000b3 0,#0000c9 24px,#0000ea 43px,#0002ff 51px,#0024ff 59px,#005bff 67px,#0092ff 73px,#00daff 79px,#00f8ff 81px,#0afff5 82px,#f7ff08 95px,#fff400 96px,#ffa200 100px,#ff5c00 103px,#ff2100 105px,#fd0000 106px,#d50000 107px,#b00 108px,#9b0000 110px,#840000 112px,#800000 114px,#800000 143px,#8c0000 145px,#b20000 149px,#ce0000 151px,#fc0000 153px,#f60 158px,#ffd900 164px,#fff700 166px,#f8ff07 167px,#c2ff3d 170px,#31ffce 177px,#0ff 180px,#09f 187px,#005eff 192px,#002aff 198px,#0002ff 204px,#0000d6 214px,#0000be 225px,#0000a8 247px,#000098 280px,#000093 383px,#000091 450px)"></i>
<i style="height:6px;background:linear-gradient(90deg,#0000b3 0,#0000ca 25px,#0000ec 44px,#0001ff 51px,#0023ff 59px,#005aff 67px,#0091ff 73px,#00cbff 78px,#00f6ff 81px,#07fff8 82px,#f5ff0a 95px,#fff700 96px,#ffa500 100px,#ff6000 103px,#ff2600 105px,#ff0300 106px,#da0000 107px,#bd0000 108px,#9c0000 110px,#850000 112px,#800000 114px,#800000 143px,#8a0000 145px,#b00000 149px,#ca0000 151px,#f70000 153px,#ff0f00 154px,#ff6200 158px,#ffd500 164px,#fff400 166px,#fbff04 167px,#b2ff4d 171px,#35ffca 177px,#02fffd 180px,#008eff 188px,#0056ff 193px,#0024ff 199px,#0003ff 204px,#0000e5 210px,#0000c7 220px,#0000b1 236px,#00009a 273px,#000094 321px,#000091 450px)"></i>
<i style="height:6px;background:linear-gradient(90deg,#0000b3 0,#0000ca 25px,#0000e7 42px,#0001ff 51px,#0023ff 59px,#0059ff 67px,#008fff 73px,#00c9ff 78px,#00f4ff 81px,#05fffa 82px,#baff45 92px,#f2ff0d 95px,#fff900 96px,#ffa800 100px,#ff4900 104px,#ff0800 106px,#de0000 107px,#c00000 108px,#9d0000 110px,#860000 112px,#800000 113px,#820000 144px,#a30000 148px,#c70000 151px,#f30000 153px,#ff0b00 154px,#ff5f00 158px,#ffd300 164px,#feff01 167px,#b5ff4a 171px,#38ffc7 177px,#04fffb 180px,#00e6ff 182px,#0090ff 188px,#0058ff 193px,#0025ff 199px,#0000fd 205px,#0000d7 214px,#0000bd 226px,#0000a5 252px,#000098 281px,#000093 381px,#000091 450px)"></i>
<i style="height:7px;background:linear-gradient(90deg,#0000b3 0,#0000cb 26px,#0000ec 44px,#0001ff 51px,#02f 59px,#0058ff 67px,#008eff 73px,#00d5ff 79px,#03fffc 82px,#f0ff0f 95px,#fffb00 96px,#fa0 100px,#ff4b00 104px,#ff0b00 106px,#e20000 107px,#c20000 108px,#9e0000 110px,#860000 112px,#800000 113px,#810000 144px,#ac0000 149px,#c50000 151px,#f00000 153px,#ff0800 154px,#ff5d00 158px,#ffe100 165px,#fffe00 167px,#cbff34 170px,#27ffd8 178px,#06fff9 180px,#00f6ff 181px,#009fff 187px,#0063ff 192px,#002dff 198px,#0000fe 205px,#0000db 213px,#0000c2 223px,#0000ac 243px,#009 276px,#000094 336px,#000091 450px)"></i>
<i style="height:6px;background:linear-gradient(90deg,#0000b3 0,#0000cb 26px,#0000ec 44px,#00f 51px,#02f 59px,#0050ff 66px,#0084ff 72px,#00baff 77px,#02fffd 82px,#dcff23 94px,#fffd00 96px,#ffac00 100px,#ff4e00 104px,#ff0d00 106px,#e50000 107px,#c30000 108px,#9f0000 110px,#870000 112px,#800000 113px,#800000 144px,#ab0000 149px,#c40000 151px,#ed0000 153px,#ff0600 154px,#ff5b00 158px,#ffdf00 165px,#fffd00 167px,#e0ff1f 169px,#7aff85 174px,#29ffd6 178px,#08fff7 180px,#00f8ff 181px,#0093ff 188px,#0059ff 193px,#001fff 200px,#0000fe 205px,#0000db 213px,#0000c0 224px,#0000a7 249px,#000098 280px,#000093 383px,#000091 450px)"></i>
<i style="height:6px;background:linear-gradient(90deg,#0000b3 0,#0000cb 26px,#0000e9 43px,#00f 51px,#0021ff 59px,#0057ff 67px,#008dff 73px,#00d3ff 79px,#01fffe 82px,#dbff24 94px,#fffe00 96px,#ffad00 100px,#ff4f00 104px,#ff0f00 106px,#e70000 107px,#c40000 108px,#a00000 110px,#870000 112px,#800000 113px,#800000 144px,#a00000 148px,#c30000 151px,#d40000 152px,#ff0400 154px,#ff5900 158px,#ffde00 165px,#fffc00 167px,#e2ff1d 169px,#2affd5 178px,#09fff6 180px,#00f9ff 181px,#0094ff 188px,#005aff 193px,#0020ff 200px,#00f 205px,#0000db 213px,#0000c0 224px,#0000a7 249px,#000098 280px,#000093 383px,#000091 450px)"></i>
<i style="height:7px;background:linear-gradient(90deg,#0000b3 0,#0000cb 26px,#0000eb 44px,#00f 51px,#0021ff 59px,#0057ff 67px,#008dff 73px,#00c6ff 78px,#01fffe 82px,#47ffb8 86px,#fffe00 96px,#ffae00 100px,#ff5000 104px,#ff1000 106px,#e90000 107px,#c50000 108px,#a00000 110px,#800 112px,#800000 113px,#800000 144px,#a00000 148px,#c20000 151px,#d30000 152px,#ff0300 154px,#ff5800 158px,#fd0 165px,#fffb00 167px,#f4ff0b 168px,#a7ff58 172px,#2bffd4 178px,#09fff6 180px,#00f9ff 181px,#0094ff 188px,#005bff 193px,#0027ff 199px,#00f 205px,#0000db 213px,#0000c0 224px,#0000a7 249px,#000098 280px,#000093 383px,#000091 450px)"></i>
<i style="height:6px;background:linear-gradient(90deg,#0000b3 0,#0000cb 26px,#0000eb 44px,#00f 51px,#0021ff 59px,#0057ff 67px,#008dff 73px,#00c6ff 78px,#0ff 82px,#daff25 94px,#ff0 96px,#ffae00 100px,#ff5000 104px,#f10 106px,#e90000 107px,#c50000 108px,#a00000 110px,#800 112px,#800000 113px,#800000 144px,#a00000 148px,#c20000 151px,#d30000 152px,#ff0300 154px,#ff5800 158px,#fd0 165px,#fffb00 167px,#f4ff0b 168px,#a8ff57 172px,#3effc1 177px,#0afff5 180px,#00f9ff 181px,#0094ff 188px,#0051ff 194px,#0019ff 201px,#00f 205px,#0000db 213px,#0000c2 223px,#0000a9 246px,#000098 280px,#000093 383px,#000091 450px)"></i>
</div>
<div class="hm" style="left:1456px;top:576px;width:450px;height:370px">
<i style="height:6px;background:linear-gradient(90deg,#000096 0,#00009c 94px,#0000ac 121px,#0000be 133px,#0000db 142px,#0000fb 148px,#000bff 150px,#04f 157px,#0073ff 161px,#00a3ff 164px,#00ceff 166px,#00e9ff 167px,#0afff5 168px,#24ffdb 169px,#baff45 177px,#fdff02 181px,#ffda00 183px,#ff6800 187px,#ff2300 190px,#ff0e00 191px,#f90000 192px,#c70000 195px,#850000 200px,#800000 202px,#800000 216px,#8b0000 218px,#ca0000 225px,#e60000 227px,#fa0000 228px,#ff2800 230px,#ff7000 233px,#ffac00 235px,#ffd100 236px,#ffed00 237px,#faff05 238px,#72ff8d 244px,#24ffdb 248px,#03fffc 250px,#00acff 256px,#05f 263px,#001bff 269px,#0000fd 273px,#0000da 280px,#0000bf 289px,#0000a4 306px,#00009a 326px,#000094 450px)"></i>
<i style="height:6px;background:linear-gradient(90deg,#000096 0,#00009c 94px,#0000ac 122px,#0000c1 135px,#0000dc 143px,#0000fd 149px,#0023ff 154px,#0051ff 159px,#0085ff 163px,#00bdff 166px,#00d4ff 167px,#00f1ff 168px,#12ffed 169px,#3effc1 171px,#e3ff1c 180px,#fffb00 182px,#ffd100 184px,#ff5f00 188px,#ff0600 192px,#f20000 193px,#c10000 196px,#800000 201px,#800000 217px,#9e0000 221px,#ce0000 226px,#ed0000 228px,#ff0300 229px,#ff5f00 233px,#ff9700 235px,#ffdc00 237px,#fff600 238px,#f3ff0c 239px,#7fff80 244px,#1cffe3 249px,#00fbff 251px,#007fff 260px,#0045ff 265px,#000fff 271px,#0001ff 273px,#0000dc 280px,#0000c2 288px,#0000a5 305px,#00009a 327px,#000094 450px)"></i>
<i style="height:6px;background:linear-gradient(90deg,#000096 0,#00009c 95px,#0000ac 123px,#0000c0 135px,#0000d9 143px,#0000f8 149px,#00f 150px,#003fff 158px,#006cff 162px,#009aff 165px,#00c2ff 167px,#00daff 168px,#00f9ff 169px,#18ffe7 170px,#42ffbd 172px,#d7ff28 180px,#f8ff07 182px,#fff500 183px,#ffe100 184px,#ff5600 189px,#ff1300 192px,#fe0000 193px,#ca0000 196px,#870000 201px,#800000 202px,#800000 218px,#bc0000 225px,#d20000 227px,#f40000 229px,#ff0b00 230px,#ff6800 234px,#ffa100 236px,#ffe600 238px,#fffd00 239px,#d4ff2b 241px,#7f8 245px,#15ffea 250px,#05fffa 251px,#00e6ff 253px,#0078ff 261px,#0036ff 267px,#0004ff 273px,#0000f6 275px,#0000d2 283px,#0000b6 294px,#0000a1 310px,#009 332px,#000094 450px)"></i>
<i style="height:6px;background:linear-gradient(90deg,#000096 0,#00009c 96px,#0000ac 123px,#0000be 135px,#0000d6 143px,#0000f9 150px,#0001ff 151px,#0041ff 159px,#006fff 163px,#009eff 166px,#00c7ff 168px,#00e0ff 169px,#01fffe 170px,#1effe1 171px,#93ff6c 177px,#feff01 183px,#ffef00 184px,#ffd900 185px,#f60 189px,#ff2000 192px,#ff0c00 193px,#f70000 194px,#c40000 197px,#810000 202px,#820000 219px,#bf0000 226px,#d60000 228px,#fb0000 230px,#ff2900 232px,#ff7100 235px,#ffad00 237px,#ffd200 238px,#fe0 239px,#f9ff06 240px,#cbff34 242px,#6fff90 246px,#20ffdf 250px,#00feff 252px,#008cff 260px,#004fff 265px,#0016ff 271px,#00f 274px,#0000df 280px,#0000bf 290px,#0000a4 307px,#00009a 327px,#000094 450px)"></i>
<i style="height:6px;background:linear-gradient(90deg,#000096 0,#00009c 97px,#0000ac 124px,#0000be 136px,#0000db 145px,#0000fb 151px,#000aff 153px,#0043ff 160px,#0071ff 164px,#00a2ff 167px,#0cf 169px,#00e6ff 170px,#08fff7 171px,#23ffdc 172px,#bdff42 180px,#f2ff0d 183px,#fffb00 184px,#ffe900 185px,#ffd100 186px,#ff5d00 190px,#ff0400 194px,#d00 196px,#890000 202px,#800000 203px,#800000 219px,#8c0000 221px,#c20000 227px,#db0000 229px,#ff0400 231px,#ff5f00 235px,#ff9700 237px,#ffdc00 239px,#fff600 240px,#f2ff0d 241px,#7cff83 246px,#19ffe6 251px,#08fff7 252px,#00f8ff 253px,#0086ff 261px,#003fff 267px,#000bff 273px,#0000fb 275px,#00d 281px,#0000c0 290px,#0000a5 306px,#00009a 328px,#000094 450px)"></i>
<i style="height:6px;background:linear-gradient(90deg,#000096 0,#00009c 97px,#0000ac 125px,#0000c1 138px,#0000e0 147px,#0000fc 152px,#001aff 156px,#004fff 162px,#0074ff 165px,#00a5ff 168px,#00d1ff 170px,#00edff 171px,#0efff1 172px,#3cffc3 174px,#d4ff2b 182px,#f7ff08 184px,#fff600 185px,#ffe200 186px,#ffa900 188px,#f50 191px,#ff1200 194px,#fc0000 195px,#c80000 198px,#840000 203px,#800000 205px,#800000 220px,#b10000 226px,#d10000 229px,#f40000 231px,#ff0b00 232px,#ff6700 236px,#ffa100 238px,#ffe500 240px,#fffd00 241px,#d4ff2b 243px,#75ff8a 247px,#24ffdb 251px,#02fffd 253px,#0073ff 263px,#003aff 268px,#0007ff 274px,#00f 275px,#0000de 281px,#0000bf 291px,#0000a5 307px,#00009a 327px,#000094 450px)"></i>
<i style="height:6px;background:linear-gradient(90deg,#000096 0,#00009c 98px,#0000ac 126px,#0000c0 138px,#0000d9 146px,#0000f7 152px,#0005ff 154px,#003dff 161px,#0069ff 165px,#0096ff 168px,#00d5ff 171px,#00f3ff 172px,#14ffeb 173px,#40ffbf 175px,#c7ff38 182px,#fcff03 185px,#fff000 186px,#ffdb00 187px,#ff6700 191px,#ff2000 194px,#ff0b00 195px,#f50000 196px,#c30000 199px,#800000 204px,#800000 221px,#b40000 227px,#d50000 230px,#fa0000 232px,#ff2700 234px,#ff6f00 237px,#ffab00 239px,#ffd000 240px,#ffed00 241px,#faff05 242px,#6dff92 248px,#1dffe2 252px,#00fbff 254px,#0087ff 262px,#004aff 267px,#0012ff 273px,#0003ff 275px,#0000e0 281px,#0000c2 290px,#0000a5 307px,#00009a 329px,#000094 450px)"></i>
<i style="height:7px;background:linear-gradient(90deg,#000096 0,#00009c 99px,#0000ac 126px,#0000be 138px,#0000d9 147px,#0000f8 153px,#00f 154px,#0036ff 161px,#005eff 165px,#0089ff 168px,#00acff 170px,#00daff 172px,#00f9ff 173px,#19ffe6 174px,#80ff7f 179px,#f0ff0f 185px,#fffd00 186px,#ffd400 188px,#ff5e00 192px,#ff1900 195px,#ff0400 196px,#dc0000 198px,#940000 203px,#870000 204px,#800000 205px,#810000 222px,#c00000 229px,#da0000 231px,#ff0200 233px,#ff5d00 237px,#ff9400 239px,#ffda00 241px,#fff400 242px,#f4ff0b 243px,#7cff83 248px,#29ffd6 252px,#06fff9 254px,#00f5ff 255px,#0081ff 263px,#0045ff 268px,#000eff 274px,#0000fe 276px,#0000de 282px,#0000be 292px,#0000a3 310px,#00009a 329px,#000094 450px)"></i>
<i style="height:6px;background:linear-gradient(90deg,#000096 0,#00009c 100px,#0000ac 127px,#0000be 139px,#0000da 148px,#0001ff 155px,#0040ff 163px,#006dff 167px,#009cff 170px,#00deff 173px,#00feff 174px,#1dffe2 175px,#98ff67 181px,#f4ff0b 186px,#fff800 187px,#ffe500 188px,#fc0 189px,#ff5700 193px,#ff1200 196px,#fc0000 197px,#c70000 200px,#820000 205px,#800000 222px,#8b0000 224px,#c30000 230px,#de0000 232px,#f20000 233px,#ff0900 234px,#ff4c00 237px,#ff9d00 240px,#ffe200 242px,#fffb00 243px,#edff12 244px,#74ff8b 249px,#23ffdc 253px,#0ff 255px,#0089ff 263px,#004bff 268px,#0012ff 274px,#0003ff 276px,#0000e0 282px,#0000c4 290px,#0000a7 306px,#00009a 327px,#000094 450px)"></i>
<i style="height:6px;background:linear-gradient(90deg,#000096 0,#00009c 100px,#0000ac 128px,#0000c1 141px,#0000df 150px,#0002ff 156px,#0038ff 163px,#0062ff 167px,#009fff 171px,#00c9ff 173px,#05fffa 175px,#38ffc7 177px,#d5ff2a 185px,#f9ff06 187px,#fff300 188px,#ffdf00 189px,#ff6900 193px,#ff2100 196px,#ff0b00 197px,#f60000 198px,#d10000 200px,#8b0000 205px,#800000 206px,#800000 223px,#8d0000 225px,#c60000 231px,#e30000 233px,#f80000 234px,#ff0f00 235px,#ff6c00 239px,#ffa700 241px,#ffcb00 242px,#ffe900 243px,#fdff02 244px,#83ff7c 249px,#1cffe3 254px,#0bfff4 255px,#00f9ff 256px,#0083ff 264px,#0051ff 268px,#0016ff 274px,#0000fe 277px,#0000d9 284px,#0000be 293px,#0000a5 309px,#00009a 328px,#000094 450px)"></i>
<i style="height:6px;background:linear-gradient(90deg,#000096 0,#00009c 101px,#0000ac 129px,#0000bf 141px,#0000dc 150px,#0000fb 156px,#000aff 158px,#003aff 164px,#0064ff 168px,#00a2ff 172px,#00cdff 174px,#00e8ff 175px,#0afff5 176px,#3bffc4 178px,#daff25 186px,#fdff02 188px,#ffd800 190px,#ff6100 194px,#ff1a00 197px,#ff0500 198px,#d00 200px,#930000 205px,#860000 206px,#800000 207px,#800000 224px,#a00000 228px,#c90000 232px,#e90000 234px,#fe0000 235px,#ff5a00 239px,#ff9000 241px,#ffd500 243px,#fff000 244px,#f7ff08 245px,#7cff83 250px,#29ffd6 254px,#05fffa 256px,#00e4ff 258px,#007dff 265px,#0036ff 271px,#0002ff 277px,#0000d7 285px,#00b 295px,#0000a3 311px,#00009a 330px,#000094 450px)"></i>
<i style="height:6px;background:linear-gradient(90deg,#000096 0,#00009c 102px,#0000ac 129px,#0000bd 141px,#0000d8 150px,#0000fc 157px,#001aff 161px,#004fff 167px,#0074ff 170px,#00a5ff 173px,#00d1ff 175px,#00edff 176px,#0ffff0 177px,#3fffc0 179px,#cbff34 186px,#f1ff0e 188px,#fffc00 189px,#ffd100 191px,#ff5900 195px,#ff1300 198px,#fd0000 199px,#c70000 202px,#810000 207px,#800000 225px,#b60000 231px,#db0000 234px,#ff0500 236px,#ff6100 240px,#f90 242px,#fd0 244px,#fff700 245px,#f0ff0f 246px,#8cff73 250px,#36ffc9 254px,#00feff 257px,#0093ff 264px,#0052ff 269px,#0016ff 275px,#0000fe 278px,#00d 284px,#0000c0 293px,#0000a4 310px,#00009a 331px,#000094 450px)"></i>
<i style="height:6px;background:linear-gradient(90deg,#000096 0,#00009c 103px,#0000ac 130px,#0000be 142px,#0000d9 151px,#0000fd 158px,#002bff 164px,#005bff 169px,#0096ff 173px,#00bdff 175px,#00d4ff 176px,#00f2ff 177px,#13ffec 178px,#42ffbd 180px,#d0ff2f 187px,#f5ff0a 189px,#fff700 190px,#ffe300 191px,#ffc900 192px,#ff6d00 195px,#f20 198px,#ff0d00 199px,#f70000 200px,#d10000 202px,#8a0000 207px,#800000 208px,#810000 226px,#b80000 232px,#d00000 234px,#f40000 236px,#ff0b00 237px,#ff4e00 240px,#ffa100 243px,#ffe500 245px,#fffd00 246px,#d0ff2f 248px,#85ff7a 251px,#2fffd0 255px,#0afff5 257px,#00f8ff 258px,#008dff 265px,#004cff 270px,#0012ff 276px,#0002ff 278px,#0000d7 286px,#0000ba 296px,#0000a2 313px,#009 335px,#000094 450px)"></i>
<i style="height:6px;background:linear-gradient(90deg,#000096 0,#00009c 103px,#0000ac 131px,#0000c0 144px,#0000de 153px,#0000fe 159px,#0034ff 166px,#005dff 170px,#0098ff 174px,#00c0ff 176px,#00d8ff 177px,#00f6ff 178px,#17ffe8 179px,#5bffa4 182px,#e7ff18 189px,#f9ff06 190px,#fff200 191px,#fd0 192px,#ff6500 196px,#ff0600 200px,#f10000 201px,#c00 203px,#850000 208px,#800000 210px,#800000 226px,#8b0000 228px,#c60000 234px,#e50000 236px,#fa0000 237px,#ff2700 239px,#ff6f00 242px,#ffab00 244px,#ffcf00 245px,#ffeb00 246px,#fbff04 247px,#7dff82 252px,#28ffd7 256px,#04fffb 258px,#00e2ff 260px,#0079ff 267px,#003dff 272px,#000eff 277px,#0000fe 279px,#00d 285px,#0000bd 295px,#0000a3 312px,#00009a 332px,#000094 450px)"></i>
<i style="height:6px;background:linear-gradient(90deg,#000096 0,#00009c 104px,#0000ac 132px,#0000c3 146px,#0000e3 155px,#00f 160px,#0036ff 167px,#005fff 171px,#009aff 175px,#00c3ff 177px,#00dcff 178px,#00fbff 179px,#34ffcb 181px,#d9ff26 189px,#feff01 191px,#ffd700 193px,#ff5e00 197px,#ff1500 200px,#f00 201px,#c70000 204px,#800000 209px,#800000 227px,#8d0000 229px,#be0000 234px,#d80000 236px,#ff0100 238px,#ff5c00 242px,#ff9300 244px,#ffd700 246px,#fff200 247px,#f4ff0b 248px,#76ff89 253px,#0ffff0 258px,#00fdff 259px,#009eff 265px,#0059ff 270px,#001bff 276px,#0002ff 279px,#0000db 286px,#0000be 295px,#0000a5 311px,#00009a 331px,#000094 450px)"></i>
<i style="height:6px;background:linear-gradient(90deg,#000096 0,#00009c 105px,#0000ac 133px,#0000c1 146px,#0000db 154px,#0001ff 161px,#0037ff 168px,#0060ff 172px,#009dff 176px,#00c6ff 178px,#01fffe 180px,#1fffe0 181px,#8dff72 186px,#f0ff0f 191px,#fffc00 192px,#ffd000 194px,#ff5600 198px,#ff0f00 201px,#f90000 202px,#d20000 204px,#890000 209px,#800000 210px,#800000 228px,#a10000 232px,#cd0000 236px,#f00000 238px,#ff0700 239px,#ff4a00 242px,#ff7d00 244px,#ffbe00 246px,#ffdf00 247px,#fff900 248px,#ef1 249px,#86ff79 253px,#2fffd0 257px,#09fff6 259px,#00f7ff 260px,#0098ff 266px,#0054ff 271px,#0020ff 276px,#0000fe 280px,#0000e1 285px,#0000c2 294px,#0000a6 310px,#00009a 330px,#000094 450px)"></i>
<i style="height:6px;background:linear-gradient(90deg,#000096 0,#00009c 106px,#0000ac 133px,#0000bd 145px,#0000d8 154px,#0002ff 162px,#0038ff 169px,#0062ff 173px,#009fff 177px,#00caff 179px,#00e4ff 180px,#06fff9 181px,#3bffc4 183px,#ceff31 190px,#f5ff0a 192px,#fff700 193px,#ffc800 195px,#ff6a00 198px,#ff1e00 201px,#ff0800 202px,#f20000 203px,#bd0000 206px,#850000 210px,#800000 212px,#800000 229px,#ad0000 234px,#d10000 237px,#f60000 239px,#ff0d00 240px,#ff5000 243px,#ff8500 245px,#ffe600 248px,#ff0 249px,#7fff80 254px,#29ffd6 258px,#03fffc 260px,#00a1ff 266px,#005bff 271px,#0024ff 276px,#0002ff 280px,#0000da 287px,#0000bc 297px,#0000a4 313px,#00009a 333px,#000094 450px)"></i>
<i style="height:6px;background:linear-gradient(90deg,#000096 0,#00009c 107px,#0000ac 134px,#0000be 146px,#0000d9 155px,#0000fb 162px,#000aff 164px,#0039ff 170px,#0064ff 174px,#0090ff 177px,#00b6ff 179px,#00e8ff 181px,#0afff5 182px,#27ffd8 183px,#af5 189px,#f9ff06 193px,#fff200 194px,#ffdc00 195px,#ff9f00 197px,#ff4700 200px,#ff0200 203px,#b80000 207px,#800000 211px,#800000 230px,#ba0000 236px,#d50000 238px,#fc0000 240px,#ff2800 242px,#ff7100 245px,#ffad00 247px,#ffd100 248px,#ffed00 249px,#f9ff06 250px,#90ff6f 254px,#36ffc9 258px,#0ffff0 260px,#00fcff 261px,#008cff 268px,#0049ff 273px,#000eff 279px,#0000fe 281px,#0000e1 286px,#0000c1 295px,#0000a6 311px,#00009a 331px,#000094 450px)"></i>
<i style="height:6px;background:linear-gradient(90deg,#000096 0,#00009c 107px,#0000ac 135px,#0000c0 148px,#00d 157px,#0000fc 163px,#0019ff 167px,#004eff 173px,#0082ff 177px,#00b9ff 180px,#00edff 182px,#0ffff0 183px,#42ffbd 185px,#d7ff28 192px,#feff01 194px,#ffd600 196px,#ff5a00 200px,#f10 203px,#fa0000 204px,#c30000 207px,#890000 211px,#800000 212px,#820000 231px,#bd0000 237px,#d90000 239px,#ff0300 241px,#ff5d00 245px,#ff9500 247px,#ffd900 249px,#fff400 250px,#f2ff0d 251px,#8f7 255px,#2fffd0 259px,#09fff6 261px,#00f6ff 262px,#0095ff 268px,#005cff 272px,#0025ff 277px,#0002ff 281px,#0000da 288px,#0000c0 296px,#0000a5 312px,#00009a 334px,#000094 450px)"></i>
<i style="height:6px;background:linear-gradient(90deg,#000096 0,#00009c 108px,#0000ac 136px,#0000c3 150px,#0000de 158px,#0000fd 164px,#002aff 170px,#005bff 175px,#0085ff 178px,#00a8ff 180px,#00d4ff 182px,#00f1ff 183px,#14ffeb 184px,#5cffa3 187px,#dcff23 193px,#fffc00 195px,#ffce00 197px,#ff5200 201px,#ff0a00 204px,#f40000 205px,#bd0000 208px,#840000 212px,#800000 214px,#800000 231px,#8c0000 233px,#c00000 238px,#de0000 240px,#f20000 241px,#ff0900 242px,#ff6400 246px,#ff9d00 248px,#ffe100 250px,#fffb00 251px,#ebff14 252px,#9f6 255px,#28ffd7 260px,#02fffd 262px,#007fff 270px,#004aff 274px,#0017ff 279px,#0000fd 282px,#0000dc 288px,#0000bc 298px,#0000a3 315px,#00009a 334px,#000094 450px)"></i>
<i style="height:6px;background:linear-gradient(90deg,#000096 0,#00009c 109px,#0000ac 137px,#0000c1 150px,#0000df 159px,#0000fe 165px,#002bff 171px,#005dff 176px,#0087ff 179px,#0af 181px,#00d8ff 183px,#00f7ff 184px,#18ffe7 185px,#7f8 189px,#f4ff0b 195px,#fff700 196px,#ffc600 198px,#ff6700 201px,#ff3100 203px,#ff0400 205px,#da0000 207px,#9b0000 211px,#800000 213px,#800000 232px,#8e0000 234px,#c30000 239px,#e30000 241px,#f80000 242px,#ff0f00 243px,#ff5200 246px,#f80 248px,#ffe800 251px,#fdff02 252px,#91ff6e 256px,#36ffc9 260px,#0efff1 262px,#00fbff 263px,#0097ff 269px,#0051ff 274px,#001cff 279px,#0002ff 282px,#0000de 288px,#0000c2 296px,#0000a6 312px,#00009a 332px,#000094 450px)"></i>
<i style="height:6px;background:linear-gradient(90deg,#000096 0,#00009c 110px,#0000ac 137px,#0000bf 150px,#0000db 159px,#00f 166px,#0035ff 173px,#005fff 177px,#0089ff 180px,#00c3ff 183px,#00dcff 184px,#00fcff 185px,#36ffc9 187px,#bcff43 193px,#f9ff06 196px,#fff100 197px,#ffdb00 198px,#ff5e00 202px,#ff1300 205px,#fc0000 206px,#c30000 209px,#800 213px,#800000 214px,#800000 233px,#a40000 237px,#c70000 240px,#e90000 242px,#fe0000 243px,#ff5900 247px,#ff9000 249px,#ffd300 251px,#ffef00 252px,#f5ff0a 253px,#8aff75 257px,#2fffd0 261px,#08fff7 263px,#00f4ff 264px,#0081ff 271px,#004bff 275px,#000fff 281px,#0000fd 283px,#0000db 289px,#0000be 298px,#0000a5 314px,#00009a 333px,#000094 450px)"></i>
<i style="height:7px;background:linear-gradient(90deg,#000096 0,#00009c 111px,#0000ac 138px,#0000c0 151px,#0000dc 160px,#0001ff 167px,#0037ff 174px,#0060ff 178px,#009dff 182px,#00c7ff 184px,#02fffd 186px,#3bffc4 188px,#c1ff3e 194px,#feff01 197px,#ffd400 199px,#ff5600 203px,#ff0c00 206px,#f50000 207px,#bd0000 210px,#830000 214px,#800000 220px,#800000 234px,#bd0000 240px,#db0000 242px,#ff0500 244px,#ff6000 248px,#ff9800 250px,#ffdc00 252px,#fff700 253px,#ef1 254px,#82ff7d 258px,#28ffd7 262px,#01fffe 264px,#008aff 271px,#0052ff 275px,#0013ff 281px,#0002ff 283px,#00d 289px,#0000bf 298px,#0000a5 314px,#00009a 334px,#000094 450px)"></i>
<i style="height:6px;background:linear-gradient(90deg,#000095 0,#00009c 111px,#0000ac 139px,#0000c0 152px,#0000e1 162px,#0002ff 168px,#0038ff 175px,#0063ff 179px,#00a0ff 183px,#00cbff 185px,#00e6ff 186px,#08fff7 187px,#3fffc0 189px,#c6ff39 195px,#f0ff0f 197px,#fffa00 198px,#fc0 200px,#ff6a00 203px,#f30 205px,#ff0500 207px,#da0000 209px,#9a0000 213px,#800000 215px,#820000 235px,#b50000 240px,#cf0000 242px,#f50000 244px,#ff0b00 245px,#ff6800 249px,#ffa200 251px,#ffe400 253px,#fffe00 254px,#92ff6d 258px,#35ffca 262px,#0dfff2 264px,#00f9ff 265px,#0093ff 271px,#0058ff 275px,#0017ff 281px,#0000fd 284px,#0000df 289px,#0000c0 298px,#0000a4 315px,#00009a 336px,#000094 450px)"></i>
<i style="height:6px;background:linear-gradient(90deg,#000095 0,#00009c 112px,#0000ac 140px,#0000c3 154px,#0000e2 163px,#0000fc 168px,#0019ff 172px,#0043ff 177px,#0072ff 181px,#00a4ff 184px,#00d0ff 186px,#00ebff 187px,#0efff1 188px,#4fb 190px,#cf3 196px,#f6ff09 198px,#fff500 199px,#ffdf00 200px,#ffa000 202px,#ff4500 205px,#ff1400 207px,#fc0000 208px,#c20000 211px,#870000 215px,#800000 216px,#800000 235px,#8d0000 237px,#b80000 241px,#d40000 243px,#fb0000 245px,#ff2700 247px,#ff7000 250px,#ffac00 252px,#ffcf00 253px,#ffec00 254px,#f8ff07 255px,#8aff75 259px,#2effd1 263px,#06fff9 265px,#00f2ff 266px,#008cff 272px,#0052ff 276px,#0013ff 282px,#0002ff 284px,#00d 290px,#0000c1 298px,#0000a6 314px,#00009a 334px,#000094 450px)"></i>
<i style="height:6px;background:linear-gradient(90deg,#000095 0,#00009c 113px,#0000ac 140px,#0000c1 154px,#0000df 163px,#0000fd 169px,#001aff 173px,#004fff 179px,#0084ff 183px,#00bcff 186px,#00d4ff 187px,#00f2ff 188px,#14ffeb 189px,#61ff9e 192px,#e7ff18 198px,#fbff04 199px,#ffef00 200px,#ffd700 201px,#ff5700 205px,#ff0c00 208px,#f50000 209px,#bc0000 212px,#820000 216px,#800000 236px,#900000 238px,#b00 242px,#d90000 244px,#ff0300 246px,#ff5e00 250px,#ff9500 252px,#ffd900 254px,#fff400 255px,#f0ff0f 256px,#81ff7e 260px,#26ffd9 264px,#00fdff 266px,#00a5ff 271px,#0059ff 276px,#0021ff 281px,#0000fc 285px,#0000da 291px,#0000c0 299px,#0000a5 315px,#00009a 335px,#000094 450px)"></i>
<i style="height:6px;background:linear-gradient(90deg,#000095 0,#00009c 114px,#0000ac 141px,#0000be 153px,#0000d4 161px,#0000f9 169px,#00f 170px,#002bff 176px,#005dff 181px,#0098ff 185px,#00c1ff 187px,#00d9ff 188px,#00f8ff 189px,#1affe5 190px,#7eff81 194px,#edff12 199px,#fffd00 200px,#ffcf00 202px,#ff4e00 206px,#ff0400 209px,#d90000 211px,#900 215px,#800000 217px,#800000 237px,#b30000 242px,#cd0000 244px,#f30000 246px,#ff0a00 247px,#ff4d00 250px,#ff8100 252px,#ffe200 255px,#fffc00 256px,#caff35 258px,#92ff6d 260px,#3fc 264px,#0afff5 266px,#00f6ff 267px,#008dff 273px,#0053ff 277px,#001cff 282px,#0001ff 285px,#0000dc 291px,#0000c1 299px,#0000a8 313px,#00009a 333px,#000094 450px)"></i>
<i style="height:6px;background:linear-gradient(90deg,#000095 0,#00009c 114px,#0000ac 142px,#0000c0 155px,#0000dc 164px,#0001ff 171px,#002dff 177px,#005fff 182px,#009cff 186px,#00c6ff 188px,#00dfff 189px,#0ff 190px,#3bffc4 192px,#c8ff37 198px,#f3ff0c 200px,#fff700 201px,#ffe100 202px,#ffc500 203px,#ff6100 206px,#ff1300 209px,#fb0000 210px,#c10000 213px,#850000 217px,#800000 219px,#820000 238px,#b60000 243px,#d20000 245px,#fa0000 247px,#ff2600 249px,#ff6f00 252px,#fa0 254px,#ffeb00 256px,#f9ff06 257px,#8f7 261px,#2bffd4 265px,#02fffd 267px,#0086ff 274px,#004dff 278px,#0017ff 283px,#0005ff 285px,#0000f4 287px,#0000d6 293px,#00b 302px,#0000a3 318px,#00009a 337px,#000094 450px)"></i>
<i style="height:6px;background:linear-gradient(90deg,#000095 0,#00009c 115px,#0000ac 143px,#0000c3 157px,#0000e6 167px,#0002ff 172px,#002fff 178px,#0056ff 182px,#007eff 185px,#00b4ff 188px,#00e5ff 190px,#08fff7 191px,#41ffbe 193px,#ceff31 199px,#f9ff06 201px,#fff000 202px,#ffd900 203px,#ff5700 207px,#ff0b00 210px,#f30000 211px,#ba0000 214px,#800000 218px,#800000 238px,#840000 239px,#ba0000 244px,#d80000 246px,#ff0200 248px,#ff5d00 252px,#ff9500 254px,#ffd800 256px,#fff400 257px,#f0ff0f 258px,#7fff80 262px,#23ffdc 266px,#0efff1 267px,#00f9ff 268px,#009fff 273px,#0060ff 277px,#001bff 283px,#00f 286px,#0000e0 291px,#0000c0 300px,#0000a5 316px,#00009a 338px,#000094 450px)"></i>
<i style="height:6px;background:linear-gradient(90deg,#000095 0,#00009c 116px,#0000ac 143px,#0000c1 157px,#0000df 166px,#0000fd 172px,#0019ff 176px,#0043ff 181px,#0073ff 185px,#00a4ff 188px,#00d1ff 190px,#00edff 191px,#10ffef 192px,#60ff9f 195px,#d5ff2a 200px,#fffe00 202px,#ffcf00 204px,#ff4d00 208px,#ff0200 211px,#c40000 214px,#870000 218px,#800000 219px,#800000 239px,#a60000 243px,#cd0000 246px,#f30000 248px,#ff0a00 249px,#ff4d00 252px,#ff8100 254px,#ffe200 257px,#fffd00 258px,#c8ff37 260px,#75ff8a 263px,#1affe5 267px,#06fff9 268px,#00f1ff 269px,#0097ff 274px,#0059ff 278px,#0020ff 283px,#0004ff 286px,#0000f3 288px,#0000d5 294px,#0000ba 303px,#0000a4 318px,#00009a 338px,#000094 450px)"></i>
<i style="height:6px;background:linear-gradient(90deg,#000095 0,#00009c 116px,#0000ac 144px,#0000c0 157px,#0000d8 165px,#0000fe 173px,#002aff 179px,#005cff 184px,#0086ff 187px,#00a9ff 189px,#00d7ff 191px,#00f5ff 192px,#18ffe7 193px,#80ff7f 197px,#f2ff0d 202px,#fff700 203px,#ffe100 204px,#ffc400 205px,#ff5f00 208px,#ff1000 211px,#f90000 212px,#bd0000 215px,#810000 219px,#800000 240px,#b60000 245px,#d30000 247px,#fb0000 249px,#ff2700 251px,#ff7000 254px,#ffac00 256px,#ffec00 258px,#f7ff08 259px,#84ff7b 263px,#1fe 268px,#00fcff 269px,#00a0ff 274px,#0060ff 278px,#002fff 282px,#0000fe 287px,#0000df 292px,#0000c2 300px,#0000a6 316px,#00009a 336px,#000094 450px)"></i>
<i style="height:6px;background:linear-gradient(90deg,#000095 0,#00009c 117px,#0000ac 145px,#0000c3 159px,#0000e1 168px,#0001ff 174px,#002cff 180px,#0053ff 184px,#008aff 188px,#00afff 190px,#00deff 192px,#00feff 193px,#3cffc3 195px,#b6ff49 200px,#faff05 203px,#ffef00 204px,#ffd700 205px,#ff5400 209px,#ff0700 212px,#f00000 213px,#b70000 216px,#890000 219px,#800000 220px,#800000 240px,#830000 241px,#ae0000 245px,#da0000 248px,#ff0400 250px,#ff5f00 254px,#ff9700 256px,#ffda00 258px,#fff600 259px,#edff12 260px,#94ff6b 263px,#3fc 267px,#08fff7 269px,#00f3ff 270px,#0097ff 275px,#0059ff 279px,#001fff 284px,#0003ff 287px,#00d 293px,#0000c1 301px,#0000a6 316px,#00009a 337px,#000094 450px)"></i>
<i style="height:6px;background:linear-gradient(90deg,#000095 0,#00009c 118px,#0000ac 145px,#0000c1 159px,#0000e2 169px,#0003ff 175px,#002fff 181px,#0056ff 185px,#007eff 188px,#00b4ff 191px,#00e6ff 193px,#09fff6 194px,#43ffbc 196px,#beff41 201px,#ecff13 203px,#fffd00 204px,#ffcd00 206px,#ff6700 209px,#ff2e00 211px,#fd0000 213px,#c00000 216px,#830000 220px,#800000 226px,#800000 241px,#900000 243px,#c00000 247px,#e10000 249px,#f60000 250px,#ff0c00 251px,#ff6900 255px,#ffa400 257px,#ffe500 259px,#fdff02 260px,#89ff76 264px,#29ffd6 268px,#00feff 270px,#00b1ff 274px,#005fff 279px,#0023ff 284px,#0000fd 288px,#0000e3 292px,#0000c4 300px,#0000a8 315px,#00009a 336px,#000094 450px)"></i>
<i style="height:6px;background:linear-gradient(90deg,#000095 0,#00009c 118px,#0000ac 146px,#0000c0 159px,#0000db 168px,#0000fd 175px,#0019ff 179px,#004eff 185px,#0083ff 189px,#0bf 192px,#00f0ff 194px,#13ffec 195px,#4cffb3 197px,#deff21 203px,#f4ff0b 204px,#fff500 205px,#ffc000 207px,#ff5a00 210px,#ff2300 212px,#ff0b00 213px,#f30000 214px,#b90000 217px,#8b0000 220px,#800000 221px,#800000 242px,#b70000 247px,#d60000 249px,#fe0000 251px,#ff4100 254px,#ff9000 257px,#ffd300 259px,#fff000 260px,#f2ff0d 261px,#98ff67 264px,#36ffc9 268px,#0afff5 270px,#00f4ff 271px,#0097ff 276px,#0058ff 280px,#0028ff 284px,#0001ff 288px,#0000db 294px,#00b 304px,#0000a3 320px,#00009a 340px,#000094 450px)"></i>
<i style="height:6px;background:linear-gradient(90deg,#000095 0,#00009c 119px,#0000ac 147px,#0000c3 161px,#00d 169px,#00f 176px,#002bff 182px,#005dff 187px,#08f 190px,#00acff 192px,#00dbff 194px,#00faff 195px,#3affc5 197px,#b8ff47 202px,#fcff03 205px,#ffec00 206px,#ffd300 207px,#ff4d00 211px,#ff0100 214px,#c20000 217px,#840000 221px,#800000 223px,#800000 242px,#840000 243px,#b00000 247px,#d00 250px,#f20000 251px,#ff0800 252px,#ff6400 256px,#ff9d00 258px,#ffdf00 260px,#fffc00 261px,#e6ff19 262px,#8cff73 265px,#2bffd4 269px,#0ff 271px,#00b1ff 275px,#005eff 280px,#02f 285px,#0005ff 288px,#0000f4 290px,#0000d9 295px,#0000bc 304px,#0000a4 320px,#00009a 340px,#000094 450px)"></i>
<i style="height:6px;background:linear-gradient(90deg,#000095 0,#00009c 120px,#0000ac 147px,#0000c1 161px,#0000e2 171px,#0002ff 177px,#002eff 183px,#0061ff 188px,#008dff 191px,#00b3ff 193px,#00e4ff 195px,#07fff8 196px,#43ffbc 198px,#c1ff3e 203px,#f0ff0f 205px,#fff900 206px,#ffe200 207px,#ffc500 208px,#ff5e00 211px,#ff2600 213px,#ff0e00 214px,#f50000 215px,#ba0000 218px,#8b0000 221px,#800000 222px,#800000 243px,#920000 245px,#c30000 249px,#e60000 251px,#fb0000 252px,#ff2700 254px,#ff7000 257px,#ffac00 259px,#ffec00 261px,#f6ff09 262px,#9bff64 265px,#4effb1 268px,#0afff5 271px,#00f4ff 272px,#00a7ff 276px,#0064ff 280px,#0026ff 285px,#00f 289px,#0000e4 293px,#0000c8 300px,#0000ae 312px,#00009d 329px,#000096 393px,#000094 450px)"></i>
<i style="height:6px;background:linear-gradient(90deg,#000095 0,#00009c 120px,#0000ac 148px,#0000c0 161px,#0000db 170px,#0000fd 177px,#0020ff 182px,#0059ff 188px,#0093ff 192px,#0bf 194px,#00efff 196px,#13ffec 197px,#67ff98 200px,#e2ff1d 205px,#f9ff06 206px,#ffef00 207px,#ffd600 208px,#ff5000 212px,#ff0300 215px,#b20000 219px,#840000 222px,#800000 224px,#810000 244px,#ad0000 248px,#c90000 250px,#ef0000 252px,#ff0600 253px,#ff6100 257px,#f90 259px,#ffdc00 261px,#fff800 262px,#e9ff16 263px,#8eff71 266px,#43ffbc 269px,#0ff 272px,#00afff 276px,#006aff 280px,#0036ff 284px,#0003ff 289px,#0000dc 295px,#0000c0 303px,#0000a6 318px,#00009a 338px,#000094 450px)"></i>
<i style="height:6px;background:linear-gradient(90deg,#000095 0,#00009c 121px,#0000ac 149px,#0000c3 163px,#0000e1 172px,#0001ff 178px,#002bff 184px,#005eff 189px,#0089ff 192px,#00adff 194px,#00dcff 196px,#00fcff 197px,#57ffa8 200px,#bdff42 204px,#ecff13 206px,#fffb00 207px,#ffe500 208px,#ffc900 209px,#ff6100 212px,#ff2800 214px,#ff0f00 215px,#f60000 216px,#ba0000 219px,#8b0000 222px,#800000 223px,#800000 244px,#850000 245px,#c10000 250px,#e40000 252px,#f90000 253px,#ff0f00 254px,#ff5300 257px,#ff8900 259px,#ffe900 262px,#f8ff07 263px,#9cff63 266px,#37ffc8 270px,#0afff5 272px,#00f3ff 273px,#0093ff 278px,#0053ff 282px,#0019ff 287px,#0000fc 290px,#00d 295px,#0000be 304px,#0000a4 320px,#00009a 341px,#000094 450px)"></i>
<i style="height:7px;background:linear-gradient(90deg,#000095 0,#00009c 121px,#0000ac 149px,#0000c0 162px,#0000db 171px,#0000fc 178px,#0010ff 181px,#0041ff 187px,#0070ff 191px,#00a1ff 194px,#00cdff 196px,#00e8ff 197px,#0bfff4 198px,#47ffb8 200px,#c8ff37 205px,#f7ff08 207px,#fff100 208px,#ffd800 209px,#ff5100 213px,#ff0300 216px,#b10000 220px,#830000 223px,#800000 229px,#800000 245px,#ac0000 249px,#c80000 251px,#e00 253px,#ff0400 254px,#ff6000 258px,#ff9800 260px,#ffda00 262px,#fff700 263px,#eaff15 264px,#af5 266px,#5affa5 269px,#00fdff 273px,#00adff 277px,#0067ff 281px,#03f 285px,#00f 290px,#0000df 295px,#0000c2 303px,#0000a8 317px,#00009a 338px,#000094 450px)"></i>
<i style="height:6px;background:linear-gradient(90deg,#000095 0,#00009c 122px,#0000ad 151px,#0000c5 165px,#0000e5 174px,#0000fe 179px,#002aff 185px,#005bff 190px,#0096ff 194px,#00bfff 196px,#00d7ff 197px,#00f5ff 198px,#19ffe6 199px,#8f7 203px,#ebff14 207px,#fffd00 208px,#ffca00 210px,#ff6100 213px,#ff2700 215px,#ff0e00 216px,#f60000 217px,#cb0000 219px,#8a0000 223px,#800000 224px,#800000 245px,#840000 246px,#b30000 250px,#d10000 252px,#f90000 254px,#ff0f00 255px,#ff5300 258px,#ff8900 260px,#ffe900 263px,#f8ff07 264px,#7fff80 268px,#1effe1 272px,#08fff7 273px,#00f1ff 274px,#00a2ff 278px,#005eff 282px,#002cff 286px,#0003ff 290px,#0000dc 296px,#0000c0 304px,#0000a7 318px,#00009a 339px,#000094 450px)"></i>
<i style="height:6px;background:linear-gradient(90deg,#000095 0,#00009c 122px,#0000ac 150px,#0000bf 163px,#0000e2 174px,#0002ff 180px,#002dff 186px,#0061ff 191px,#009eff 195px,#00c9ff 197px,#00e3ff 198px,#06fff9 199px,#4fb 201px,#c7ff38 206px,#f6ff09 208px,#fff100 209px,#ffd800 210px,#ff5000 214px,#ff0100 217px,#c10000 220px,#810000 224px,#800000 246px,#ac0000 250px,#da0000 253px,#ff0500 255px,#ff6000 259px,#ff9800 261px,#fff800 264px,#e9ff16 265px,#a8ff57 267px,#3fffc0 271px,#1fe 273px,#00faff 274px,#00a9ff 278px,#0064ff 282px,#0030ff 286px,#0006ff 290px,#0000fc 291px,#0000e2 295px,#0000c3 303px,#0000a6 319px,#00009a 340px,#000094 450px)"></i>
<i style="height:6px;background:linear-gradient(90deg,#000095 0,#00009c 123px,#0000ad 152px,#0000c5 166px,#0000e5 175px,#0000fe 180px,#0021ff 185px,#04f 189px,#0074ff 193px,#00a7ff 196px,#00d5ff 198px,#00f2ff 199px,#15ffea 200px,#6dff92 203px,#ebff14 208px,#fffc00 209px,#ffe500 210px,#ffc800 211px,#ff5f00 214px,#ff2500 216px,#ff0c00 217px,#f30000 218px,#b70000 221px,#800 224px,#800000 225px,#800000 246px,#840000 247px,#b30000 251px,#d20000 253px,#fa0000 255px,#ff1000 256px,#ff5400 259px,#ff8a00 261px,#ffeb00 264px,#f6ff09 265px,#98ff67 268px,#4affb5 271px,#04fffb 274px,#00d8ff 276px,#007aff 281px,#003fff 285px,#00f 291px,#0000e4 295px,#0000c4 303px,#0000ac 315px,#00009d 331px,#000096 395px,#000094 450px)"></i>
<i style="height:6px;background:linear-gradient(90deg,#000095 0,#00009c 123px,#0000ac 151px,#0000bf 164px,#0000de 174px,#0002ff 181px,#002dff 187px,#0054ff 191px,#007cff 194px,#00b1ff 197px,#00e2ff 199px,#03fffc 200px,#43ffbc 202px,#aeff51 206px,#f8ff07 209px,#ffef00 210px,#ffd600 211px,#ff4d00 215px,#ff1700 217px,#fd0000 218px,#be0000 221px,#800000 225px,#800000 247px,#ad0000 251px,#dc0000 254px,#f10000 255px,#ff0700 256px,#ff4900 259px,#ff9b00 262px,#fffb00 265px,#e5ff1a 266px,#a4ff5b 268px,#3bffc4 272px,#0dfff2 274px,#00f5ff 275px,#00a4ff 279px,#005fff 283px,#002cff 287px,#0003ff 291px,#0000db 297px,#0000bf 305px,#0000a6 320px,#00009a 340px,#000094 450px)"></i>
<i style="height:6px;background:linear-gradient(90deg,#000095 0,#00009c 124px,#0000ad 153px,#0000c5 167px,#0000e5 176px,#0000fe 181px,#0020ff 186px,#004fff 191px,#0074ff 194px,#00a7ff 197px,#00d4ff 199px,#00f1ff 200px,#15ffea 201px,#89ff76 205px,#ef1 209px,#fff900 210px,#ffe200 211px,#ffc400 212px,#ff5a00 215px,#ff2100 217px,#ff0800 218px,#ef0000 219px,#c50000 221px,#840000 225px,#800000 227px,#800000 247px,#850000 248px,#b50000 252px,#d40000 254px,#fd0000 256px,#ff3f00 259px,#ff8e00 262px,#ffef00 265px,#f2ff0d 266px,#b0ff4f 268px,#5dffa2 271px,#00feff 275px,#00abff 279px,#0064ff 283px,#002fff 287px,#0005ff 291px,#0000f3 293px,#0000d4 299px,#0000b9 308px,#0000a3 323px,#00009a 343px,#000094 450px)"></i>
<i style="height:6px;background:linear-gradient(90deg,#000095 0,#00009c 124px,#0000ac 152px,#0000c0 165px,#0000de 175px,#0002ff 182px,#002dff 188px,#0060ff 193px,#008cff 196px,#00c8ff 199px,#05fffa 201px,#61ff9e 204px,#e3ff1c 209px,#fbff04 210px,#ffec00 211px,#ffd100 212px,#ff4700 216px,#f10 218px,#f80000 219px,#c00 221px,#8a0000 225px,#800000 226px,#800000 248px,#af0000 252px,#cd0000 254px,#f50000 256px,#ff0b00 257px,#ff4e00 260px,#ff8300 262px,#ffe300 265px,#fdff02 266px,#9dff62 269px,#36ffc9 273px,#07fff8 275px,#00efff 276px,#008bff 281px,#0059ff 284px,#001cff 289px,#0000fe 292px,#0000e3 296px,#0000c3 304px,#0000a6 320px,#00009a 341px,#000094 450px)"></i>
<i style="height:6px;background:linear-gradient(90deg,#000095 0,#00009c 125px,#0000ac 152px,#0000bd 164px,#0000d5 173px,#0000fe 182px,#0029ff 188px,#005bff 193px,#0085ff 196px,#00a8ff 198px,#00d7ff 200px,#00f4ff 201px,#18ffe7 202px,#71ff8e 205px,#f2ff0d 210px,#fff500 211px,#ffdc00 212px,#ffbd00 213px,#ff5200 216px,#ff1a00 218px,#ff0200 219px,#c00000 222px,#800000 226px,#800000 248px,#910000 250px,#c70000 254px,#ff0300 257px,#ff5d00 261px,#ff9500 263px,#fff500 266px,#eaff15 267px,#a8ff57 269px,#56ffa9 272px,#0efff1 275px,#00f6ff 276px,#00a4ff 280px,#005dff 284px,#001fff 289px,#0001ff 292px,#0000df 297px,#0000c1 305px,#0000a5 321px,#00009a 343px,#000094 450px)"></i>
<i style="height:6px;background:linear-gradient(90deg,#000095 0,#00009c 125px,#0000ac 153px,#0000c2 167px,#0000e3 177px,#0003ff 183px,#002eff 189px,#0062ff 194px,#008eff 197px,#00b5ff 199px,#00e7ff 201px,#0afff5 202px,#6f9 205px,#e9ff16 210px,#fffd00 211px,#ffc900 213px,#ff5e00 216px,#ff2300 218px,#ff0a00 219px,#f10000 220px,#b40000 223px,#850000 226px,#800000 228px,#800000 248px,#830000 249px,#b20000 253px,#e50000 256px,#fa0000 257px,#ff1000 258px,#ff5400 261px,#ff8a00 263px,#ffeb00 266px,#f5ff0a 267px,#95ff6a 270px,#2effd1 274px,#00fdff 276px,#00a9ff 280px,#0061ff 284px,#002dff 288px,#0003ff 292px,#0000db 298px,#0000bf 306px,#0000a6 321px,#00009a 341px,#000094 450px)"></i>
<i style="height:6px;background:linear-gradient(90deg,#000095 0,#00009c 125px,#0000ac 153px,#0000c1 167px,#0000de 176px,#00f 183px,#03f 190px,#006aff 195px,#09f 198px,#00c2ff 200px,#00fbff 202px,#3effc1 204px,#adff52 208px,#f9ff06 211px,#fe0 212px,#ffd400 213px,#ff6900 216px,#ff2c00 218px,#ff1200 219px,#f90000 220px,#c00 222px,#890000 226px,#800000 227px,#800000 249px,#ae0000 253px,#c00 255px,#f30000 257px,#ff0900 258px,#ff6500 262px,#ff9f00 264px,#ff0 267px,#9eff61 270px,#4dffb2 273px,#05fffa 276px,#00d7ff 278px,#0076ff 283px,#0049ff 286px,#000fff 291px,#0000fb 293px,#0000e1 297px,#0000c2 305px,#0000a7 320px,#00009a 340px,#000094 450px)"></i>
<i style="height:6px;background:linear-gradient(90deg,#000095 0,#00009c 126px,#0000ac 154px,#0000c3 168px,#0000e0 177px,#0000fd 183px,#0018ff 187px,#0043ff 192px,#0073ff 196px,#00a5ff 199px,#00d2ff 201px,#00efff 202px,#12ffed 203px,#6eff91 206px,#f1ff0e 211px,#fff500 212px,#ffdc00 213px,#ffbd00 214px,#ff5200 217px,#ff1a00 219px,#ff0100 220px,#bf0000 223px,#800000 227px,#800000 249px,#910000 251px,#b70000 254px,#ff0300 258px,#ff5d00 262px,#ff9500 264px,#fff600 267px,#e9ff16 268px,#89ff76 271px,#24ffdb 275px,#0cfff3 276px,#00f3ff 277px,#00a0ff 281px,#005aff 285px,#0027ff 289px,#0000fd 293px,#0000e2 297px,#0000c6 304px,#0000b0 314px,#00009f 329px,#000098 359px,#000094 450px)"></i>
<i style="height:6px;background:linear-gradient(90deg,#000095 0,#00009c 126px,#0000ac 154px,#0000c0 167px,#0000db 176px,#0002ff 184px,#002dff 190px,#0061ff 195px,#008dff 198px,#00b3ff 200px,#00e4ff 202px,#07fff8 203px,#64ff9b 206px,#eaff15 211px,#fffc00 212px,#ffc700 214px,#ff5b00 217px,#ff2100 219px,#ff0700 220px,#ef0000 221px,#c40000 223px,#820000 227px,#820000 250px,#b30000 254px,#d30000 256px,#fc0000 258px,#ff2700 260px,#ff7000 263px,#ffac00 265px,#ffed00 267px,#f2ff0d 268px,#91ff6e 271px,#2affd5 275px,#12ffed 276px,#00f9ff 277px,#00a4ff 281px,#005dff 285px,#0029ff 289px,#00f 293px,#0000e3 297px,#0000c3 305px,#0000a7 320px,#00009a 342px,#000094 450px)"></i>
<i style="height:6px;background:linear-gradient(90deg,#000095 0,#00009c 126px,#0000ac 154px,#0000bf 167px,#0000da 176px,#00f 184px,#002bff 190px,#005dff 195px,#08f 198px,#00acff 200px,#00dbff 202px,#00fbff 203px,#3effc1 205px,#afff50 209px,#fbff04 212px,#ffeb00 213px,#ffd000 214px,#ff6400 217px,#ff2800 219px,#ff0e00 220px,#f40000 221px,#b60000 224px,#860000 227px,#800000 228px,#800000 250px,#af0000 254px,#e10000 257px,#f60000 258px,#ff0c00 259px,#ff6900 263px,#ffa400 265px,#ffe500 267px,#faff05 268px,#98ff67 271px,#48ffb7 274px,#0ff 277px,#00a8ff 281px,#0060ff 285px,#002bff 289px,#0001ff 293px,#0000e4 297px,#0000ca 303px,#0000b2 313px,#0000a0 328px,#009 352px,#000094 450px)"></i>
<i style="height:6px;background:linear-gradient(90deg,#000095 0,#00009c 127px,#0000ac 154px,#0000c1 168px,#0000d9 176px,#0000fe 184px,#0028ff 190px,#005aff 195px,#0083ff 198px,#00a6ff 200px,#00d4ff 202px,#00f1ff 203px,#15ffea 204px,#71ff8e 207px,#f5ff0a 212px,#fff100 213px,#ffd700 214px,#ff9000 216px,#ff4b00 218px,#ff1400 220px,#fa0000 221px,#ba0000 224px,#890000 227px,#800000 228px,#800000 250px,#930000 252px,#ca0000 256px,#f10000 258px,#ff0700 259px,#ff4a00 262px,#ff7e00 264px,#fffc00 268px,#e2ff1d 269px,#9fff60 271px,#4dffb2 274px,#05fffa 277px,#00d6ff 279px,#0086ff 283px,#0054ff 286px,#02f 290px,#0003ff 293px,#0000da 299px,#0000bf 307px,#0000a5 322px,#00009a 344px,#000094 450px)"></i>
<i style="height:6px;background:linear-gradient(90deg,#000095 0,#00009c 127px,#0000ad 156px,#0000c5 170px,#0000e8 180px,#0003ff 185px,#002fff 191px,#0057ff 195px,#007fff 198px,#00b6ff 201px,#00e9ff 203px,#0cfff3 204px,#6aff95 207px,#f0ff0f 212px,#fff600 213px,#fd0 214px,#ffbe00 215px,#ff5200 218px,#ff1900 220px,#f00 221px,#d10000 223px,#8c0000 227px,#800000 228px,#800000 250px,#850000 251px,#b70000 255px,#d90000 257px,#ff0300 259px,#ff5d00 263px,#ff9500 265px,#fff600 268px,#e9ff16 269px,#a5ff5a 271px,#52ffad 274px,#09fff6 277px,#00f0ff 278px,#009cff 282px,#0056ff 286px,#0024ff 290px,#0004ff 293px,#0000f2 295px,#0000d2 301px,#0000b6 311px,#0000a1 327px,#009 349px,#000094 450px)"></i>
<i style="height:7px;background:linear-gradient(90deg,#000095 0,#00009c 127px,#0000ac 155px,#0000c0 168px,#0000db 177px,#0002ff 185px,#0024ff 190px,#0054ff 195px,#007cff 198px,#00b1ff 201px,#00e2ff 203px,#04fffb 204px,#64ff9b 207px,#ebff14 212px,#fffb00 213px,#ffc400 215px,#ff5800 218px,#ff1e00 220px,#ff0400 221px,#d50000 223px,#9f0000 226px,#800000 228px,#800000 250px,#830000 251px,#b40000 255px,#d50000 257px,#fe0000 259px,#ff4000 262px,#ff8f00 265px,#fff000 268px,#efff10 269px,#abff54 271px,#57ffa8 274px,#0dfff2 277px,#00f4ff 278px,#009fff 282px,#0058ff 286px,#001aff 291px,#0006ff 293px,#0000fb 294px,#0000e1 298px,#0000c5 305px,#0000a9 319px,#00009a 340px,#000094 450px)"></i>
<i style="height:6px;background:linear-gradient(90deg,#000095 0,#00009c 127px,#0000ac 155px,#0000c0 168px,#0000de 178px,#0001ff 185px,#002bff 191px,#005dff 196px,#08f 199px,#00c3ff 202px,#0df 203px,#00fdff 204px,#7bff84 208px,#e6ff19 212px,#ff0 213px,#ffca00 215px,#ff5d00 218px,#f20 220px,#ff0800 221px,#ef0000 222px,#c40000 224px,#820000 228px,#810000 251px,#b20000 255px,#e50000 258px,#fa0000 259px,#ff1000 260px,#ff5400 263px,#ff8a00 265px,#ffeb00 268px,#f4ff0b 269px,#91ff6e 272px,#29ffd6 276px,#1fe 277px,#00f8ff 278px,#00a2ff 282px,#005aff 286px,#0027ff 290px,#0007ff 293px,#0000fc 294px,#0000dc 299px,#0000c0 307px,#0000a7 321px,#00009a 341px,#000094 450px)"></i>
<i style="height:6px;background:linear-gradient(90deg,#000095 0,#00009c 127px,#0000ac 155px,#0000c1 169px,#0000e1 179px,#00f 185px,#0029ff 191px,#005bff 196px,#0086ff 199px,#0af 201px,#00d8ff 203px,#00f7ff 204px,#1bffe4 205px,#7f8 208px,#fcff03 213px,#ffea00 214px,#ffcf00 215px,#ff6200 218px,#ff2500 220px,#ff0c00 221px,#f20000 222px,#c60000 224px,#840000 228px,#800000 230px,#800000 251px,#b00000 255px,#cf0000 257px,#f70000 259px,#ff0d00 260px,#ff5100 263px,#ff8600 265px,#ffe700 268px,#f8ff07 269px,#95ff6a 272px,#2cffd3 276px,#00fbff 278px,#00a4ff 282px,#005cff 286px,#0028ff 290px,#0000fd 294px,#0000e2 298px,#0000c5 305px,#0000ab 318px,#00009b 337px,#000094 450px)"></i>
<i style="height:6px;background:linear-gradient(90deg,#000095 0,#00009c 128px,#0000ac 155px,#0000c1 169px,#0000e1 179px,#0000fe 185px,#0028ff 191px,#005aff 196px,#0084ff 199px,#00a7ff 201px,#00d5ff 203px,#00f2ff 204px,#16ffe9 205px,#73ff8c 208px,#f9ff06 213px,#ffed00 214px,#ffd200 215px,#ff4500 219px,#ff0e00 221px,#f50000 222px,#b60000 225px,#850000 228px,#800000 230px,#800000 251px,#a00000 254px,#cd0000 257px,#f50000 259px,#ff0b00 260px,#ff4e00 263px,#ff8300 265px,#ffe300 268px,#fcff03 269px,#9f6 272px,#47ffb8 275px,#00fdff 278px,#00a6ff 282px,#005dff 286px,#0029ff 290px,#0000fe 294px,#0000e2 298px,#0000c6 305px,#0000ae 316px,#00009d 333px,#000096 400px,#000094 450px)"></i>
<i style="height:6px;background:linear-gradient(90deg,#000095 0,#00009c 128px,#0000ac 155px,#0000c1 169px,#0000e0 179px,#0000fd 185px,#001fff 190px,#004dff 195px,#0082ff 199px,#00baff 202px,#00efff 204px,#13ffec 205px,#70ff8f 208px,#df2 212px,#f6ff09 213px,#ffef00 214px,#ffd500 215px,#ff4800 219px,#f10 221px,#f70000 222px,#b70000 225px,#860000 228px,#800000 229px,#800000 251px,#930000 253px,#b00 256px,#f30000 259px,#ff0900 260px,#ff4c00 263px,#ff8000 265px,#ff0 269px,#9bff64 272px,#49ffb6 275px,#0ff 278px,#00a7ff 282px,#005eff 286px,#0029ff 290px,#0000fe 294px,#0000e2 298px,#0000c3 306px,#0000a8 320px,#00009a 341px,#000094 450px)"></i>
<i style="height:6px;background:linear-gradient(90deg,#000095 0,#00009c 128px,#0000ac 155px,#0000bd 167px,#0000d8 177px,#0000fd 185px,#0017ff 189px,#0042ff 194px,#0072ff 198px,#00a3ff 201px,#00d0ff 203px,#00ecff 204px,#10ffef 205px,#8bff74 209px,#f5ff0a 213px,#fff100 214px,#ffd700 215px,#ff4a00 219px,#ff1200 221px,#f80000 222px,#b80000 225px,#870000 228px,#800000 229px,#800000 251px,#920000 253px,#ca0000 257px,#f20000 259px,#ff0800 260px,#ff6300 264px,#ff9d00 266px,#fffd00 269px,#9dff62 272px,#32ffcd 276px,#01fffe 278px,#00a8ff 282px,#005fff 286px,#002aff 290px,#00f 294px,#0000e2 298px,#0000c3 306px,#0000a8 320px,#00009a 341px,#000094 450px)"></i>
<i style="height:6px;background:linear-gradient(90deg,#000095 0,#00009c 128px,#0000ab 155px,#0000bf 168px,#0000d8 177px,#0000fd 185px,#0017ff 189px,#0042ff 194px,#0071ff 198px,#00a3ff 201px,#00cfff 203px,#00ebff 204px,#0efff1 205px,#6dff92 208px,#f4ff0b 213px,#fff200 214px,#ffd800 215px,#ff9100 217px,#ff4b00 219px,#ff1300 221px,#f90000 222px,#b90000 225px,#800 228px,#800000 229px,#800000 251px,#860000 252px,#ba0000 256px,#dc0000 258px,#f10000 259px,#ff0700 260px,#ff6200 264px,#ff9b00 266px,#fffc00 269px,#81ff7e 273px,#02fffd 278px,#0095ff 283px,#0050ff 287px,#0014ff 292px,#00f 294px,#0000e3 298px,#0000c9 304px,#0000b0 315px,#00009f 330px,#000098 360px,#000094 450px)"></i>
<i style="height:6px;background:linear-gradient(90deg,#000095 0,#00009c 128px,#0000ac 156px,#0000c3 170px,#0000e0 179px,#0000fd 185px,#0010ff 188px,#0038ff 193px,#0063ff 197px,#00a2ff 201px,#00cfff 203px,#00eaff 204px,#0efff1 205px,#6dff92 208px,#daff25 212px,#f3ff0c 213px,#fff200 214px,#ffd800 215px,#ff9100 217px,#ff4b00 219px,#ff1300 221px,#fa0000 222px,#c00 224px,#800 228px,#800000 229px,#800000 251px,#910000 253px,#b90000 256px,#f10000 259px,#ff0700 260px,#ff6200 264px,#ff9b00 266px,#fffc00 269px,#e2ff1d 270px,#9eff61 272px,#3fc 276px,#02fffd 278px,#0095ff 283px,#005fff 286px,#002aff 290px,#00f 294px,#0000e3 298px,#0000c3 306px,#0000a8 320px,#00009a 341px,#000094 450px)"></i>
</div>
<div class="hm" style="left:1456px;top:1064px;width:450px;height:385px">
<i style="height:6px;background:linear-gradient(90deg,#00009b 0,#0000a3 85px,#0000ad 101px,#0000c6 118px,#0000df 126px,#0002ff 134px,#002cff 141px,#0059ff 146px,#0092ff 150px,#00b7ff 152px,#00eaff 154px,#0bfff4 155px,#36ffc9 157px,#d4ff2b 165px,#fbff04 167px,#ffdf00 169px,#ff5200 178px,#ff1400 182px,#f00 183px,#d00 185px,#800 192px,#800000 193px,#820000 216px,#9b0000 220px,#a00000 221px,#b10000 222px,#ff0300 223px,#ff1200 224px,#ff1900 225px,#ff2600 226px,#ff5100 228px,#ff6f00 229px,#ff9b00 230px,#ffe000 232px,#fff900 233px,#f0ff0f 234px,#1affe5 245px,#00feff 247px,#008dff 257px,#004cff 264px,#001bff 271px,#0000fe 276px,#0000d2 287px,#0000b6 299px,#0000a4 312px,#00009a 337px,#000095 450px)"></i>
<i style="height:7px;background:linear-gradient(90deg,#00009b 0,#0000a3 86px,#0000b0 105px,#0000cb 121px,#0000e8 129px,#0002ff 135px,#002cff 142px,#004fff 146px,#0082ff 150px,#00b8ff 153px,#00ceff 154px,#00ebff 155px,#0cfff3 156px,#36ffc9 158px,#84ff7b 162px,#fcff03 168px,#ff9c00 174px,#f20 182px,#fc0000 184px,#db0000 186px,#900000 192px,#800000 194px,#800000 216px,#900 220px,#a30000 222px,#e60000 223px,#ff0700 224px,#ff2700 227px,#ff5200 229px,#ff7000 230px,#ff9b00 231px,#ffe000 233px,#fff900 234px,#f0ff0f 235px,#1affe5 246px,#00feff 248px,#0081ff 259px,#004bff 265px,#0013ff 273px,#0000fd 277px,#0000d1 288px,#0000b3 301px,#0000a1 317px,#009 344px,#000095 450px)"></i>
<i style="height:6px;background:linear-gradient(90deg,#00009b 0,#0000a3 87px,#0000b0 106px,#0000cb 122px,#0000e8 130px,#0003ff 136px,#0025ff 142px,#005aff 148px,#0093ff 152px,#00b8ff 154px,#00ebff 156px,#0cfff3 157px,#37ffc8 159px,#85ff7a 163px,#fdff02 169px,#ff7c00 177px,#ff2000 183px,#ff0d00 184px,#f80000 185px,#cb0000 188px,#8e0000 193px,#800000 195px,#810000 217px,#9a0000 221px,#9d0000 222px,#a60000 223px,#e00 224px,#ff0a00 225px,#ff1a00 227px,#ff2700 228px,#ff5200 230px,#ff7000 231px,#ff9b00 232px,#ffdf00 234px,#fff800 235px,#f1ff0e 236px,#1affe5 247px,#00fdff 249px,#0080ff 260px,#0049ff 266px,#0012ff 274px,#0000fc 278px,#0000d0 289px,#0000b1 303px,#0000a2 317px,#00009a 340px,#000095 450px)"></i>
<i style="height:6px;background:linear-gradient(90deg,#00009a 0,#0000a4 92px,#0000b4 110px,#0000ce 124px,#0000f0 133px,#0003ff 137px,#002dff 144px,#005aff 149px,#0093ff 153px,#00cfff 156px,#00ebff 157px,#0cfff3 158px,#36ffc9 160px,#feff01 170px,#ff7a00 178px,#ff1d00 184px,#ff0a00 185px,#f50000 186px,#c90000 189px,#8c0000 194px,#830000 195px,#800000 201px,#800000 217px,#900000 220px,#9f0000 223px,#a90000 224px,#f40000 225px,#ff0c00 226px,#ff1b00 228px,#ff2800 229px,#ff5200 231px,#ff7000 232px,#ff9a00 233px,#ffde00 235px,#fff700 236px,#f2ff0d 237px,#1affe5 248px,#00fdff 250px,#007fff 261px,#0048ff 267px,#01f 275px,#0001ff 278px,#0000cf 290px,#0000af 305px,#0000a0 320px,#009 348px,#000095 450px)"></i>
<i style="height:7px;background:linear-gradient(90deg,#00009a 0,#0000a4 93px,#0000b5 112px,#0000d1 126px,#0000fd 137px,#001fff 143px,#0046ff 148px,#0067ff 151px,#0093ff 154px,#00b8ff 156px,#00eaff 158px,#0bfff4 159px,#36ffc9 161px,#85ff7a 165px,#ff0 171px,#f90 177px,#ff1b00 185px,#ff0700 186px,#f30000 187px,#c70000 190px,#8a0000 195px,#810000 196px,#800000 218px,#900 222px,#a10000 224px,#ad0000 225px,#f80000 226px,#ff0d00 227px,#ff1b00 229px,#ff2800 230px,#ff5200 232px,#ff6e00 233px,#ff9800 234px,#ffdc00 236px,#fff600 237px,#f3ff0c 238px,#1affe5 249px,#00fdff 251px,#0089ff 261px,#004fff 267px,#0010ff 276px,#00f 279px,#0000d5 289px,#0000b7 301px,#0000a3 316px,#009 344px,#000096 450px)"></i>
<i style="height:6px;background:linear-gradient(90deg,#00009a 0,#0000a4 94px,#0000b5 113px,#0000ce 126px,#0000f0 135px,#0003ff 139px,#002dff 146px,#005aff 151px,#0093ff 155px,#00b8ff 157px,#00e9ff 159px,#0afff5 160px,#35ffca 162px,#aeff51 168px,#ff0 172px,#ffa800 177px,#ff1900 186px,#ff0500 187px,#e00000 189px,#920000 195px,#800000 197px,#820000 219px,#9d0000 224px,#a20000 225px,#b00000 226px,#fc0000 227px,#ff0e00 228px,#ff1b00 230px,#ff2700 231px,#ff5100 233px,#ff6d00 234px,#ffba00 236px,#ffda00 237px,#fff400 238px,#f4ff0b 239px,#1bffe4 250px,#00feff 252px,#007dff 263px,#0046ff 269px,#000fff 277px,#0000fe 280px,#0000d4 290px,#0000b7 302px,#0000a3 317px,#00009a 341px,#000096 450px)"></i>
<i style="height:6px;background:linear-gradient(90deg,#00009a 0,#0000a4 96px,#0000b8 116px,#0000ce 127px,#0000f0 136px,#0003ff 140px,#002dff 147px,#005aff 152px,#0093ff 156px,#00b7ff 158px,#00e8ff 160px,#08fff7 161px,#34ffcb 163px,#9f6 168px,#ff0 173px,#ff9700 179px,#ff2900 186px,#ff0200 188px,#d00000 191px,#900000 196px,#800000 198px,#800000 219px,#a50000 226px,#b30000 227px,#fc0000 228px,#ff0e00 229px,#ff1b00 231px,#ff2700 232px,#ff5000 234px,#ff6b00 235px,#ffb700 237px,#fff200 239px,#f6ff09 240px,#1cffe3 251px,#00feff 253px,#0087ff 263px,#004eff 269px,#0014ff 277px,#0000fd 281px,#0000cd 293px,#0000b1 306px,#0000a2 320px,#00009a 343px,#000096 450px)"></i>
<i style="height:6px;background:linear-gradient(90deg,#00009a 0,#0000a4 97px,#0000b8 117px,#0000ce 128px,#0000f4 138px,#0003ff 141px,#002dff 148px,#005aff 153px,#0082ff 156px,#00b6ff 159px,#00e6ff 161px,#06fff9 162px,#3fc 164px,#98ff67 169px,#ff0 174px,#ff8600 181px,#ff2700 187px,#f00 189px,#dc0000 191px,#900 196px,#800000 199px,#800000 220px,#a80000 227px,#b60000 228px,#f90000 229px,#ff0b00 230px,#ff1a00 232px,#ff2600 233px,#ff4e00 235px,#ff6900 236px,#ffb400 238px,#ffef00 240px,#f8ff07 241px,#58ffa7 249px,#1dffe2 252px,#0ff 254px,#0087ff 264px,#004dff 270px,#001aff 277px,#0000fd 282px,#0000d3 292px,#0000b6 304px,#0000a4 318px,#00009a 341px,#000096 450px)"></i>
<i style="height:7px;background:linear-gradient(90deg,#00009a 0,#0000a3 94px,#0000b1 113px,#0000cb 128px,#0000e8 136px,#0003ff 142px,#002dff 149px,#0059ff 154px,#0091ff 158px,#00caff 161px,#04fffb 163px,#31ffce 165px,#feff01 175px,#ff7500 183px,#ff2600 188px,#fd0000 190px,#da0000 192px,#980000 197px,#840000 199px,#800000 201px,#820000 221px,#a00 228px,#b00 229px,#f70000 230px,#ff0800 231px,#ff2500 234px,#ff4d00 236px,#ff6700 237px,#ffb100 239px,#ffed00 241px,#faff05 242px,#1fffe0 253px,#0ff 255px,#0086ff 265px,#004cff 271px,#0013ff 279px,#0002ff 282px,#0000cf 294px,#0000b0 308px,#0000a0 324px,#009 352px,#000096 450px)"></i>
<i style="height:6px;background:linear-gradient(90deg,#00009a 0,#0000a3 95px,#0000b0 113px,#0000c8 128px,#0000e3 136px,#0000fd 142px,#0012ff 146px,#003cff 152px,#0065ff 156px,#00a1ff 160px,#00c9ff 162px,#01fffe 164px,#30ffcf 166px,#81ff7e 170px,#feff01 176px,#ff8500 183px,#ff2500 189px,#fb0000 191px,#d90000 193px,#960000 198px,#830000 200px,#800000 206px,#800000 221px,#ad0000 229px,#c20000 230px,#f50000 231px,#ff0600 232px,#ff2400 235px,#ff4b00 237px,#ff6400 238px,#ffad00 240px,#ffea00 242px,#fdff02 243px,#5cffa3 251px,#20ffdf 254px,#01fffe 256px,#007bff 267px,#0043ff 273px,#000cff 281px,#0001ff 283px,#0000d2 294px,#0000b3 307px,#0000a1 323px,#009 350px,#000096 450px)"></i>
<i style="height:6px;background:linear-gradient(90deg,#00009a 0,#0000a3 96px,#0000b0 114px,#0000c8 129px,#0000e3 137px,#0002ff 144px,#002cff 151px,#0058ff 156px,#008fff 160px,#00c7ff 163px,#00dfff 164px,#00fdff 165px,#2effd1 167px,#7fff80 171px,#fdff02 177px,#ff7400 185px,#ff2300 190px,#ff0f00 191px,#f90000 192px,#d70000 194px,#950000 199px,#820000 201px,#810000 222px,#a60000 229px,#af0000 230px,#c60000 231px,#f30000 232px,#ff0400 233px,#ff2300 236px,#ff4900 238px,#ff6200 239px,#ffca00 242px,#fffe00 244px,#2fd 255px,#03fffc 257px,#00b6ff 263px,#0071ff 269px,#003bff 275px,#0006ff 283px,#0000fb 285px,#0000d1 295px,#0000b3 308px,#0000a3 321px,#00009a 345px,#000096 450px)"></i>
<i style="height:7px;background:linear-gradient(90deg,#00009a 0,#0000a3 97px,#0000b0 115px,#0000c8 130px,#0000de 137px,#0002ff 145px,#002cff 152px,#0058ff 157px,#007fff 160px,#00b1ff 163px,#0df 165px,#00faff 166px,#2cffd3 168px,#93ff6c 173px,#fcff03 178px,#ff9500 184px,#f20 191px,#ff0d00 192px,#f70000 193px,#d60000 195px,#930000 200px,#810000 202px,#800000 222px,#a80000 230px,#b10000 231px,#c80000 232px,#f10000 233px,#ff0200 234px,#f20 237px,#ff4700 239px,#ff5f00 240px,#ff7f00 241px,#ffc600 243px,#fffb00 245px,#d8ff27 247px,#12ffed 257px,#04fffb 258px,#00e9ff 260px,#0086ff 268px,#0053ff 273px,#0017ff 281px,#00f 285px,#0000d4 295px,#0000b6 307px,#0000a4 321px,#00009a 344px,#000096 450px)"></i>
<i style="height:6px;background:linear-gradient(90deg,#00009a 0,#0000a3 98px,#0000b0 116px,#0000c8 131px,#0000e2 139px,#0002ff 146px,#002bff 153px,#0057ff 158px,#007dff 161px,#00afff 164px,#00daff 166px,#00f7ff 167px,#14ffeb 168px,#fbff04 179px,#ffdc00 181px,#ff5300 189px,#ff2100 192px,#ff0c00 193px,#f60000 194px,#c70000 197px,#920000 201px,#810000 203px,#800000 223px,#a00 231px,#b20000 232px,#ca0000 233px,#ef0000 234px,#f00 235px,#ff2100 238px,#ff4500 240px,#ff5c00 241px,#ff7a00 242px,#ffa100 243px,#ffdf00 245px,#fff800 246px,#f0ff0f 247px,#26ffd9 257px,#05fffa 259px,#00eaff 261px,#0086ff 269px,#004aff 275px,#0010ff 283px,#0000fe 286px,#0000d0 297px,#0000b2 310px,#0000a2 324px,#009 351px,#000096 450px)"></i>
<i style="height:6px;background:linear-gradient(90deg,#00009a 0,#0000a3 99px,#0000ae 115px,#0000c6 131px,#0000da 138px,#0002ff 147px,#0024ff 153px,#004cff 158px,#006eff 161px,#00adff 165px,#00d7ff 167px,#00f4ff 168px,#1fe 169px,#faff05 180px,#fd0 182px,#ff6300 189px,#ff2000 193px,#ff0a00 194px,#f40000 195px,#d30000 197px,#9b0000 201px,#800000 204px,#810000 224px,#ab0000 232px,#b40000 233px,#cb0000 234px,#ed0000 235px,#fe0000 236px,#ff2000 239px,#ff4300 241px,#ff7600 243px,#ffbd00 245px,#fff400 247px,#f3ff0c 248px,#28ffd7 258px,#06fff9 260px,#00f8ff 261px,#0086ff 270px,#0052ff 275px,#0016ff 283px,#0000fe 287px,#0000d3 297px,#0000b6 309px,#0000a3 323px,#009 351px,#000096 450px)"></i>
<i style="height:7px;background:linear-gradient(90deg,#00009a 0,#0000a3 100px,#0000ae 116px,#0000c5 132px,#00d 140px,#0001ff 148px,#002bff 155px,#05f 160px,#008aff 164px,#00bfff 167px,#00d5ff 168px,#00f1ff 169px,#0efff1 170px,#baff45 178px,#f9ff06 181px,#fff100 182px,#ff7300 189px,#ff1e00 194px,#ff0900 195px,#f20000 196px,#a70000 201px,#860000 204px,#800000 205px,#800000 224px,#ad0000 233px,#b50000 234px,#cb0000 235px,#ec0000 236px,#fc0000 237px,#ff1f00 240px,#ff4100 242px,#ff7200 244px,#ffb900 246px,#fff100 248px,#f6ff09 249px,#2bffd4 259px,#08fff7 261px,#00f9ff 262px,#0091ff 270px,#0052ff 276px,#0015ff 284px,#0000fd 288px,#0000d2 298px,#0000b3 311px,#0000a1 327px,#009 354px,#000096 450px)"></i>
<i style="height:6px;background:linear-gradient(90deg,#00009a 0,#0000a2 96px,#0000ab 114px,#0000bf 130px,#0000d5 139px,#0001ff 149px,#002aff 156px,#05f 161px,#007aff 164px,#0af 167px,#00d3ff 169px,#00edff 170px,#0bfff4 171px,#f8ff07 182px,#fff200 183px,#ff8400 189px,#ff3100 194px,#ff0700 196px,#f10000 197px,#a50000 202px,#850000 205px,#800000 207px,#800000 225px,#ae0000 234px,#b70000 235px,#c00 236px,#ea0000 237px,#fa0000 238px,#ff1200 240px,#ff2d00 242px,#f50 244px,#ff6e00 245px,#ffb400 247px,#ffed00 249px,#faff05 250px,#7dff82 256px,#1affe5 261px,#0afff5 262px,#00faff 263px,#0086ff 272px,#0052ff 277px,#02f 283px,#0003ff 288px,#0000e5 294px,#0000c6 303px,#00a 318px,#00009d 336px,#000097 396px,#000096 450px)"></i>
<i style="height:6px;background:linear-gradient(90deg,#00009a 0,#0000a2 98px,#0000ab 115px,#0000bf 131px,#0000d5 140px,#0001ff 150px,#0023ff 156px,#004aff 161px,#0079ff 165px,#00a8ff 168px,#00d0ff 170px,#00eaff 171px,#08fff7 172px,#34ffcb 174px,#8aff75 178px,#f7ff08 183px,#fff300 184px,#ff7300 191px,#ff3000 195px,#ff0500 197px,#de0000 199px,#970000 204px,#840000 206px,#800000 208px,#820000 226px,#b00000 235px,#b80000 236px,#cd0000 237px,#e90000 238px,#f90000 239px,#ff0600 240px,#ff2c00 243px,#ff5200 245px,#ff6b00 246px,#ffb000 248px,#ffe900 250px,#fdff02 251px,#58ffa7 259px,#0bfff4 263px,#00fcff 264px,#0086ff 273px,#0048ff 279px,#0014ff 286px,#0002ff 289px,#0000ce 301px,#0000af 315px,#0000a1 329px,#009 355px,#000096 450px)"></i>
<i style="height:7px;background:linear-gradient(90deg,#00009a 0,#0000a2 99px,#0000ab 117px,#0000c1 133px,#0000d8 142px,#00f 151px,#0030ff 159px,#0053ff 163px,#0086ff 167px,#00b9ff 170px,#00e7ff 172px,#05fffa 173px,#f6ff09 184px,#fff400 185px,#ff8400 191px,#ff2f00 196px,#ff0400 198px,#d00 200px,#960000 205px,#840000 207px,#800000 209px,#800000 226px,#b10000 236px,#ba0000 237px,#cd0000 238px,#e80000 239px,#f80000 240px,#ff0500 241px,#ff2a00 244px,#ff5000 246px,#ff6800 247px,#ffac00 249px,#ffe500 251px,#fffe00 252px,#5bffa4 260px,#0dfff2 264px,#00fdff 265px,#0092ff 273px,#005aff 278px,#0028ff 284px,#0002ff 290px,#0000d1 301px,#0000b4 313px,#0000a2 328px,#009 355px,#000096 450px)"></i>
<i style="height:6px;background:linear-gradient(90deg,#009 0,#0000a3 105px,#0000b0 123px,#0000c9 138px,#0000e0 145px,#00f 152px,#0029ff 159px,#0052ff 164px,#0085ff 168px,#00b7ff 171px,#00e4ff 173px,#02fffd 174px,#f5ff0a 185px,#fff500 186px,#ff8400 192px,#ff2e00 197px,#ff0200 199px,#db0000 201px,#940000 206px,#830000 208px,#800000 214px,#810000 227px,#b20000 237px,#b00 238px,#ce0000 239px,#e70000 240px,#f60000 241px,#ff0400 242px,#ff2900 245px,#ff4e00 247px,#ff6500 248px,#ffc600 251px,#fffa00 253px,#d8ff27 255px,#20ffdf 264px,#00feff 266px,#0092ff 274px,#0050ff 280px,#0019ff 287px,#0001ff 291px,#0000d0 302px,#0000b2 315px,#0000a1 330px,#009 358px,#000096 450px)"></i>
<i style="height:6px;background:linear-gradient(90deg,#009 0,#0000a3 106px,#0000b1 125px,#0000cb 140px,#0000f1 150px,#00f 153px,#0028ff 160px,#0052ff 165px,#0075ff 168px,#00a3ff 171px,#00caff 173px,#00feff 175px,#f3ff0c 186px,#fff600 187px,#ff8400 193px,#ff2d00 198px,#f00 200px,#da0000 202px,#9e0000 206px,#820000 209px,#820000 228px,#b40000 238px,#bc0000 239px,#ce0000 240px,#e60000 241px,#ff0300 243px,#ff2800 246px,#ff4c00 248px,#ff6300 249px,#ff8000 250px,#ffa400 251px,#ffde00 253px,#fff700 254px,#f0ff0f 255px,#2fd 265px,#01fffe 267px,#0085ff 276px,#0050ff 281px,#001fff 287px,#00f 292px,#0000d3 302px,#0000b5 314px,#0000a3 328px,#00009a 352px,#000096 450px)"></i>
<i style="height:7px;background:linear-gradient(90deg,#009 0,#0000a3 107px,#0000b0 125px,#0000c9 140px,#0000e4 148px,#00f 154px,#0028ff 161px,#0051ff 166px,#0075ff 169px,#00b4ff 173px,#00dfff 175px,#00fbff 176px,#2bffd4 178px,#9aff65 183px,#f3ff0c 187px,#fff700 188px,#ff8400 194px,#ff2c00 199px,#fd0000 201px,#d90000 203px,#9d0000 207px,#800 209px,#800000 211px,#800000 228px,#b50000 239px,#bd0000 240px,#e50000 242px,#ff0200 244px,#ff2700 247px,#ff4a00 249px,#ff6000 250px,#ff7c00 251px,#ffa000 252px,#fff400 255px,#f3ff0c 256px,#24ffdb 266px,#02fffd 268px,#0085ff 277px,#0046ff 283px,#000bff 291px,#00f 293px,#0000d2 303px,#0000b1 317px,#0000a1 332px,#009 359px,#000096 450px)"></i>
<i style="height:6px;background:linear-gradient(90deg,#009 0,#0000a3 108px,#0000b0 126px,#0000c6 140px,#0000e0 148px,#0000fe 155px,#0028ff 162px,#0051ff 167px,#0082ff 171px,#00b3ff 174px,#0df 176px,#00f8ff 177px,#13ffec 178px,#98ff67 184px,#f2ff0d 188px,#fff700 189px,#ff8300 195px,#ff2a00 200px,#fb0000 202px,#d70000 204px,#9b0000 208px,#870000 210px,#800000 212px,#810000 229px,#b60000 240px,#bf0000 241px,#f40000 244px,#ff0100 245px,#ff2600 248px,#ff4900 250px,#ff5e00 251px,#ff7900 252px,#fb0 254px,#fff000 256px,#f6ff09 257px,#78ff87 263px,#13ffec 268px,#03fffc 269px,#00caff 273px,#0085ff 278px,#004fff 283px,#0017ff 290px,#0000fe 294px,#0000d5 303px,#0000b6 315px,#0000a4 329px,#00009a 352px,#000096 450px)"></i>
<i style="height:6px;background:linear-gradient(90deg,#009 0,#0000a3 109px,#0000b0 127px,#0000c8 142px,#0000e4 150px,#0000fe 156px,#0027ff 163px,#005aff 169px,#0090ff 173px,#00c5ff 176px,#00f6ff 178px,#1fe 179px,#97ff68 185px,#f1ff0e 189px,#fff800 190px,#ff8300 196px,#ff2900 201px,#ff1200 202px,#f90000 203px,#d50000 205px,#900 209px,#800000 212px,#800000 229px,#b10000 240px,#c00000 242px,#f30000 245px,#f00 246px,#ff2500 249px,#ff4700 251px,#ff7600 253px,#ffb800 255px,#ffed00 257px,#f9ff06 258px,#6f9 265px,#15ffea 269px,#04fffb 270px,#00e6ff 272px,#0085ff 279px,#004eff 284px,#0016ff 291px,#0000fd 295px,#0000d1 305px,#0000b2 318px,#0000a2 332px,#009 359px,#000096 450px)"></i>
<i style="height:6px;background:linear-gradient(90deg,#009 0,#0000a2 105px,#0000ab 123px,#0000c0 139px,#0000d7 148px,#0000fe 157px,#0021ff 163px,#0047ff 168px,#0072ff 172px,#00b0ff 176px,#00d9ff 178px,#00f4ff 179px,#0ffff0 180px,#96ff69 186px,#f1ff0e 190px,#fff800 191px,#ff8200 197px,#ff2700 202px,#ff0f00 203px,#f60000 204px,#b40000 208px,#980000 210px,#850000 212px,#800000 214px,#800000 230px,#b90000 242px,#c20000 243px,#f20000 246px,#f00 247px,#ff2400 250px,#ff4600 252px,#ff7400 254px,#ffb500 256px,#ffeb00 258px,#fcff03 259px,#67ff98 266px,#16ffe9 270px,#06fff9 271px,#00f5ff 272px,#0084ff 280px,#004dff 285px,#001dff 291px,#0003ff 295px,#0000e4 301px,#0000c5 310px,#0000a9 325px,#00009b 347px,#000096 450px)"></i>
<i style="height:7px;background:linear-gradient(90deg,#009 0,#0000a2 106px,#0000ab 124px,#0000c0 140px,#0000d7 149px,#0000fe 158px,#0020ff 164px,#004fff 170px,#0080ff 174px,#00afff 177px,#00d8ff 179px,#00f2ff 180px,#0dfff2 181px,#95ff6a 187px,#f0ff0f 191px,#fff800 192px,#ff8100 198px,#ff2500 203px,#ff0c00 204px,#f40000 205px,#b20000 209px,#960000 211px,#850000 213px,#800000 215px,#820000 231px,#b40000 242px,#c40000 244px,#f20000 247px,#fe0000 248px,#f30 252px,#ff5a00 254px,#ff7200 255px,#ffb200 257px,#ffe800 259px,#feff01 260px,#7dff82 266px,#18ffe7 271px,#06fff9 272px,#00f6ff 273px,#0091ff 280px,#0056ff 285px,#0023ff 291px,#0002ff 296px,#0000d0 307px,#0000b3 319px,#0000a3 332px,#00009a 356px,#000096 450px)"></i>
<i style="height:6px;background:linear-gradient(90deg,#009 0,#0000a2 108px,#0000ab 125px,#0000c0 141px,#0000d7 150px,#0000fe 159px,#0020ff 165px,#004fff 171px,#007fff 175px,#00afff 178px,#00d7ff 180px,#00f1ff 181px,#0cfff3 182px,#95ff6a 188px,#f0ff0f 192px,#fff800 193px,#ff8000 199px,#f20 204px,#ff0900 205px,#f10000 206px,#a00000 211px,#8b0000 213px,#800000 215px,#800000 231px,#b50000 243px,#c50000 245px,#fe0000 249px,#f30 253px,#ff5900 255px,#ff7000 256px,#ffb000 258px,#fffe00 261px,#6aff95 268px,#19ffe6 272px,#07fff8 273px,#00f6ff 274px,#0083ff 282px,#004cff 287px,#001bff 293px,#0001ff 297px,#0000cf 308px,#0000b1 321px,#0000a2 335px,#00009a 357px,#000096 450px)"></i>
<i style="height:6px;background:linear-gradient(90deg,#009 0,#0000a2 109px,#0000ab 126px,#0000c0 142px,#0000d7 151px,#0000fe 160px,#0021ff 166px,#004fff 172px,#007fff 176px,#00aeff 179px,#00d6ff 181px,#00efff 182px,#0bfff4 183px,#95ff6a 189px,#f1ff0e 193px,#fff800 194px,#ff7f00 200px,#ff3500 204px,#ff0600 206px,#e00 207px,#9d0000 212px,#890000 214px,#800000 216px,#810000 232px,#bd0000 245px,#d50000 247px,#fe0000 250px,#ff2400 253px,#f40 255px,#ff6f00 257px,#ffaf00 259px,#fffc00 262px,#80ff7f 268px,#19ffe6 273px,#08fff7 274px,#00f7ff 275px,#0082ff 283px,#004bff 288px,#001aff 294px,#00f 298px,#0000d2 308px,#0000b4 320px,#0000a2 335px,#009 362px,#000096 450px)"></i>
<i style="height:7px;background:linear-gradient(90deg,#009 0,#0000a2 110px,#0000ab 127px,#0000c0 143px,#0000d7 152px,#0000fe 161px,#0027ff 168px,#0059ff 174px,#008eff 178px,#00c1ff 181px,#00efff 183px,#0afff5 184px,#95ff6a 190px,#f1ff0e 194px,#fff700 195px,#ff7d00 201px,#f30 205px,#ff0200 207px,#ca0000 210px,#a80000 212px,#900000 214px,#820000 216px,#800000 232px,#b80000 245px,#c90000 247px,#fe0000 251px,#f30 255px,#ff5800 257px,#ff6f00 258px,#ffc900 261px,#fffb00 263px,#d6ff29 265px,#1affe5 274px,#08fff7 275px,#00f7ff 276px,#0081ff 284px,#004aff 289px,#0019ff 295px,#0000fe 299px,#0000d1 309px,#0000b4 321px,#0000a3 335px,#009 361px,#000096 450px)"></i>
<i style="height:6px;background:linear-gradient(90deg,#009 0,#0000a2 111px,#0000ab 128px,#0000c0 144px,#0000d7 153px,#0000fe 162px,#0028ff 169px,#0050ff 174px,#007fff 178px,#00aeff 181px,#00d6ff 183px,#00efff 184px,#0afff5 185px,#95ff6a 191px,#f2ff0d 195px,#fff600 196px,#ff7b00 202px,#ff3000 206px,#fd0000 208px,#d70000 210px,#a50000 213px,#8e0000 215px,#810000 217px,#800000 233px,#ba0000 246px,#cb0000 248px,#fe0000 252px,#f30 256px,#ff5800 258px,#ff6e00 259px,#ffad00 261px,#fffa00 264px,#d6ff29 266px,#1affe5 275px,#08fff7 276px,#00f7ff 277px,#008dff 284px,#005cff 288px,#0026ff 294px,#0004ff 299px,#0000f8 301px,#0000d0 310px,#0000b3 322px,#0000a3 335px,#00009a 359px,#000096 450px)"></i>
<i style="height:6px;background:linear-gradient(90deg,#009 0,#0000a2 112px,#0000ab 129px,#0000c0 145px,#0000d7 154px,#0000fe 163px,#0028ff 170px,#0050ff 175px,#0080ff 179px,#00c1ff 183px,#00efff 185px,#0afff5 186px,#96ff69 192px,#f4ff0b 196px,#fff500 197px,#ff8c00 202px,#ff2c00 207px,#ff1300 208px,#f90000 209px,#d40000 211px,#a20000 214px,#8c0000 216px,#800000 218px,#820000 234px,#b00 247px,#cd0000 249px,#f00 253px,#f30 257px,#ff5800 259px,#ff6f00 260px,#ffc700 263px,#fff900 265px,#edff12 266px,#58ffa7 273px,#08fff7 277px,#00f7ff 278px,#008cff 285px,#0050ff 290px,#0016ff 297px,#0000fc 301px,#0000cf 311px,#0000b1 324px,#0000a2 338px,#009 363px,#000096 450px)"></i>
<i style="height:7px;background:linear-gradient(90deg,#009 0,#0000a2 113px,#0000ab 130px,#0000c0 146px,#0000d7 155px,#00f 164px,#0028ff 171px,#0051ff 176px,#0073ff 179px,#00afff 183px,#00d7ff 185px,#00f0ff 186px,#0afff5 187px,#97ff68 193px,#f5ff0a 197px,#fff300 198px,#ff7600 204px,#ff2800 208px,#ff0e00 209px,#f40000 210px,#9f0000 215px,#840000 218px,#800000 220px,#800000 234px,#bd0000 248px,#cf0000 250px,#f00 254px,#ff3400 258px,#ff5900 260px,#ff6f00 261px,#ffad00 263px,#fff900 266px,#edff12 267px,#43ffbc 275px,#07fff8 278px,#00f6ff 279px,#008aff 286px,#0059ff 290px,#0023ff 296px,#0002ff 301px,#0000d2 311px,#0000b4 323px,#0000a3 337px,#009 363px,#000096 450px)"></i>
<i style="height:6px;background:linear-gradient(90deg,#009 0,#0000a2 114px,#0000ab 131px,#0000c0 147px,#0000d8 156px,#00f 165px,#0030ff 173px,#005cff 178px,#0090ff 182px,#00c3ff 185px,#00f1ff 187px,#0bfff4 188px,#9f6 194px,#f7ff08 198px,#fff100 199px,#ff8700 204px,#ff3a00 208px,#ff0900 210px,#f00000 211px,#a00 215px,#910000 217px,#830000 219px,#800000 225px,#820000 235px,#bf0000 249px,#d10000 251px,#ff0100 255px,#ff3500 259px,#ff5a00 261px,#ff7000 262px,#ffc800 265px,#fff900 267px,#edff12 268px,#6cff93 274px,#07fff8 279px,#00f5ff 280px,#08f 287px,#0057ff 291px,#02f 297px,#00f 302px,#0000d8 310px,#0000b7 322px,#0000a3 337px,#00009a 361px,#000096 450px)"></i>
<i style="height:6px;background:linear-gradient(90deg,#009 0,#0000a2 115px,#0000ab 132px,#0000c2 149px,#0000d8 157px,#0001ff 166px,#0031ff 174px,#0052ff 178px,#0083ff 182px,#00b2ff 185px,#00daff 187px,#00f3ff 188px,#0dfff2 189px,#83ff7c 194px,#e4ff1b 198px,#faff05 199px,#ffd800 201px,#ff6f00 206px,#ff3600 209px,#ff0300 211px,#a50000 216px,#870000 219px,#800000 221px,#800000 235px,#b00 249px,#d30000 252px,#ff0200 256px,#ff3700 260px,#ff5b00 262px,#ff7200 263px,#ffaf00 265px,#fffa00 268px,#d5ff2a 270px,#18ffe7 279px,#05fffa 280px,#00e4ff 282px,#0086ff 288px,#05f 292px,#0020ff 298px,#0000fe 303px,#0000d7 311px,#00b 321px,#0000a4 336px,#00009a 361px,#000096 450px)"></i>
<i style="height:7px;background:linear-gradient(90deg,#009 0,#0000a2 115px,#0000ab 133px,#0000c2 150px,#0000d8 158px,#0001ff 167px,#002bff 174px,#0053ff 179px,#0084ff 183px,#00b4ff 186px,#00dcff 188px,#00f5ff 189px,#0ffff0 190px,#86ff79 195px,#e7ff18 199px,#fdff02 200px,#ff6c00 207px,#ff3100 210px,#fc0000 212px,#d50000 214px,#a10000 217px,#8c0000 219px,#800000 221px,#820000 236px,#bd0000 250px,#d50000 253px,#f80000 256px,#ff0400 257px,#ff3800 261px,#ff5d00 263px,#ff7400 264px,#ffb100 266px,#fffc00 269px,#7dff82 275px,#04fffb 281px,#00e2ff 283px,#0091ff 288px,#0053ff 293px,#001eff 299px,#0003ff 303px,#0000e3 309px,#0000c6 317px,#0000ac 330px,#00009e 347px,#000098 387px,#000096 450px)"></i>
<i style="height:6px;background:linear-gradient(90deg,#009 0,#0000a2 116px,#0000ab 134px,#0000c1 150px,#0000d5 158px,#0002ff 168px,#002cff 175px,#05f 180px,#0086ff 184px,#00c9ff 188px,#00f8ff 190px,#1fe 191px,#a2ff5d 197px,#fffe00 201px,#ff9000 206px,#ff2b00 211px,#ff1000 212px,#f50000 213px,#ac0000 217px,#920000 219px,#800000 222px,#800000 236px,#bf0000 251px,#cd0000 253px,#f90000 257px,#ff0500 258px,#ff3b00 262px,#ff6000 264px,#f70 265px,#ffb300 267px,#fffd00 270px,#67ff98 277px,#02fffd 282px,#0081ff 290px,#0051ff 294px,#001cff 300px,#0001ff 304px,#0000d1 314px,#0000b4 326px,#0000a3 339px,#009 366px,#000096 450px)"></i>
<i style="height:6px;background:linear-gradient(90deg,#000098 0,#0000a2 117px,#0000ab 135px,#0000c3 152px,#0000da 160px,#0000fd 168px,#0019ff 173px,#04f 179px,#006eff 183px,#00a7ff 187px,#00e2ff 190px,#00fbff 191px,#2bffd4 193px,#ef1 201px,#fff900 202px,#ff8b00 207px,#ff3c00 211px,#ff0800 213px,#ef0000 214px,#a70000 218px,#900000 220px,#820000 222px,#820000 237px,#b00 251px,#d00000 254px,#fb0000 258px,#ff1300 260px,#ff3d00 263px,#ff6300 265px,#ff7b00 266px,#ffd000 269px,#feff01 271px,#8eff71 276px,#1fe 282px,#00feff 283px,#008cff 290px,#0059ff 294px,#0021ff 300px,#0000fe 305px,#0000d7 313px,#00b 323px,#0000a6 336px,#00009a 361px,#000096 450px)"></i>
<i style="height:7px;background:linear-gradient(90deg,#000098 0,#0000a2 118px,#00a 134px,#0000be 150px,#0000d6 160px,#0000fe 169px,#0027ff 176px,#004fff 181px,#007dff 185px,#00bcff 189px,#00e6ff 191px,#0ff 192px,#78ff87 197px,#f3ff0c 202px,#fff500 203px,#ff8600 208px,#ff3600 212px,#f00 214px,#d60000 216px,#a20000 219px,#8d0000 221px,#810000 223px,#800000 237px,#bd0000 252px,#d30000 255px,#fd0000 259px,#f20 262px,#ff5200 265px,#ff7f00 267px,#ffba00 269px,#ffeb00 271px,#fbff04 272px,#8bff74 277px,#0efff1 283px,#00fbff 284px,#08f 291px,#0056ff 295px,#0027ff 300px,#0004ff 305px,#0000f7 307px,#0000d2 315px,#0000b4 327px,#0000a3 341px,#009 367px,#000096 450px)"></i>
<i style="height:6px;background:linear-gradient(90deg,#000098 0,#0000a2 119px,#0000ab 136px,#0000c0 152px,#0000d7 161px,#00f 170px,#0030ff 178px,#005bff 183px,#008eff 187px,#00bfff 190px,#00eaff 192px,#04fffb 193px,#97ff68 199px,#f8ff07 203px,#ffef00 204px,#ff8000 209px,#ff2e00 213px,#ff1300 214px,#f70000 215px,#ab0000 219px,#920000 221px,#800000 224px,#820000 238px,#bf0000 253px,#e00000 257px,#ff0100 260px,#f30 264px,#ff6b00 267px,#ff8400 268px,#ffbe00 270px,#ffef00 272px,#f7ff08 273px,#87ff78 278px,#0bfff4 284px,#00f8ff 285px,#0093ff 291px,#0052ff 296px,#001dff 302px,#0001ff 306px,#0000d1 316px,#0000b3 328px,#0000a2 342px,#009 369px,#000096 450px)"></i>
<i style="height:6px;background:linear-gradient(90deg,#000098 0,#0000a2 120px,#0000ab 137px,#0000c0 153px,#0000d8 162px,#0001ff 171px,#002bff 178px,#0053ff 183px,#0083ff 187px,#00b1ff 190px,#00d8ff 192px,#00f0ff 193px,#0afff5 194px,#6aff95 198px,#e7ff18 203px,#feff01 204px,#ff7a00 210px,#ff3e00 213px,#ff0900 215px,#ef0000 216px,#a50000 220px,#8f0000 222px,#800000 225px,#800000 238px,#c10000 254px,#e30000 258px,#ff0300 261px,#ff3700 265px,#ff5a00 267px,#ff6f00 268px,#ffc300 271px,#fff300 273px,#f3ff0c 274px,#83ff7c 279px,#07fff8 285px,#00f4ff 286px,#008fff 292px,#005aff 296px,#002aff 301px,#0000fe 307px,#0000d3 316px,#0000b6 327px,#0000a3 341px,#009 369px,#000096 450px)"></i>
<i style="height:6px;background:linear-gradient(90deg,#000098 0,#0000a2 121px,#0000ab 138px,#0000c1 154px,#0000d5 162px,#0000fd 171px,#001fff 177px,#004cff 183px,#0079ff 187px,#00b6ff 191px,#0df 193px,#00f6ff 194px,#0ffff0 195px,#8aff75 200px,#edff12 204px,#fffa00 205px,#f80 210px,#ff3600 214px,#fe0000 216px,#d50000 218px,#af0000 220px,#940000 222px,#810000 225px,#800000 238px,#c40000 255px,#e60000 259px,#fa0000 261px,#ff0600 262px,#ff3b00 266px,#ff5f00 268px,#ff7500 269px,#ffc900 272px,#fff800 274px,#edff12 275px,#69ff96 281px,#02fffd 286px,#008aff 293px,#0056ff 297px,#0027ff 302px,#0003ff 307px,#0000e2 313px,#0000c5 321px,#0000ad 333px,#0000a0 347px,#009 373px,#000096 450px)"></i>
<i style="height:7px;background:linear-gradient(90deg,#000098 0,#0000a2 121px,#00a 137px,#0000bf 154px,#0000da 164px,#0000fe 172px,#0028ff 179px,#004fff 184px,#007dff 188px,#00a9ff 191px,#00e4ff 194px,#00fcff 195px,#5effa1 199px,#df2 204px,#f4ff0b 205px,#fff300 206px,#ff9600 210px,#ff2d00 215px,#ff1000 216px,#f40000 217px,#a80000 221px,#900000 223px,#800000 226px,#810000 239px,#c10000 255px,#df0000 259px,#fe0000 262px,#f20 265px,#ff5100 268px,#ff7c00 270px,#ffb600 272px,#fffe00 275px,#8eff71 280px,#10ffef 286px,#00fcff 287px,#0085ff 294px,#0052ff 298px,#001cff 304px,#00f 308px,#0000d4 317px,#0000b6 328px,#0000a4 342px,#00009a 365px,#000096 450px)"></i>
<i style="height:6px;background:linear-gradient(90deg,#000098 0,#0000a2 122px,#0000ab 139px,#0000c0 155px,#0000d4 163px,#0001ff 173px,#0031ff 181px,#005cff 186px,#008fff 190px,#00c0ff 193px,#00ebff 195px,#05fffa 196px,#6f9 200px,#e5ff1a 205px,#fcff03 206px,#ff7900 212px,#ff3b00 215px,#ff0400 217px,#d80000 219px,#a10000 222px,#8d0000 224px,#800000 227px,#800000 239px,#c30000 256px,#e30000 260px,#ff0200 263px,#ff3500 267px,#ff6b00 270px,#ff8400 271px,#ffbd00 273px,#ffed00 275px,#f9ff06 276px,#8f7 281px,#0afff5 287px,#00f7ff 288px,#008fff 294px,#0059ff 298px,#0020ff 304px,#0004ff 308px,#0000f7 310px,#0000ce 319px,#0000b0 332px,#0000a0 348px,#009 376px,#000096 450px)"></i>
<i style="height:6px;background:linear-gradient(90deg,#000098 0,#0000a2 123px,#0000ab 140px,#0000c1 156px,#0000d5 164px,#0000fd 173px,#001fff 179px,#004cff 185px,#0078ff 189px,#00b4ff 193px,#00dbff 195px,#00f3ff 196px,#0dfff2 197px,#6fff90 201px,#edff12 206px,#fff900 207px,#ff8500 212px,#ff3100 216px,#ff1400 217px,#f70000 218px,#a90000 222px,#910000 224px,#800000 227px,#820000 240px,#c60000 257px,#f00000 262px,#fa0000 263px,#ff0600 264px,#ff3a00 268px,#ff5d00 270px,#ff8e00 272px,#ffc500 274px,#fff400 276px,#f2ff0d 277px,#81ff7e 282px,#04fffb 288px,#00dfff 290px,#0089ff 295px,#0054ff 299px,#0025ff 304px,#0001ff 309px,#0000d4 318px,#0000b6 329px,#0000a4 343px,#00009a 366px,#000096 450px)"></i>
<i style="height:7px;background:linear-gradient(90deg,#000098 0,#0000a2 123px,#00a 139px,#0000be 155px,#0000d3 164px,#00f 174px,#002fff 182px,#0059ff 187px,#008bff 191px,#00ceff 195px,#00fcff 197px,#5effa1 201px,#dfff20 206px,#f7ff08 207px,#fff000 208px,#ff9200 212px,#ff3d00 216px,#ff0600 218px,#ec0000 219px,#a20000 223px,#8d0000 225px,#800000 228px,#800000 240px,#c30000 257px,#e10000 261px,#fe0000 264px,#ff3100 268px,#ff5100 270px,#ff7c00 272px,#ffb500 274px,#fffc00 277px,#79ff86 283px,#10ffef 288px,#00fcff 289px,#0091ff 295px,#005aff 299px,#0021ff 305px,#0004ff 309px,#0000f7 311px,#0000ce 320px,#0000b2 332px,#0000a3 344px,#009 371px,#000096 450px)"></i>
<i style="height:6px;background:linear-gradient(90deg,#000098 0,#0000a2 124px,#0000ab 141px,#0000c0 157px,#0000d8 166px,#0002ff 175px,#0032ff 183px,#005eff 188px,#0091ff 192px,#00c2ff 195px,#00edff 197px,#07fff8 198px,#69ff96 202px,#e9ff16 207px,#fffd00 208px,#ff7200 214px,#ff3200 217px,#ff1500 218px,#f70000 219px,#a80000 223px,#910000 225px,#800000 228px,#800000 240px,#c60000 258px,#e50000 262px,#f80000 264px,#ff0400 265px,#ff3700 269px,#ff6d00 272px,#ffbf00 275px,#ffed00 277px,#f9ff06 278px,#9cff63 282px,#09fff6 289px,#00f5ff 290px,#009aff 295px,#0061ff 299px,#002dff 304px,#0001ff 310px,#0000d3 319px,#0000b4 331px,#0000a3 345px,#009 371px,#000096 450px)"></i>
<i style="height:6px;background:linear-gradient(90deg,#000098 0,#0000a2 124px,#0000ab 142px,#0000c3 159px,#0000da 167px,#0000fe 175px,#002eff 183px,#0058ff 188px,#0089ff 192px,#00b8ff 195px,#00f7ff 198px,#1fe 199px,#75ff8a 203px,#dcff23 207px,#f4ff0b 208px,#fff300 209px,#ff9300 213px,#ff3e00 217px,#ff0500 219px,#d80000 221px,#a10000 224px,#8d0000 226px,#800000 229px,#820000 241px,#c40000 258px,#e10000 262px,#fd0000 265px,#ff2100 268px,#ff4e00 271px,#f70 273px,#ffb000 275px,#fff700 278px,#efff10 279px,#93ff6c 283px,#0ff 290px,#0083ff 297px,#004fff 301px,#0019ff 307px,#0000fd 311px,#0000d5 319px,#0000b9 329px,#0000a4 343px,#00009a 368px,#000096 450px)"></i>
<i style="height:7px;background:linear-gradient(90deg,#000098 0,#0000a2 125px,#0000ab 142px,#0000c0 158px,#0000d8 167px,#0001ff 176px,#0032ff 184px,#0053ff 188px,#0082ff 192px,#00c1ff 196px,#00eaff 198px,#04fffb 199px,#6f9 203px,#e8ff17 208px,#ff0 209px,#ff8700 214px,#ff3100 218px,#ff1300 219px,#f50000 220px,#a60000 224px,#900000 226px,#800000 229px,#800000 241px,#af0000 253px,#c70000 259px,#e00 264px,#ff0300 266px,#ff3600 270px,#ff5700 272px,#ff8300 274px,#fb0 276px,#fcff03 279px,#89ff76 284px,#0bfff4 290px,#00f7ff 291px,#008bff 297px,#0054ff 301px,#001cff 307px,#00f 311px,#0000d7 319px,#0000bc 328px,#0000a7 341px,#00009a 367px,#000096 450px)"></i>
<i style="height:6px;background:linear-gradient(90deg,#000098 0,#0000a2 126px,#0000ab 143px,#0000c3 160px,#0000da 168px,#0000fe 176px,#002eff 184px,#0058ff 189px,#0089ff 193px,#00caff 197px,#00f6ff 199px,#0ffff0 200px,#74ff8b 204px,#dcff23 208px,#f4ff0b 209px,#fff200 210px,#ff9200 214px,#ff3b00 218px,#ff0100 220px,#d50000 222px,#ad0000 224px,#930000 226px,#820000 229px,#800000 241px,#c50000 259px,#ea0000 264px,#fd0000 266px,#ff2100 269px,#ff4e00 272px,#ff7600 274px,#ffc700 277px,#fff500 279px,#f1ff0e 280px,#7fff80 285px,#01fffe 291px,#0092ff 297px,#005aff 301px,#0028ff 306px,#0003ff 311px,#0000e1 317px,#0000c4 325px,#0000a8 340px,#00009a 365px,#000096 450px)"></i>
<i style="height:6px;background:linear-gradient(90deg,#000098 0,#0000a2 126px,#0000ab 143px,#0000c0 159px,#0000d8 168px,#0002ff 177px,#0032ff 185px,#005dff 190px,#0090ff 194px,#00c1ff 197px,#00ebff 199px,#04fffb 200px,#68ff97 204px,#eaff15 209px,#fffd00 210px,#ff9b00 214px,#ff2c00 219px,#ff0d00 220px,#f00000 221px,#a30000 225px,#8e0000 227px,#800000 230px,#820000 242px,#b00000 254px,#c90000 260px,#ef0000 265px,#ff0400 267px,#ff3600 271px,#ff6c00 274px,#ffd300 278px,#fcff03 280px,#89ff76 285px,#0afff5 291px,#00f6ff 292px,#0089ff 298px,#0053ff 302px,#0023ff 307px,#0000fe 312px,#0000d6 320px,#0000be 328px,#0000a9 340px,#00009b 361px,#000096 450px)"></i>
<i style="height:7px;background:linear-gradient(90deg,#000098 0,#0000a2 126px,#0000ab 144px,#0000c3 161px,#0000db 169px,#00f 177px,#002fff 185px,#0059ff 190px,#008aff 194px,#00b9ff 197px,#00e1ff 199px,#00f9ff 200px,#12ffed 201px,#7f8 205px,#e0ff1f 209px,#f7ff08 210px,#fe0 211px,#ff8d00 215px,#ff3600 219px,#ff1900 220px,#f90000 221px,#a80000 225px,#910000 227px,#810000 230px,#810000 242px,#af0000 254px,#c70000 260px,#e30000 264px,#fe0000 267px,#ff3000 271px,#ff6300 274px,#ff7800 275px,#ffc900 278px,#fff700 280px,#efff10 281px,#7dff82 286px,#00feff 292px,#008fff 298px,#0057ff 302px,#0026ff 307px,#0001ff 312px,#0000d3 321px,#0000b6 332px,#0000a3 346px,#009 373px,#000096 450px)"></i>
<i style="height:6px;background:linear-gradient(90deg,#000098 0,#0000a2 127px,#0000ab 144px,#0000c2 161px,#0000d9 169px,#0000fd 177px,#001fff 183px,#004cff 189px,#0078ff 193px,#00b3ff 197px,#00d8ff 199px,#00efff 200px,#08fff7 201px,#6cff93 205px,#d6ff29 209px,#ef1 210px,#fff800 211px,#ff9500 215px,#ff3e00 219px,#ff0300 221px,#ad0000 225px,#940000 227px,#820000 230px,#800000 242px,#ab0000 253px,#c50000 260px,#e80000 265px,#fb0000 267px,#f10 269px,#ff4900 273px,#ff6f00 275px,#ffbf00 278px,#ffed00 280px,#f9ff06 281px,#86ff79 286px,#07fff8 292px,#00f3ff 293px,#0095ff 298px,#005bff 302px,#0028ff 307px,#0003ff 312px,#0000e1 318px,#0000c4 326px,#0000a8 341px,#00009a 366px,#000096 450px)"></i>
<i style="height:6px;background:linear-gradient(90deg,#000098 0,#0000a2 127px,#00a 143px,#0000be 159px,#0000d4 168px,#0001ff 178px,#0031ff 186px,#005cff 191px,#008eff 195px,#00d1ff 199px,#00feff 201px,#63ff9c 205px,#e6ff19 210px,#feff01 211px,#ff8600 216px,#ff2c00 220px,#ff0d00 221px,#f00000 222px,#a20000 226px,#8e0000 228px,#800000 231px,#800000 242px,#b80000 257px,#cf0000 262px,#ff0200 268px,#ff3400 272px,#ff5400 274px,#ff7e00 276px,#ffb600 278px,#fffc00 281px,#78ff87 287px,#0efff1 292px,#00f9ff 293px,#008aff 299px,#0053ff 303px,#001aff 309px,#0000fe 313px,#0000d5 321px,#0000b9 331px,#0000a4 345px,#00009a 370px,#000096 450px)"></i>
<i style="height:7px;background:linear-gradient(90deg,#000098 0,#0000a2 128px,#0000ab 145px,#0000c3 162px,#0000da 170px,#00f 178px,#0028ff 185px,#0058ff 191px,#008aff 195px,#00b8ff 198px,#00f6ff 201px,#0ffff0 202px,#75ff8a 206px,#dfff20 210px,#f7ff08 211px,#ffef00 212px,#ff8d00 216px,#ff3400 220px,#ff1500 221px,#f60000 222px,#a60000 226px,#900000 228px,#810000 231px,#800000 242px,#c80000 261px,#e30000 265px,#fe0000 268px,#f20 271px,#ff4f00 274px,#ff7600 276px,#ffc600 279px,#fff400 281px,#f2ff0d 282px,#7fff80 287px,#01fffe 293px,#008fff 299px,#0056ff 303px,#001dff 309px,#00f 313px,#0000d2 322px,#0000b4 334px,#0000a3 347px,#009 374px,#000096 450px)"></i>
<i style="height:6px;background:linear-gradient(90deg,#000098 0,#0000a1 122px,#0000a9 143px,#0000bf 160px,#0000d5 169px,#0000fd 178px,#001aff 183px,#04f 189px,#006cff 193px,#00a3ff 197px,#00d9ff 200px,#00f0ff 201px,#08fff7 202px,#6eff91 206px,#d8ff27 210px,#f0ff0f 211px,#fff600 212px,#ff9200 216px,#ff3a00 220px,#fd0000 222px,#d20000 224px,#a90000 226px,#920000 228px,#810000 231px,#820000 243px,#a90000 253px,#c70000 261px,#e10000 265px,#fb0000 268px,#ff1200 270px,#ff4a00 274px,#ff7000 276px,#ffd600 280px,#ffed00 281px,#f9ff06 282px,#70ff8f 288px,#06fff9 293px,#00f2ff 294px,#0093ff 299px,#0059ff 303px,#001eff 309px,#0002ff 313px,#0000d3 322px,#0000b6 333px,#0000a3 347px,#009 374px,#000096 450px)"></i>
<i style="height:6px;background:linear-gradient(90deg,#000098 0,#0000a2 128px,#0000ab 145px,#0000c0 161px,#0000d8 170px,#0002ff 179px,#0032ff 187px,#005dff 192px,#0090ff 196px,#00c1ff 199px,#02fffd 202px,#67ff98 206px,#ebff14 211px,#fffb00 212px,#ff9800 216px,#ff3f00 220px,#ff0400 222px,#d60000 224px,#ac0000 226px,#930000 228px,#820000 231px,#820000 243px,#c60000 261px,#e70000 266px,#f90000 268px,#ff0400 269px,#ff3600 273px,#ff6b00 276px,#ff9e00 278px,#ffd000 280px,#fffe00 282px,#8bff74 287px,#0cfff3 293px,#00f7ff 294px,#0097ff 299px,#005cff 303px,#0032ff 307px,#0003ff 313px,#0000e1 319px,#0000c4 327px,#0000ac 339px,#00009e 356px,#000098 394px,#000096 450px)"></i>
<i style="height:6px;background:linear-gradient(90deg,#000098 0,#0000a2 128px,#00a 144px,#0000be 160px,#0000d7 170px,#0001ff 179px,#0031ff 187px,#005bff 192px,#009cff 197px,#00cfff 200px,#00fcff 202px,#2effd1 204px,#e6ff19 211px,#feff01 212px,#ff6e00 218px,#ff4300 220px,#ff2900 221px,#ff0900 222px,#ed0000 223px,#b00000 226px,#950000 228px,#830000 231px,#800000 237px,#810000 243px,#a80000 253px,#c50000 261px,#e60000 266px,#ff0200 269px,#f30 273px,#f60 276px,#ff7c00 277px,#ffb400 279px,#fff900 282px,#ecff13 283px,#65ff9a 289px,#10ffef 293px,#00fbff 294px,#009bff 299px,#005eff 303px,#002aff 308px,#0004ff 313px,#0000f7 315px,#0000d1 323px,#0000b7 333px,#0000a4 346px,#009 374px,#000096 450px)"></i>
<i style="height:7px;background:linear-gradient(90deg,#000098 0,#0000a2 129px,#0000ab 146px,#0000c3 163px,#0000db 171px,#00f 179px,#0030ff 187px,#0059ff 192px,#008bff 196px,#0cf 200px,#00f8ff 202px,#1fe 203px,#aeff51 209px,#faff05 212px,#ffd200 214px,#ff7200 218px,#ff2e00 221px,#ff0e00 222px,#f00000 223px,#b20000 226px,#960000 228px,#830000 231px,#800000 237px,#810000 243px,#b50000 257px,#cf0000 263px,#f60000 268px,#f00 269px,#ff3100 273px,#ff6300 276px,#ff7800 277px,#ffc700 280px,#fff500 282px,#f1ff0e 283px,#7eff81 288px,#00feff 294px,#008cff 300px,#0054ff 304px,#0023ff 309px,#0000fe 314px,#0000d9 321px,#00b 331px,#0000a4 346px,#00009a 371px,#000096 450px)"></i>
<i style="height:6px;background:linear-gradient(90deg,#000098 0,#0000a1 123px,#0000a9 144px,#0000c1 162px,#0000d6 170px,#0000fe 179px,#0028ff 186px,#0058ff 192px,#0097ff 197px,#00caff 200px,#00f5ff 202px,#0efff1 203px,#74ff8b 207px,#dfff20 211px,#f7ff08 212px,#ffef00 213px,#ff8b00 217px,#ff3100 221px,#ff1200 222px,#f30000 223px,#a30000 227px,#8f0000 229px,#800000 232px,#810000 243px,#c90000 262px,#f40000 268px,#fe0000 269px,#f20 272px,#ff4e00 275px,#ff7500 277px,#ffc400 280px,#fff100 282px,#f4ff0b 283px,#81ff7e 288px,#02fffd 294px,#008eff 300px,#05f 304px,#0024ff 309px,#0000fe 314px,#0000d6 322px,#0000b9 332px,#0000a4 346px,#00009a 371px,#000096 450px)"></i>
<i style="height:6px;background:linear-gradient(90deg,#000098 0,#0000a1 123px,#0000a9 144px,#0000bf 161px,#0000d6 170px,#0000fe 179px,#002eff 187px,#0057ff 192px,#08f 196px,#00b6ff 199px,#00dcff 201px,#00f3ff 202px,#0bfff4 203px,#a8ff57 209px,#f5ff0a 212px,#fff100 213px,#ff8d00 217px,#f30 221px,#ff1400 222px,#f50000 223px,#a40000 227px,#8f0000 229px,#810000 232px,#810000 243px,#c80000 262px,#eb0000 267px,#fd0000 269px,#ff1400 271px,#ff4c00 275px,#ff7300 277px,#ffc200 280px,#ffef00 282px,#f7ff08 283px,#9f6 287px,#04fffb 294px,#00dbff 296px,#0090ff 300px,#0056ff 304px,#0024ff 309px,#00f 314px,#0000da 321px,#0000c0 329px,#00a 341px,#00009c 361px,#000096 450px)"></i>
<i style="height:7px;background:linear-gradient(90deg,#000098 0,#0000a1 123px,#0000a9 144px,#0000bf 161px,#0000d6 170px,#0000fe 179px,#0027ff 186px,#004dff 191px,#007aff 195px,#00b5ff 199px,#00f1ff 202px,#0afff5 203px,#70ff8f 207px,#dbff24 211px,#f3ff0c 212px,#fff200 213px,#ff8e00 217px,#ff3500 221px,#ff1600 222px,#f60000 223px,#a50000 227px,#900000 229px,#810000 232px,#800000 243px,#b10000 256px,#c80000 262px,#eb0000 267px,#fc0000 269px,#ff1300 271px,#ff4b00 275px,#ff7100 277px,#ffc000 280px,#fe0 282px,#f8ff07 283px,#85ff7a 288px,#05fffa 294px,#0df 296px,#0091ff 300px,#0057ff 304px,#0025ff 309px,#00f 314px,#0000d2 323px,#0000b5 334px,#0000a2 349px,#009 376px,#000096 450px)"></i>
<i style="height:6px;background:linear-gradient(90deg,#000098 0,#0000a1 123px,#0000a9 144px,#0000bf 161px,#0000d2 169px,#0000fe 179px,#0020ff 185px,#004dff 191px,#0079ff 195px,#00b4ff 199px,#00daff 201px,#00f1ff 202px,#0afff5 203px,#70ff8f 207px,#f3ff0c 212px,#fff300 213px,#ff8f00 217px,#ff3500 221px,#ff1600 222px,#f70000 223px,#a50000 227px,#900000 229px,#810000 232px,#800000 243px,#b10000 256px,#c80000 262px,#ea0000 267px,#fc0000 269px,#ff1f00 272px,#ff4b00 275px,#ff7100 277px,#ffd700 281px,#ffed00 282px,#f9ff06 283px,#9bff64 287px,#05fffa 294px,#0df 296px,#0091ff 300px,#0057ff 304px,#0025ff 309px,#00f 314px,#0000d2 323px,#0000b3 335px,#0000a2 349px,#009 376px,#000096 450px)"></i>
</div>
<svg width="1996" height="1524" viewBox="0 0 1996 1524" font-family="'Liberation Sans',Arial,Helvetica,sans-serif" fill="#000">
<defs>
<linearGradient id="jet" x1="0" y1="1" x2="0" y2="0"><stop offset="0" stop-color="#00008f"/><stop offset=".1111" stop-color="#00f"/><stop offset=".3651" stop-color="#0ff"/><stop offset=".619" stop-color="#ff0"/><stop offset=".873" stop-color="#f00"/><stop offset="1" stop-color="#800000"/></linearGradient>
<linearGradient id="rb"><stop offset="0" stop-color="#1a00b4"/><stop offset="0.09" stop-color="#4030d0"/><stop offset="0.18" stop-color="#b8b0f0"/><stop offset="0.24" stop-color="#40a890"/><stop offset="0.29" stop-color="#00b050"/><stop offset="0.37" stop-color="#40c840"/><stop offset="0.47" stop-color="#a0e810"/><stop offset="0.56" stop-color="#ffff00"/><stop offset="0.63" stop-color="#f8d000"/><stop offset="0.72" stop-color="#e89000"/><stop offset="0.805" stop-color="#e06000"/><stop offset="0.9" stop-color="#c83000"/><stop offset="1" stop-color="#b00000"/></linearGradient>
<linearGradient id="bg1" x1="0" y1="0" x2="0.25" y2="1"><stop offset="0" stop-color="#cbc4c5"/><stop offset="0.12" stop-color="#d1cbcc"/><stop offset="0.3" stop-color="#d7d3d5"/><stop offset="0.6" stop-color="#dcd9db"/><stop offset="1" stop-color="#dedbdd"/></linearGradient>
<linearGradient id="bg2" x1="0" y1="0" x2="0.25" y2="1"><stop offset="0" stop-color="#cec7c9"/><stop offset="0.12" stop-color="#d3cdcf"/><stop offset="0.3" stop-color="#d8d4d6"/><stop offset="0.6" stop-color="#dcd9db"/><stop offset="1" stop-color="#dedbdd"/></linearGradient>
<linearGradient id="bg3" x1="0" y1="0" x2="0.25" y2="1"><stop offset="0" stop-color="#d1cbcd"/><stop offset="0.12" stop-color="#d5d0d2"/><stop offset="0.3" stop-color="#d9d5d7"/><stop offset="0.6" stop-color="#dcd9db"/><stop offset="1" stop-color="#dedbdd"/></linearGradient>
<linearGradient id="bg4" x1="0" y1="0" x2="0.25" y2="1"><stop offset="0" stop-color="#d6d1d4"/><stop offset="0.12" stop-color="#d8d4d6"/><stop offset="0.3" stop-color="#dbd7da"/><stop offset="0.6" stop-color="#dcd9db"/><stop offset="1" stop-color="#dedbdd"/></linearGradient>
<radialGradient id="fb1" cx="0.5" cy="0.5" r="0.7"><stop offset="0" stop-color="#0404c8"/><stop offset="1" stop-color="#0a0aa6"/></radialGradient>
<radialGradient id="fb2" cx="0.5" cy="0.5" r="0.7"><stop offset="0" stop-color="#0404bc"/><stop offset="1" stop-color="#0a0a98"/></radialGradient>
<radialGradient id="fb3" cx="0.5" cy="0.5" r="0.7"><stop offset="0" stop-color="#0808a4"/><stop offset="1" stop-color="#101088"/></radialGradient>
<radialGradient id="fb4" cx="0.5" cy="0.5" r="0.7"><stop offset="0" stop-color="#0a0a8c"/><stop offset="1" stop-color="#121272"/></radialGradient>
<radialGradient id="fg1" cx="0.5" cy="0.5" r="0.7"><stop offset="0" stop-color="#14bc5e"/><stop offset="1" stop-color="#0aa850"/></radialGradient>
<radialGradient id="fg2" cx="0.5" cy="0.5" r="0.7"><stop offset="0" stop-color="#0aae52"/><stop offset="1" stop-color="#069c4a"/></radialGradient>
<linearGradient id="fg3" x1="0" y1="0" x2="0" y2="1"><stop offset="0" stop-color="#0e8456"/><stop offset="1" stop-color="#14aa7c"/></linearGradient>
<linearGradient id="fg4" x1="0" y1="0" x2="0" y2="1"><stop offset="0" stop-color="#0e6c5c"/><stop offset="1" stop-color="#12927e"/></linearGradient>
<linearGradient id="fr1" x1="0" y1="0" x2="0" y2="1"><stop offset="0" stop-color="#c8501e"/><stop offset="0.6" stop-color="#cb5220"/><stop offset="0.68" stop-color="#d06a50"/><stop offset="1" stop-color="#d27a66"/></linearGradient>
<linearGradient id="fr2" x1="0" y1="0" x2="0" y2="1"><stop offset="0" stop-color="#c6401c"/><stop offset="0.6" stop-color="#c93818"/><stop offset="1" stop-color="#d04a3a"/></linearGradient>
<radialGradient id="fr3" cx="0.55" cy="0.85" r="0.8"><stop offset="0" stop-color="#cc3c10"/><stop offset="1" stop-color="#9c3010"/></radialGradient>
<radialGradient id="fr4" cx="0.5" cy="0.9" r="0.8"><stop offset="0" stop-color="#c03c10"/><stop offset="1" stop-color="#963410"/></radialGradient>
</defs>
<text x="3.9" y="39.2" font-size="41" font-weight="bold">(a)</text>
<text x="653.2" y="39.4" font-size="41" font-weight="bold">(b)</text>
<text x="1224" y="38.8" font-size="41" font-weight="bold">(c)</text>
<text x="3.6" y="556" font-size="41" font-weight="bold">(d)</text>
<text x="3.6" y="1057.5" font-size="41" font-weight="bold">(e)</text>
<g shape-rendering="geometricPrecision">
<polygon points="184,143.8 264.2,194.8 264.2,463 184,412.4" fill="#94786b"/>
<polygon points="264.2,194.8 505.6,157.1 505.6,426.9 264.2,463" fill="#f8cbad"/>
<polygon points="184,170 264.2,220 264.2,263 184,212.8" fill="#318b87"/>
<polygon points="264.2,220 505.6,184.1 505.6,226.3 264.2,263" fill="#5cede8"/>
<polygon points="184,212.8 264.2,263 264.2,273.7 184,223.2" fill="#5b7188"/>
<polygon points="264.2,263 505.6,226.3 505.6,238 264.2,273.7" fill="#9dc3e6"/>
<polygon points="184,269.7 264.2,319.4 264.2,360.8 184,311" fill="#318b87"/>
<polygon points="264.2,319.4 505.6,283.6 505.6,325 264.2,360.8" fill="#5cede8"/>
<polygon points="184,311 264.2,360.8 264.2,372.3 184,322.2" fill="#5b7188"/>
<polygon points="264.2,360.8 505.6,325 505.6,336.2 264.2,372.3" fill="#9dc3e6"/>
<polygon points="184,347.2 264.2,398 264.2,463 184,412.4" fill="#6f6f6f"/>
<polygon points="264.2,398 505.6,362 505.6,426.9 264.2,463" fill="#bfbfbf"/>
<polygon points="184,143.8 425.5,106.9 505.6,157.1 264.2,194.8" fill="#fdd5b6"/>
</g>
<rect x="88.6" y="175.9" width="60.5" height="34.6" fill="#f8cbad"/>
<rect x="88.1" y="253.7" width="61" height="33.7" fill="#9dc3e6"/>
<rect x="88.1" y="337.4" width="61" height="33.8" fill="#5cede8"/>
<text x="118.6" y="230.8" font-size="24" text-anchor="middle">Ag</text>
<text x="119.2" y="309.5" font-size="24" text-anchor="middle">SiO<tspan dy="5" font-size="16">2</tspan></text>
<text x="119.3" y="392.9" font-size="24" text-anchor="middle">Ta<tspan dy="5" font-size="16">2</tspan><tspan dy="-5">O</tspan><tspan dy="5" font-size="16">5</tspan></text>
<text transform="translate(335.3 428.7) rotate(-8.3)" font-size="21" word-spacing="2" stroke="#fff" stroke-width="1.2" stroke-opacity=".7" paint-order="stroke">Glass substrate</text>
<polygon points="335.2,50.6 371.6,50.6 371.6,110.9 389.8,110.9 353.5,147.6 317,110.9 335.2,110.9" fill="url(#rb)"/>
<text x="291" y="40.9" font-size="27" font-weight="bold">Incidence</text>
<polygon points="345.3,449.6 360.5,449.6 360.5,487.7 368.2,487.7 352.9,503 337.6,487.7 345.3,487.7" fill="#1a05b4"/>
<polygon points="383.9,449.6 399.1,449.6 399.1,487.7 406.8,487.7 391.5,503 376.2,487.7 383.9,487.7" fill="#00b050"/>
<polygon points="421.4,449.6 436.6,449.6 436.6,487.7 444.3,487.7 429,503 413.7,487.7 421.4,487.7" fill="#ff0000"/>
<text x="439" y="480.2" font-size="27.1" font-weight="bold">Transmission</text>
<path d="M505.8 156.6H540.4M505.8 182H540.4M505.8 225.2H540.4M505.8 237.2H540.4M505.8 283.8H540.4M505.8 324.6H540.4M505.8 336.3H540.4M505.8 361.4H540.4" stroke="#222" stroke-width="1" stroke-dasharray="2.4 2.2" fill="none"/>
<path d="M514.3 161.6V177" stroke="#111" stroke-width="1" stroke-dasharray="3 2" fill="none"/>
<path d="M514.3 157.4l2.8 7.4h-5.6zM514.3 181.2l2.8 -7.4h-5.6z" fill="#111"/>
<text x="520.5" y="174.3" font-size="20" font-family="'Liberation Serif','Times New Roman',serif" font-style="italic">d<tspan dy="4.5" dx="0.5" font-size="14" font-style="normal">1</tspan></text>
<path d="M514.3 187V220.2" stroke="#111" stroke-width="1" stroke-dasharray="3 2" fill="none"/>
<path d="M514.3 182.8l2.8 7.4h-5.6zM514.3 224.4l2.8 -7.4h-5.6z" fill="#111"/>
<text x="520.5" y="208.6" font-size="20" font-family="'Liberation Serif','Times New Roman',serif" font-style="italic">d<tspan dy="4.5" dx="0.5" font-size="14" font-style="normal">2</tspan></text>
<text x="524.5" y="236" font-size="18.5" font-family="'Liberation Serif','Times New Roman',serif" font-style="italic" fill="#f00">t</text>
<path d="M514.3 242.2V278.8" stroke="#111" stroke-width="1" stroke-dasharray="3 2" fill="none"/>
<path d="M514.3 238l2.8 7.4h-5.6zM514.3 283l2.8 -7.4h-5.6z" fill="#111"/>
<text x="520.5" y="265.5" font-size="20" font-family="'Liberation Serif','Times New Roman',serif" font-style="italic">d<tspan dy="4.5" dx="0.5" font-size="14" font-style="normal">3</tspan></text>
<path d="M514.3 288.8V319.6" stroke="#111" stroke-width="1" stroke-dasharray="3 2" fill="none"/>
<path d="M514.3 284.6l2.8 7.4h-5.6zM514.3 323.8l2.8 -7.4h-5.6z" fill="#111"/>
<text x="520.5" y="309.2" font-size="20" font-family="'Liberation Serif','Times New Roman',serif" font-style="italic">d<tspan dy="4.5" dx="0.5" font-size="14" font-style="normal">4</tspan></text>
<text x="524.5" y="335.3" font-size="18.5" font-family="'Liberation Serif','Times New Roman',serif" font-style="italic" fill="#f00">t</text>
<path d="M514.3 341.3V356.4" stroke="#111" stroke-width="1" stroke-dasharray="3 2" fill="none"/>
<path d="M514.3 337.1l2.8 7.4h-5.6zM514.3 360.6l2.8 -7.4h-5.6z" fill="#111"/>
<text x="520.5" y="353.9" font-size="20" font-family="'Liberation Serif','Times New Roman',serif" font-style="italic">d<tspan dy="4.5" dx="0.5" font-size="14" font-style="normal">5</tspan></text>
<rect x="740.5" y="55.99" width="447.1" height="360.01" fill="none" stroke="#000" stroke-width="3"/>
<clipPath id="cpb"><rect x="740.5" y="55.99" width="447.1" height="361.51"/></clipPath>
<g fill="none" stroke-width="2.8" stroke-linejoin="round" clip-path="url(#cpb)">
<polyline points="740.5,287.4 741.6,278.8 742.7,270.1 743.9,261.7 745,253.9 746.1,246.3 747.2,239 748.3,231.8 749.4,224.5 750.6,217.1 751.7,209.5 752.8,201.6 753.9,193.4 755,185.2 756.1,177 757.3,168.9 758.4,161.1 759.5,153.5 760.6,145.5 761.7,137.7 762.9,130.6 764,124.7 765.1,120.3 766.2,116.5 767.3,113.2 768.4,110.4 769.6,108.3 770.7,106.7 771.8,105.2 772.9,104 774,103.3 775.2,103.1 776.3,103.4 777.4,104.2 778.5,105.3 779.6,106.6 780.7,108.1 781.9,110.4 783,113.6 784.1,117.4 785.2,121.4 786.3,125.4 787.4,129.6 788.6,134.1 789.7,139 790.8,144.1 791.9,149.4 793,154.9 794.2,160.6 795.3,166.4 796.4,172.5 797.5,178.9 798.6,185.5 799.7,192.3 800.9,199.3 802,206.6 803.1,214.1 804.2,222.2 805.3,230.8 806.4,239.5 807.6,248.3 808.7,256.8 809.8,264.9 810.9,273 812,281.1 813.2,289.1 814.3,296.7 815.4,304 816.5,310.7 817.6,316.7 818.7,322.2 819.9,327.4 821,332.3 822.1,337 823.2,341.6 824.3,346.2 825.4,350.7 826.6,355 827.7,359 828.8,362.6 829.9,365.8 831,368.8 832.2,371.7 833.3,374.5 834.4,377.1 835.5,379.6 836.6,382 837.7,384.2 838.9,386.2 840,388.1 841.1,389.8 842.2,391.4 843.3,392.8 844.5,394.3 845.6,395.6 846.7,396.9 847.8,398.1 848.9,399.2 850,400.2 851.2,401.2 852.3,402 853.4,402.8 854.5,403.5 855.6,404.1 856.7,404.7 857.9,405.3 859,405.9 860.1,406.5 861.2,407 862.3,407.5 863.5,407.9 864.6,408.4 865.7,408.8 866.8,409.2 867.9,409.6 869,409.9 870.2,410.2 871.3,410.5 872.4,410.8 873.5,411 874.6,411.3 875.7,411.5 876.9,411.7 878,412 879.1,412.2 880.2,412.4 881.3,412.6 882.5,412.8 883.6,413 884.7,413.2 885.8,413.4 886.9,413.5 888,413.7 889.2,413.8 890.3,413.9 891.4,414.1 892.5,414.2 893.6,414.3 894.7,414.3 895.9,414.4 897,414.5 898.1,414.5 899.2,414.5 900.3,414.6 901.5,414.6 902.6,414.7 903.7,414.7 904.8,414.7 905.9,414.8 907,414.8 908.2,414.8 909.3,414.9 910.4,414.9 911.5,415 912.6,415 913.8,415 914.9,415 916,415.1 917.1,415.1 918.2,415.1 919.3,415.2 920.5,415.2 921.6,415.2 922.7,415.2 923.8,415.3 924.9,415.3 926,415.3 927.2,415.3 928.3,415.4 929.4,415.4 930.5,415.4 931.6,415.4 932.8,415.5 933.9,415.5 935,415.5 936.1,415.5 937.2,415.5 938.3,415.5 939.5,415.6 940.6,415.6 941.7,415.6 942.8,415.6 943.9,415.6 945,415.6 946.2,415.6 947.3,415.6 948.4,415.7 949.5,415.7 950.6,415.7 951.8,415.7 952.9,415.7 954,415.7 955.1,415.7 956.2,415.7 957.3,415.7 958.5,415.7 959.6,415.7 960.7,415.7 961.8,415.7 962.9,415.7 964,415.7 965.2,415.7 966.3,415.7 967.4,415.7 968.5,415.7 969.6,415.8 970.8,415.8 971.9,415.8 973,415.8 974.1,415.8 975.2,415.8 976.3,415.8 977.5,415.8 978.6,415.8 979.7,415.8 980.8,415.8 981.9,415.8 983.1,415.8 984.2,415.8 985.3,415.8 986.4,415.8 987.5,415.8 988.6,415.8 989.8,415.8 990.9,415.8 992,415.8 993.1,415.8 994.2,415.8 995.3,415.8 996.5,415.8 997.6,415.8 998.7,415.8 999.8,415.8 1000.9,415.8 1002.1,415.8 1003.2,415.8 1004.3,415.8 1005.4,415.8 1006.5,415.8 1007.6,415.8 1008.8,415.8 1009.9,415.8 1011,415.8 1012.1,415.8 1013.2,415.8 1014.3,415.8 1015.5,415.8 1016.6,415.8 1017.7,415.8 1018.8,415.8 1019.9,415.8 1021.1,415.8 1022.2,415.8 1023.3,415.8 1024.4,415.8 1025.5,415.8 1026.6,415.8 1027.8,415.8 1028.9,415.8 1030,415.8 1031.1,415.8 1032.2,415.8 1033.4,415.8 1034.5,415.8 1035.6,415.8 1036.7,415.8 1037.8,415.8 1038.9,415.8 1040.1,415.8 1041.2,415.8 1042.3,415.8 1043.4,415.8 1044.5,415.8 1045.6,415.8 1046.8,415.8 1047.9,415.8 1049,415.8 1050.1,415.8 1051.2,415.8 1052.4,415.8 1053.5,415.8 1054.6,415.8 1055.7,415.8 1056.8,415.8 1057.9,415.8 1059.1,415.8 1060.2,415.8 1061.3,415.8 1062.4,415.8 1063.5,415.8 1064.6,415.8 1065.8,415.8 1066.9,415.8 1068,415.8 1069.1,415.8 1070.2,415.8 1071.4,415.8 1072.5,415.8 1073.6,415.8 1074.7,415.8 1075.8,415.8 1076.9,415.8 1078.1,415.8 1079.2,415.8 1080.3,415.8 1081.4,415.8 1082.5,415.8 1083.6,415.9 1084.8,415.9 1085.9,415.9 1087,415.9 1088.1,415.9 1089.2,415.9 1090.4,415.9 1091.5,415.9 1092.6,415.9 1093.7,415.9 1094.8,415.9 1095.9,415.9 1097.1,415.9 1098.2,415.9 1099.3,415.9 1100.4,415.9 1101.5,415.9 1102.7,415.9 1103.8,415.9 1104.9,415.9 1106,415.9 1107.1,415.9 1108.2,415.9 1109.4,415.9 1110.5,415.9 1111.6,415.9 1112.7,415.9 1113.8,415.9 1114.9,415.9 1116.1,415.9 1117.2,415.9 1118.3,415.9 1119.4,415.9 1120.5,415.9 1121.7,415.9 1122.8,415.9 1123.9,415.9 1125,415.9 1126.1,415.9 1127.2,415.9 1128.4,415.9 1129.5,415.9 1130.6,415.9 1131.7,415.9 1132.8,415.9 1133.9,415.9 1135.1,415.9 1136.2,415.9 1137.3,415.9 1138.4,415.9 1139.5,415.9 1140.7,415.9 1141.8,415.9 1142.9,415.9 1144,415.9 1145.1,415.9 1146.2,415.9 1147.4,415.9 1148.5,415.9 1149.6,415.9 1150.7,415.9 1151.8,415.9 1152.9,415.9 1154.1,415.9 1155.2,415.9 1156.3,415.9 1157.4,415.9 1158.5,415.9 1159.7,415.9 1160.8,415.9 1161.9,415.9 1163,415.9 1164.1,415.9 1165.2,415.9 1166.4,415.9 1167.5,415.9 1168.6,415.9 1169.7,415.9 1170.8,415.9 1172,415.9 1173.1,415.9 1174.2,415.9 1175.3,415.9 1176.4,415.9 1177.5,415.9 1178.7,415.9 1179.8,415.9 1180.9,415.9 1182,415.9 1183.1,415.9 1184.2,415.9 1185.4,415.9 1186.5,415.9 1187.6,415.9" stroke="#0000ff"/>
<polyline points="740.5,411.6 741.6,411.5 742.7,411.4 743.9,411.4 745,411.3 746.1,411.1 747.2,411 748.3,410.9 749.4,410.8 750.6,410.7 751.7,410.6 752.8,410.4 753.9,410.3 755,410.1 756.1,410 757.3,409.8 758.4,409.7 759.5,409.5 760.6,409.4 761.7,409.2 762.9,409 764,408.8 765.1,408.6 766.2,408.5 767.3,408.2 768.4,408 769.6,407.8 770.7,407.6 771.8,407.3 772.9,407.1 774,406.8 775.2,406.6 776.3,406.3 777.4,406 778.5,405.7 779.6,405.4 780.7,405.1 781.9,404.8 783,404.4 784.1,404.1 785.2,403.7 786.3,403.4 787.4,402.9 788.6,402.5 789.7,402 790.8,401.5 791.9,400.9 793,400.3 794.2,399.7 795.3,399 796.4,398.3 797.5,397.5 798.6,396.6 799.7,395.6 800.9,394.5 802,393.2 803.1,391.8 804.2,390.3 805.3,388.7 806.4,387 807.6,385.1 808.7,383 809.8,380.5 810.9,377.7 812,374.6 813.2,371.5 814.3,368.3 815.4,365.2 816.5,362.2 817.6,359.1 818.7,356 819.9,352.7 821,349.1 822.1,345.2 823.2,340.7 824.3,335.4 825.4,329.4 826.6,323 827.7,316.4 828.8,309.8 829.9,302.9 831,295.7 832.2,288.2 833.3,280.7 834.4,273 835.5,265.5 836.6,258 837.7,250.5 838.9,243 840,235.5 841.1,228 842.2,220.3 843.3,212.6 844.5,204.9 845.6,197.2 846.7,189.5 847.8,181.6 848.9,173.5 850,165.1 851.2,156 852.3,145.2 853.4,134.2 854.5,125.4 855.6,118.8 856.7,113.2 857.9,108.8 859,105.6 860.1,103 861.2,100.9 862.3,99.6 863.5,98.6 864.6,97.9 865.7,97.4 866.8,97.5 867.9,98 869,98.8 870.2,99.7 871.3,100.9 872.4,102.7 873.5,104.9 874.6,107.4 875.7,110.7 876.9,115.1 878,120.1 879.1,125.4 880.2,131.2 881.3,137.6 882.5,144.5 883.6,151.7 884.7,158.9 885.8,166.2 886.9,173.8 888,181.5 889.2,189.4 890.3,197.3 891.4,205 892.5,212.5 893.6,219.9 894.7,227.1 895.9,234.3 897,241.5 898.1,248.6 899.2,255.9 900.3,263.2 901.5,270.7 902.6,278.5 903.7,286.2 904.8,293.9 905.9,301.3 907,308.5 908.2,315.1 909.3,321.7 910.4,328.2 911.5,334.7 912.6,341 913.8,346.9 914.9,352.5 916,357.5 917.1,361.9 918.2,365.6 919.3,369 920.5,372.2 921.6,375.2 922.7,377.9 923.8,380.5 924.9,382.9 926,385.1 927.2,387.1 928.3,389 929.4,390.6 930.5,392.1 931.6,393.6 932.8,395 933.9,396.3 935,397.5 936.1,398.7 937.2,399.7 938.3,400.7 939.5,401.6 940.6,402.4 941.7,403.1 942.8,403.8 943.9,404.4 945,405.1 946.2,405.7 947.3,406.2 948.4,406.8 949.5,407.3 950.6,407.8 951.8,408.2 952.9,408.7 954,409.1 955.1,409.5 956.2,409.8 957.3,410.1 958.5,410.4 959.6,410.7 960.7,410.9 961.8,411.1 962.9,411.3 964,411.5 965.2,411.7 966.3,411.9 967.4,412.1 968.5,412.2 969.6,412.4 970.8,412.6 971.9,412.7 973,412.9 974.1,413 975.2,413.1 976.3,413.2 977.5,413.3 978.6,413.5 979.7,413.6 980.8,413.6 981.9,413.7 983.1,413.8 984.2,413.9 985.3,413.9 986.4,414 987.5,414.1 988.6,414.1 989.8,414.2 990.9,414.3 992,414.3 993.1,414.4 994.2,414.4 995.3,414.5 996.5,414.5 997.6,414.6 998.7,414.6 999.8,414.7 1000.9,414.7 1002.1,414.8 1003.2,414.8 1004.3,414.9 1005.4,414.9 1006.5,414.9 1007.6,415 1008.8,415 1009.9,415.1 1011,415.1 1012.1,415.1 1013.2,415.2 1014.3,415.2 1015.5,415.2 1016.6,415.3 1017.7,415.3 1018.8,415.3 1019.9,415.3 1021.1,415.4 1022.2,415.4 1023.3,415.4 1024.4,415.4 1025.5,415.4 1026.6,415.4 1027.8,415.5 1028.9,415.5 1030,415.5 1031.1,415.5 1032.2,415.5 1033.4,415.5 1034.5,415.5 1035.6,415.5 1036.7,415.5 1037.8,415.5 1038.9,415.5 1040.1,415.5 1041.2,415.5 1042.3,415.5 1043.4,415.6 1044.5,415.6 1045.6,415.6 1046.8,415.6 1047.9,415.6 1049,415.6 1050.1,415.6 1051.2,415.6 1052.4,415.6 1053.5,415.6 1054.6,415.6 1055.7,415.6 1056.8,415.6 1057.9,415.6 1059.1,415.6 1060.2,415.6 1061.3,415.6 1062.4,415.6 1063.5,415.6 1064.6,415.6 1065.8,415.7 1066.9,415.7 1068,415.7 1069.1,415.7 1070.2,415.7 1071.4,415.7 1072.5,415.7 1073.6,415.7 1074.7,415.7 1075.8,415.7 1076.9,415.7 1078.1,415.7 1079.2,415.7 1080.3,415.7 1081.4,415.7 1082.5,415.7 1083.6,415.7 1084.8,415.7 1085.9,415.7 1087,415.7 1088.1,415.7 1089.2,415.7 1090.4,415.7 1091.5,415.7 1092.6,415.7 1093.7,415.7 1094.8,415.7 1095.9,415.8 1097.1,415.8 1098.2,415.8 1099.3,415.8 1100.4,415.8 1101.5,415.8 1102.7,415.8 1103.8,415.8 1104.9,415.8 1106,415.8 1107.1,415.8 1108.2,415.8 1109.4,415.8 1110.5,415.8 1111.6,415.8 1112.7,415.8 1113.8,415.8 1114.9,415.8 1116.1,415.8 1117.2,415.8 1118.3,415.8 1119.4,415.8 1120.5,415.8 1121.7,415.8 1122.8,415.8 1123.9,415.8 1125,415.8 1126.1,415.8 1127.2,415.8 1128.4,415.8 1129.5,415.8 1130.6,415.8 1131.7,415.8 1132.8,415.8 1133.9,415.8 1135.1,415.8 1136.2,415.8 1137.3,415.8 1138.4,415.8 1139.5,415.8 1140.7,415.8 1141.8,415.8 1142.9,415.8 1144,415.8 1145.1,415.8 1146.2,415.9 1147.4,415.9 1148.5,415.9 1149.6,415.9 1150.7,415.9 1151.8,415.9 1152.9,415.9 1154.1,415.9 1155.2,415.9 1156.3,415.9 1157.4,415.9 1158.5,415.9 1159.7,415.9 1160.8,415.9 1161.9,415.9 1163,415.9 1164.1,415.9 1165.2,415.9 1166.4,415.9 1167.5,415.9 1168.6,415.9 1169.7,415.9 1170.8,415.9 1172,415.9 1173.1,415.9 1174.2,415.9 1175.3,415.9 1176.4,415.9 1177.5,415.9 1178.7,415.9 1179.8,415.9 1180.9,415.9 1182,415.9 1183.1,415.9 1184.2,415.9 1185.4,415.9 1186.5,415.9 1187.6,415.9" stroke="#00ff00"/>
<polyline points="740.5,414.2 741.6,414.2 742.7,414.2 743.9,414.2 745,414.2 746.1,414.1 747.2,414.1 748.3,414.1 749.4,414.1 750.6,414.1 751.7,414.1 752.8,414.1 753.9,414.1 755,414.1 756.1,414 757.3,414 758.4,414 759.5,414 760.6,414 761.7,414 762.9,414 764,414 765.1,414 766.2,414 767.3,414 768.4,413.9 769.6,413.9 770.7,413.9 771.8,413.9 772.9,413.9 774,413.9 775.2,413.9 776.3,413.9 777.4,413.9 778.5,413.9 779.6,413.9 780.7,413.9 781.9,413.8 783,413.8 784.1,413.8 785.2,413.8 786.3,413.8 787.4,413.8 788.6,413.8 789.7,413.8 790.8,413.8 791.9,413.8 793,413.8 794.2,413.8 795.3,413.7 796.4,413.7 797.5,413.7 798.6,413.7 799.7,413.7 800.9,413.7 802,413.7 803.1,413.7 804.2,413.7 805.3,413.7 806.4,413.6 807.6,413.6 808.7,413.6 809.8,413.6 810.9,413.6 812,413.6 813.2,413.6 814.3,413.6 815.4,413.5 816.5,413.5 817.6,413.5 818.7,413.5 819.9,413.5 821,413.5 822.1,413.5 823.2,413.4 824.3,413.4 825.4,413.4 826.6,413.4 827.7,413.4 828.8,413.4 829.9,413.4 831,413.3 832.2,413.3 833.3,413.3 834.4,413.3 835.5,413.3 836.6,413.2 837.7,413.2 838.9,413.2 840,413.2 841.1,413.2 842.2,413.1 843.3,413.1 844.5,413.1 845.6,413.1 846.7,413 847.8,413 848.9,413 850,413 851.2,412.9 852.3,412.9 853.4,412.9 854.5,412.8 855.6,412.8 856.7,412.7 857.9,412.7 859,412.6 860.1,412.5 861.2,412.4 862.3,412.4 863.5,412.3 864.6,412.2 865.7,412.1 866.8,412 867.9,411.9 869,411.7 870.2,411.6 871.3,411.5 872.4,411.4 873.5,411.3 874.6,411.2 875.7,411 876.9,410.9 878,410.7 879.1,410.6 880.2,410.4 881.3,410.3 882.5,410.1 883.6,409.9 884.7,409.7 885.8,409.5 886.9,409.3 888,409 889.2,408.8 890.3,408.6 891.4,408.3 892.5,408 893.6,407.7 894.7,407.4 895.9,407.1 897,406.7 898.1,406.3 899.2,405.8 900.3,405.4 901.5,404.9 902.6,404.4 903.7,403.8 904.8,403.2 905.9,402.6 907,401.9 908.2,401.2 909.3,400.4 910.4,399.5 911.5,398.6 912.6,397.6 913.8,396.6 914.9,395.6 916,394.5 917.1,393.3 918.2,392 919.3,390.6 920.5,389 921.6,387.3 922.7,385.6 923.8,383.7 924.9,381.8 926,379.8 927.2,377.8 928.3,375.6 929.4,373.2 930.5,370.7 931.6,367.9 932.8,364.9 933.9,361.6 935,357.9 936.1,353.8 937.2,349.3 938.3,344.5 939.5,339.2 940.6,333.6 941.7,326.9 942.8,319.2 943.9,310.3 945,299.5 946.2,287.3 947.3,274.7 948.4,262.8 949.5,252 950.6,241.5 951.8,231.3 952.9,221.3 954,211.3 955.1,201.1 956.2,190.8 957.3,180.6 958.5,170.9 959.6,162.1 960.7,154.2 961.8,146.8 962.9,139.7 964,133 965.2,126.7 966.3,120.6 967.4,114.9 968.5,109.5 969.6,104.2 970.8,98.8 971.9,94.3 973,91.6 974.1,89.9 975.2,88.6 976.3,87.7 977.5,87.5 978.6,87.9 979.7,88.9 980.8,90.2 981.9,91.7 983.1,93.5 984.2,95.9 985.3,98.7 986.4,101.9 987.5,105.3 988.6,108.9 989.8,113 990.9,117.5 992,122.5 993.1,127.9 994.2,133.6 995.3,139.6 996.5,145.8 997.6,152.3 998.7,158.9 999.8,165.7 1000.9,172.9 1002.1,180.6 1003.2,188.8 1004.3,197.7 1005.4,207.3 1006.5,218.2 1007.6,231.5 1008.8,245.4 1009.9,258.3 1011,269.1 1012.1,279.3 1013.2,288.9 1014.3,297.8 1015.5,306.2 1016.6,313.9 1017.7,321.2 1018.8,328.4 1019.9,335.2 1021.1,341.8 1022.2,347.9 1023.3,353.6 1024.4,358.7 1025.5,363.3 1026.6,367.4 1027.8,371.2 1028.9,374.9 1030,378.3 1031.1,381.5 1032.2,384.3 1033.4,386.8 1034.5,389 1035.6,390.8 1036.7,392.4 1037.8,393.9 1038.9,395.3 1040.1,396.6 1041.2,397.8 1042.3,398.9 1043.4,399.9 1044.5,400.9 1045.6,401.7 1046.8,402.5 1047.9,403.2 1049,403.9 1050.1,404.5 1051.2,405.1 1052.4,405.7 1053.5,406.3 1054.6,406.9 1055.7,407.4 1056.8,407.9 1057.9,408.4 1059.1,408.8 1060.2,409.2 1061.3,409.6 1062.4,409.9 1063.5,410.2 1064.6,410.5 1065.8,410.7 1066.9,410.9 1068,411.1 1069.1,411.3 1070.2,411.4 1071.4,411.6 1072.5,411.8 1073.6,411.9 1074.7,412.1 1075.8,412.2 1076.9,412.4 1078.1,412.5 1079.2,412.7 1080.3,412.8 1081.4,412.9 1082.5,413 1083.6,413.1 1084.8,413.2 1085.9,413.3 1087,413.4 1088.1,413.5 1089.2,413.6 1090.4,413.7 1091.5,413.7 1092.6,413.8 1093.7,413.8 1094.8,413.9 1095.9,413.9 1097.1,413.9 1098.2,413.9 1099.3,414 1100.4,414 1101.5,414 1102.7,414 1103.8,414 1104.9,414 1106,414 1107.1,414 1108.2,414.1 1109.4,414.1 1110.5,414.1 1111.6,414.1 1112.7,414.1 1113.8,414.1 1114.9,414.1 1116.1,414.1 1117.2,414.1 1118.3,414.1 1119.4,414.1 1120.5,414.2 1121.7,414.2 1122.8,414.2 1123.9,414.2 1125,414.2 1126.1,414.2 1127.2,414.2 1128.4,414.2 1129.5,414.2 1130.6,414.2 1131.7,414.2 1132.8,414.2 1133.9,414.2 1135.1,414.2 1136.2,414.2 1137.3,414.2 1138.4,414.2 1139.5,414.3 1140.7,414.3 1141.8,414.3 1142.9,414.3 1144,414.3 1145.1,414.3 1146.2,414.3 1147.4,414.3 1148.5,414.3 1149.6,414.3 1150.7,414.3 1151.8,414.3 1152.9,414.3 1154.1,414.3 1155.2,414.3 1156.3,414.3 1157.4,414.3 1158.5,414.3 1159.7,414.3 1160.8,414.3 1161.9,414.3 1163,414.3 1164.1,414.3 1165.2,414.3 1166.4,414.3 1167.5,414.4 1168.6,414.4 1169.7,414.4 1170.8,414.4 1172,414.4 1173.1,414.4 1174.2,414.4 1175.3,414.4 1176.4,414.4 1177.5,414.4 1178.7,414.4 1179.8,414.4 1180.9,414.4 1182,414.4 1183.1,414.4 1184.2,414.4 1185.4,414.4 1186.5,414.4 1187.6,414.5" stroke="#ff0000"/>
<polyline points="740.5,229.3 741.6,225.6 742.7,221.9 743.9,218.4 745,215.4 746.1,212.8 747.2,210.5 748.3,208.3 749.4,206.3 750.6,204.2 751.7,202.2 752.8,200.3 753.9,198.4 755,196.7 756.1,195.2 757.3,193.9 758.4,192.8 759.5,191.7 760.6,190.6 761.7,189.5 762.9,188.4 764,187.4 765.1,186.5 766.2,185.6 767.3,184.8 768.4,184.1 769.6,183.5 770.7,183.1 771.8,182.7 772.9,182.5 774,182.5 775.2,182.7 776.3,183 777.4,183.5 778.5,184.2 779.6,185.1 780.7,186 781.9,187.1 783,188.3 784.1,189.6 785.2,190.9 786.3,192.4 787.4,193.8 788.6,195.7 789.7,198.3 790.8,201.4 791.9,204.7 793,208 794.2,211.2 795.3,214.5 796.4,217.8 797.5,221.2 798.6,224.7 799.7,228.3 800.9,231.8 802,235.4 803.1,239 804.2,242.7 805.3,246.3 806.4,249.9 807.6,253.4 808.7,257 809.8,260.9 810.9,265.2 812,269.8 813.2,274.6 814.3,279.7 815.4,285 816.5,290.3 817.6,295.7 818.7,301.1 819.9,306.4 821,311.6 822.1,316.8 823.2,322.2 824.3,327.5 825.4,332.7 826.6,337.2 827.7,341.1 828.8,344.8 829.9,348.2 831,351.4 832.2,354.5 833.3,357.3 834.4,360 835.5,362.6 836.6,365 837.7,367.4 838.9,369.8 840,372.1 841.1,374.3 842.2,376.5 843.3,378.6 844.5,380.6 845.6,382.5 846.7,384.3 847.8,385.9 848.9,387.4 850,388.8 851.2,390.1 852.3,391.2 853.4,392.2 854.5,393.2 855.6,394.1 856.7,395 857.9,395.9 859,396.7 860.1,397.5 861.2,398.2 862.3,398.9 863.5,399.6 864.6,400.2 865.7,400.9 866.8,401.5 867.9,402 869,402.6 870.2,403.1 871.3,403.7 872.4,404.2 873.5,404.7 874.6,405.2 875.7,405.7 876.9,406.2 878,406.7 879.1,407.2 880.2,407.6 881.3,408.1 882.5,408.5 883.6,408.9 884.7,409.2 885.8,409.6 886.9,409.9 888,410.2 889.2,410.4 890.3,410.7 891.4,410.9 892.5,411 893.6,411.2 894.7,411.4 895.9,411.5 897,411.7 898.1,411.8 899.2,412 900.3,412.1 901.5,412.3 902.6,412.4 903.7,412.6 904.8,412.7 905.9,412.8 907,413 908.2,413.1 909.3,413.2 910.4,413.3 911.5,413.4 912.6,413.5 913.8,413.6 914.9,413.7 916,413.8 917.1,413.9 918.2,413.9 919.3,414 920.5,414.1 921.6,414.2 922.7,414.2 923.8,414.3 924.9,414.3 926,414.4 927.2,414.4 928.3,414.4 929.4,414.4 930.5,414.5 931.6,414.5 932.8,414.5 933.9,414.5 935,414.5 936.1,414.5 937.2,414.5 938.3,414.6 939.5,414.6 940.6,414.6 941.7,414.6 942.8,414.6 943.9,414.6 945,414.6 946.2,414.7 947.3,414.7 948.4,414.7 949.5,414.7 950.6,414.7 951.8,414.7 952.9,414.7 954,414.8 955.1,414.8 956.2,414.8 957.3,414.8 958.5,414.8 959.6,414.8 960.7,414.8 961.8,414.8 962.9,414.9 964,414.9 965.2,414.9 966.3,414.9 967.4,414.9 968.5,414.9 969.6,414.9 970.8,414.9 971.9,414.9 973,415 974.1,415 975.2,415 976.3,415 977.5,415 978.6,415 979.7,415 980.8,415 981.9,415 983.1,415.1 984.2,415.1 985.3,415.1 986.4,415.1 987.5,415.1 988.6,415.1 989.8,415.1 990.9,415.1 992,415.1 993.1,415.1 994.2,415.2 995.3,415.2 996.5,415.2 997.6,415.2 998.7,415.2 999.8,415.2 1000.9,415.2 1002.1,415.2 1003.2,415.2 1004.3,415.2 1005.4,415.2 1006.5,415.3 1007.6,415.3 1008.8,415.3 1009.9,415.3 1011,415.3 1012.1,415.3 1013.2,415.3 1014.3,415.3 1015.5,415.3 1016.6,415.3 1017.7,415.3 1018.8,415.3 1019.9,415.4 1021.1,415.4 1022.2,415.4 1023.3,415.4 1024.4,415.4 1025.5,415.4 1026.6,415.4 1027.8,415.4 1028.9,415.4 1030,415.4 1031.1,415.4 1032.2,415.4 1033.4,415.4 1034.5,415.4 1035.6,415.5 1036.7,415.5 1037.8,415.5 1038.9,415.5 1040.1,415.5 1041.2,415.5 1042.3,415.5 1043.4,415.5 1044.5,415.5 1045.6,415.5 1046.8,415.5 1047.9,415.5 1049,415.5 1050.1,415.5 1051.2,415.5 1052.4,415.5 1053.5,415.5 1054.6,415.6 1055.7,415.6 1056.8,415.6 1057.9,415.6 1059.1,415.6 1060.2,415.6 1061.3,415.6 1062.4,415.6 1063.5,415.6 1064.6,415.6 1065.8,415.6 1066.9,415.6 1068,415.6 1069.1,415.6 1070.2,415.6 1071.4,415.6 1072.5,415.6 1073.6,415.6 1074.7,415.6 1075.8,415.7 1076.9,415.7 1078.1,415.7 1079.2,415.7 1080.3,415.7 1081.4,415.7 1082.5,415.7 1083.6,415.7 1084.8,415.7 1085.9,415.7 1087,415.7 1088.1,415.7 1089.2,415.7 1090.4,415.7 1091.5,415.7 1092.6,415.7 1093.7,415.7 1094.8,415.7 1095.9,415.7 1097.1,415.7 1098.2,415.7 1099.3,415.7 1100.4,415.7 1101.5,415.7 1102.7,415.7 1103.8,415.7 1104.9,415.7 1106,415.8 1107.1,415.8 1108.2,415.8 1109.4,415.8 1110.5,415.8 1111.6,415.8 1112.7,415.8 1113.8,415.8 1114.9,415.8 1116.1,415.8 1117.2,415.8 1118.3,415.8 1119.4,415.8 1120.5,415.8 1121.7,415.8 1122.8,415.8 1123.9,415.8 1125,415.8 1126.1,415.8 1127.2,415.8 1128.4,415.8 1129.5,415.8 1130.6,415.8 1131.7,415.8 1132.8,415.8 1133.9,415.8 1135.1,415.8 1136.2,415.8 1137.3,415.8 1138.4,415.8 1139.5,415.8 1140.7,415.8 1141.8,415.8 1142.9,415.8 1144,415.8 1145.1,415.8 1146.2,415.8 1147.4,415.8 1148.5,415.8 1149.6,415.8 1150.7,415.8 1151.8,415.9 1152.9,415.9 1154.1,415.9 1155.2,415.9 1156.3,415.9 1157.4,415.9 1158.5,415.9 1159.7,415.9 1160.8,415.9 1161.9,415.9 1163,415.9 1164.1,415.9 1165.2,415.9 1166.4,415.9 1167.5,415.9 1168.6,415.9 1169.7,415.9 1170.8,415.9 1172,415.9 1173.1,415.9 1174.2,415.9 1175.3,415.9 1176.4,415.9 1177.5,415.9 1178.7,415.9 1179.8,415.9 1180.9,415.9 1182,415.9 1183.1,415.9 1184.2,415.9 1185.4,415.9 1186.5,415.9 1187.6,415.9" stroke="#0000ff" stroke-dasharray="7.5 5"/>
<polyline points="740.5,406.9 741.6,406.8 742.7,406.6 743.9,406.4 745,406.2 746.1,406 747.2,405.7 748.3,405.5 749.4,405.3 750.6,405 751.7,404.8 752.8,404.5 753.9,404.2 755,404 756.1,403.7 757.3,403.4 758.4,403.1 759.5,402.8 760.6,402.4 761.7,402.1 762.9,401.7 764,401.4 765.1,401 766.2,400.6 767.3,400.2 768.4,399.7 769.6,399.3 770.7,398.8 771.8,398.4 772.9,397.9 774,397.4 775.2,396.8 776.3,396.3 777.4,395.7 778.5,395.1 779.6,394.5 780.7,393.9 781.9,393.2 783,392.6 784.1,391.9 785.2,391.2 786.3,390.4 787.4,389.6 788.6,388.6 789.7,387.7 790.8,386.6 791.9,385.5 793,384.3 794.2,383.1 795.3,381.8 796.4,380.4 797.5,379 798.6,377.4 799.7,375.7 800.9,373.8 802,371.8 803.1,369.6 804.2,367.3 805.3,364.9 806.4,362.5 807.6,359.9 808.7,357.3 809.8,354.5 810.9,351.5 812,348.3 813.2,345 814.3,341.5 815.4,337.8 816.5,333.9 817.6,329.5 818.7,324.6 819.9,319.6 821,314.6 822.1,309.9 823.2,305.2 824.3,300.6 825.4,296.1 826.6,291.5 827.7,287 828.8,282.5 829.9,277.9 831,273.4 832.2,268.7 833.3,264.1 834.4,259.3 835.5,254.6 836.6,249.9 837.7,245.2 838.9,240.5 840,235.7 841.1,230.8 842.2,225.8 843.3,220.8 844.5,215.6 845.6,210.3 846.7,204.4 847.8,197.8 848.9,190.8 850,183.7 851.2,176.8 852.3,170.4 853.4,165 854.5,160.7 855.6,157.8 856.7,155.3 857.9,152.9 859,150.6 860.1,148.6 861.2,146.7 862.3,145.2 863.5,143.9 864.6,143 865.7,142.5 866.8,142.4 867.9,142.7 869,143.4 870.2,144.4 871.3,145.6 872.4,147.2 873.5,148.9 874.6,150.7 875.7,152.7 876.9,154.8 878,156.9 879.1,159.1 880.2,161.5 881.3,164.4 882.5,167.8 883.6,171.5 884.7,175.5 885.8,179.8 886.9,184.2 888,188.8 889.2,193.4 890.3,198 891.4,202.5 892.5,206.9 893.6,211.1 894.7,215.2 895.9,219.2 897,223.2 898.1,227.2 899.2,231.2 900.3,235.3 901.5,239.5 902.6,243.8 903.7,248.2 904.8,252.8 905.9,257.7 907,262.8 908.2,268.4 909.3,274.6 910.4,281.2 911.5,287.9 912.6,294.7 913.8,301.2 914.9,307.5 916,313.1 917.1,318.5 918.2,323.8 919.3,329.1 920.5,334.2 921.6,339.3 922.7,344.1 923.8,348.7 924.9,353 926,357 927.2,360.7 928.3,364 929.4,366.9 930.5,369.7 931.6,372.4 932.8,375 933.9,377.4 935,379.7 936.1,381.9 937.2,383.9 938.3,385.7 939.5,387.4 940.6,388.9 941.7,390.3 942.8,391.5 943.9,392.7 945,393.9 946.2,395 947.3,396 948.4,397 949.5,397.9 950.6,398.8 951.8,399.6 952.9,400.4 954,401.1 955.1,401.8 956.2,402.3 957.3,402.9 958.5,403.3 959.6,403.8 960.7,404.2 961.8,404.6 962.9,404.9 964,405.3 965.2,405.7 966.3,406 967.4,406.3 968.5,406.6 969.6,406.9 970.8,407.2 971.9,407.5 973,407.7 974.1,408 975.2,408.2 976.3,408.5 977.5,408.7 978.6,408.9 979.7,409.1 980.8,409.3 981.9,409.5 983.1,409.7 984.2,409.9 985.3,410.1 986.4,410.3 987.5,410.5 988.6,410.7 989.8,410.9 990.9,411.1 992,411.3 993.1,411.5 994.2,411.6 995.3,411.8 996.5,412 997.6,412.1 998.7,412.3 999.8,412.5 1000.9,412.6 1002.1,412.7 1003.2,412.9 1004.3,413 1005.4,413.1 1006.5,413.2 1007.6,413.3 1008.8,413.4 1009.9,413.4 1011,413.5 1012.1,413.6 1013.2,413.6 1014.3,413.7 1015.5,413.7 1016.6,413.8 1017.7,413.8 1018.8,413.9 1019.9,414 1021.1,414 1022.2,414.1 1023.3,414.1 1024.4,414.2 1025.5,414.2 1026.6,414.3 1027.8,414.3 1028.9,414.4 1030,414.4 1031.1,414.4 1032.2,414.5 1033.4,414.5 1034.5,414.6 1035.6,414.6 1036.7,414.7 1037.8,414.7 1038.9,414.7 1040.1,414.8 1041.2,414.8 1042.3,414.8 1043.4,414.9 1044.5,414.9 1045.6,414.9 1046.8,415 1047.9,415 1049,415 1050.1,415.1 1051.2,415.1 1052.4,415.1 1053.5,415.1 1054.6,415.2 1055.7,415.2 1056.8,415.2 1057.9,415.2 1059.1,415.3 1060.2,415.3 1061.3,415.3 1062.4,415.3 1063.5,415.3 1064.6,415.4 1065.8,415.4 1066.9,415.4 1068,415.4 1069.1,415.4 1070.2,415.4 1071.4,415.4 1072.5,415.5 1073.6,415.5 1074.7,415.5 1075.8,415.5 1076.9,415.5 1078.1,415.5 1079.2,415.5 1080.3,415.5 1081.4,415.5 1082.5,415.5 1083.6,415.5 1084.8,415.5 1085.9,415.6 1087,415.6 1088.1,415.6 1089.2,415.6 1090.4,415.6 1091.5,415.6 1092.6,415.6 1093.7,415.6 1094.8,415.6 1095.9,415.6 1097.1,415.6 1098.2,415.6 1099.3,415.6 1100.4,415.6 1101.5,415.6 1102.7,415.6 1103.8,415.7 1104.9,415.7 1106,415.7 1107.1,415.7 1108.2,415.7 1109.4,415.7 1110.5,415.7 1111.6,415.7 1112.7,415.7 1113.8,415.7 1114.9,415.7 1116.1,415.7 1117.2,415.7 1118.3,415.7 1119.4,415.7 1120.5,415.7 1121.7,415.7 1122.8,415.7 1123.9,415.7 1125,415.8 1126.1,415.8 1127.2,415.8 1128.4,415.8 1129.5,415.8 1130.6,415.8 1131.7,415.8 1132.8,415.8 1133.9,415.8 1135.1,415.8 1136.2,415.8 1137.3,415.8 1138.4,415.8 1139.5,415.8 1140.7,415.8 1141.8,415.8 1142.9,415.8 1144,415.8 1145.1,415.8 1146.2,415.8 1147.4,415.8 1148.5,415.8 1149.6,415.8 1150.7,415.8 1151.8,415.8 1152.9,415.8 1154.1,415.8 1155.2,415.8 1156.3,415.8 1157.4,415.8 1158.5,415.9 1159.7,415.9 1160.8,415.9 1161.9,415.9 1163,415.9 1164.1,415.9 1165.2,415.9 1166.4,415.9 1167.5,415.9 1168.6,415.9 1169.7,415.9 1170.8,415.9 1172,415.9 1173.1,415.9 1174.2,415.9 1175.3,415.9 1176.4,415.9 1177.5,415.9 1178.7,415.9 1179.8,415.9 1180.9,415.9 1182,415.9 1183.1,415.9 1184.2,415.9 1185.4,415.9 1186.5,415.9 1187.6,415.9" stroke="#00ff00" stroke-dasharray="7.5 5"/>
<polyline points="740.5,413.7 741.6,413.7 742.7,413.7 743.9,413.6 745,413.6 746.1,413.6 747.2,413.6 748.3,413.6 749.4,413.6 750.6,413.6 751.7,413.6 752.8,413.6 753.9,413.5 755,413.5 756.1,413.5 757.3,413.5 758.4,413.5 759.5,413.5 760.6,413.5 761.7,413.5 762.9,413.5 764,413.5 765.1,413.5 766.2,413.4 767.3,413.4 768.4,413.4 769.6,413.4 770.7,413.4 771.8,413.4 772.9,413.4 774,413.4 775.2,413.4 776.3,413.4 777.4,413.4 778.5,413.4 779.6,413.3 780.7,413.3 781.9,413.3 783,413.3 784.1,413.3 785.2,413.3 786.3,413.3 787.4,413.3 788.6,413.3 789.7,413.3 790.8,413.3 791.9,413.2 793,413.2 794.2,413.2 795.3,413.2 796.4,413.2 797.5,413.2 798.6,413.2 799.7,413.2 800.9,413.2 802,413.2 803.1,413.1 804.2,413.1 805.3,413.1 806.4,413.1 807.6,413.1 808.7,413.1 809.8,413.1 810.9,413.1 812,413.1 813.2,413 814.3,413 815.4,413 816.5,413 817.6,413 818.7,413 819.9,413 821,413 822.1,412.9 823.2,412.9 824.3,412.9 825.4,412.9 826.6,412.9 827.7,412.9 828.8,412.8 829.9,412.8 831,412.8 832.2,412.8 833.3,412.8 834.4,412.8 835.5,412.7 836.6,412.7 837.7,412.7 838.9,412.7 840,412.7 841.1,412.6 842.2,412.6 843.3,412.6 844.5,412.6 845.6,412.5 846.7,412.5 847.8,412.5 848.9,412.5 850,412.5 851.2,412.4 852.3,412.4 853.4,412.4 854.5,412.3 855.6,412.3 856.7,412.2 857.9,412.2 859,412.1 860.1,412.1 861.2,412 862.3,411.9 863.5,411.9 864.6,411.8 865.7,411.7 866.8,411.6 867.9,411.5 869,411.4 870.2,411.3 871.3,411.2 872.4,411.1 873.5,411 874.6,410.9 875.7,410.7 876.9,410.6 878,410.4 879.1,410.3 880.2,410.1 881.3,409.9 882.5,409.6 883.6,409.4 884.7,409.2 885.8,408.9 886.9,408.6 888,408.3 889.2,408 890.3,407.7 891.4,407.4 892.5,407 893.6,406.6 894.7,406.2 895.9,405.8 897,405.4 898.1,405 899.2,404.6 900.3,404.1 901.5,403.6 902.6,403.1 903.7,402.6 904.8,402.1 905.9,401.4 907,400.6 908.2,399.7 909.3,398.7 910.4,397.7 911.5,396.6 912.6,395.4 913.8,394.3 914.9,393.1 916,391.9 917.1,390.7 918.2,389.5 919.3,388.2 920.5,386.9 921.6,385.5 922.7,384 923.8,382.4 924.9,380.7 926,378.9 927.2,377 928.3,375 929.4,372.7 930.5,370.3 931.6,367.7 932.8,364.9 933.9,361.7 935,358.2 936.1,354.2 937.2,349.9 938.3,345.2 939.5,340.2 940.6,334.7 941.7,328.4 942.8,320.9 943.9,313.1 945,305 946.2,296.4 947.3,287.4 948.4,278.5 949.5,269.8 950.6,261.7 951.8,254 952.9,246.6 954,239.3 955.1,232.3 956.2,225.7 957.3,219.4 958.5,213.9 959.6,207.2 960.7,197.8 961.8,189.6 962.9,183.8 964,178.7 965.2,173.1 966.3,168.1 967.4,165 968.5,162.6 969.6,160.7 970.8,159.6 971.9,158.7 973,157.9 974.1,157.2 975.2,156.7 976.3,156.4 977.5,156.3 978.6,156.5 979.7,157.1 980.8,157.9 981.9,158.9 983.1,160 984.2,161.2 985.3,162.5 986.4,163.8 987.5,165 988.6,166.1 989.8,167 990.9,168 992,168.9 993.1,169.8 994.2,170.7 995.3,171.7 996.5,172.7 997.6,173.8 998.7,175 999.8,176.3 1000.9,177.7 1002.1,179.3 1003.2,181.3 1004.3,183.6 1005.4,186.1 1006.5,188.7 1007.6,191.7 1008.8,195 1009.9,198.5 1011,202.2 1012.1,206 1013.2,210.3 1014.3,215.4 1015.5,222.7 1016.6,231.3 1017.7,238.8 1018.8,245.9 1019.9,252.6 1021.1,259.2 1022.2,265.5 1023.3,271.6 1024.4,277.6 1025.5,283.4 1026.6,289.1 1027.8,294.8 1028.9,300.4 1030,305.9 1031.1,311.5 1032.2,317.1 1033.4,323 1034.5,329 1035.6,335 1036.7,340.9 1037.8,346.6 1038.9,352 1040.1,356.9 1041.2,361.2 1042.3,364.9 1043.4,368.2 1044.5,371.2 1045.6,374.1 1046.8,376.8 1047.9,379.3 1049,381.7 1050.1,383.9 1051.2,385.9 1052.4,387.8 1053.5,389.5 1054.6,391.1 1055.7,392.6 1056.8,394 1057.9,395.3 1059.1,396.6 1060.2,397.8 1061.3,399 1062.4,400 1063.5,401 1064.6,401.9 1065.8,402.6 1066.9,403.3 1068,404 1069.1,404.6 1070.2,405.3 1071.4,405.8 1072.5,406.4 1073.6,406.9 1074.7,407.5 1075.8,408 1076.9,408.4 1078.1,408.8 1079.2,409.2 1080.3,409.6 1081.4,409.9 1082.5,410.2 1083.6,410.5 1084.8,410.7 1085.9,410.9 1087,411.1 1088.1,411.3 1089.2,411.5 1090.4,411.6 1091.5,411.8 1092.6,412 1093.7,412.1 1094.8,412.3 1095.9,412.4 1097.1,412.5 1098.2,412.6 1099.3,412.8 1100.4,412.9 1101.5,413 1102.7,413.1 1103.8,413.1 1104.9,413.2 1106,413.3 1107.1,413.3 1108.2,413.4 1109.4,413.4 1110.5,413.4 1111.6,413.4 1112.7,413.5 1113.8,413.5 1114.9,413.5 1116.1,413.5 1117.2,413.5 1118.3,413.5 1119.4,413.5 1120.5,413.6 1121.7,413.6 1122.8,413.6 1123.9,413.6 1125,413.6 1126.1,413.6 1127.2,413.6 1128.4,413.6 1129.5,413.6 1130.6,413.6 1131.7,413.7 1132.8,413.7 1133.9,413.7 1135.1,413.7 1136.2,413.7 1137.3,413.7 1138.4,413.7 1139.5,413.7 1140.7,413.7 1141.8,413.7 1142.9,413.7 1144,413.7 1145.1,413.7 1146.2,413.7 1147.4,413.7 1148.5,413.7 1149.6,413.7 1150.7,413.8 1151.8,413.8 1152.9,413.8 1154.1,413.8 1155.2,413.8 1156.3,413.8 1157.4,413.8 1158.5,413.8 1159.7,413.8 1160.8,413.8 1161.9,413.8 1163,413.8 1164.1,413.8 1165.2,413.8 1166.4,413.8 1167.5,413.8 1168.6,413.8 1169.7,413.8 1170.8,413.8 1172,413.8 1173.1,413.8 1174.2,413.9 1175.3,413.9 1176.4,413.9 1177.5,413.9 1178.7,413.9 1179.8,413.9 1180.9,413.9 1182,413.9 1183.1,413.9 1184.2,413.9 1185.4,413.9 1186.5,413.9 1187.6,413.9" stroke="#ff0000" stroke-dasharray="7.5 5"/>
</g>
<text x="732.3" y="423.6" font-size="24" text-anchor="end">0.0</text>
<text x="732.3" y="320.74" font-size="24" text-anchor="end">0.2</text>
<text x="732.3" y="217.88" font-size="24" text-anchor="end">0.4</text>
<text x="732.3" y="115.02" font-size="24" text-anchor="end">0.6</text>
<text x="740.2" y="443" font-size="24" text-anchor="middle">400</text>
<text x="851.98" y="443" font-size="24" text-anchor="middle">500</text>
<text x="963.75" y="443" font-size="24" text-anchor="middle">600</text>
<text x="1075.52" y="443" font-size="24" text-anchor="middle">700</text>
<text x="1187.3" y="443" font-size="24" text-anchor="middle">800</text>
<path d="M740.5 313.14h7M740.5 210.28h7M740.5 107.42h7" stroke="#000" stroke-width="2.6" fill="none"/>
<text x="964.5" y="480.5" font-size="24" text-anchor="middle">λ<tspan dy="5" font-size="16">0</tspan><tspan dy="-5"> (nm)</tspan></text>
<text transform="translate(678.5 225.3) rotate(-90)" font-size="24" text-anchor="middle">T</text>
<text x="1065.6" y="79.2" font-size="18.5">Simulation</text>
<text x="1066" y="194.6" font-size="18.5">Measurement</text>
<path d="M1065 96.2h43" stroke="#0000ff" stroke-width="2.6"/>
<text x="1112.7" y="102" font-size="18.5">Blue</text>
<path d="M1064.5 211.6h41" stroke="#0000ff" stroke-width="2.6" stroke-dasharray="5.8 5.5"/>
<text x="1112.7" y="217.4" font-size="18.5">Blue</text>
<path d="M1065 119.1h43" stroke="#00ff00" stroke-width="2.6"/>
<text x="1112.7" y="124.9" font-size="18.5">Green</text>
<path d="M1064.5 234.65h41" stroke="#00ff00" stroke-width="2.6" stroke-dasharray="5.8 5.5"/>
<text x="1112.7" y="240.45" font-size="18.5">Green</text>
<path d="M1065 142h43" stroke="#ff0000" stroke-width="2.6"/>
<text x="1112.7" y="147.8" font-size="18.5">Red</text>
<path d="M1064.5 257.7h41" stroke="#ff0000" stroke-width="2.6" stroke-dasharray="5.8 5.5"/>
<text x="1112.7" y="263.5" font-size="18.5">Red</text>
<g transform="translate(1270 40) scale(0.18036)">
<clipPath id="cp1"><rect x="83" y="95" width="1822" height="993"/></clipPath>
<g clip-path="url(#cp1)">
<rect x="83" y="95" width="1822" height="993" fill="url(#bg1)"/>
<path d="M200 372H665V775H200Z M790 366H1245V830H800Z M1395 372H1855V800H1395Z" fill="#dedbdd" fill-opacity=".55" stroke="#bdb8ba" stroke-width="3" stroke-opacity=".8"/>
<path d="M270 372L660 372L662 690L640 728L590 758L505 775L495 835L425 835L400 775L205 775L203 470Z" fill="url(#fb1)"/>
<path d="M795 370L1165 372L1240 440Q1228 560 1150 690Q1090 780 1000 810L940 824L930 790L810 760Z" fill="url(#fg1)"/>
<path d="M1470 378L1800 378L1848 470L1856 700L1820 748L1700 765L1690 805L1560 805L1550 765L1400 752L1400 520L1410 470Z" fill="url(#fr1)"/>
<path d="M118 780Q118 765 133 765L320 765L372 782L378 862L492 862L492 795L520 765L700 765L715 778L730 757L900 757L938 790L940 856L1100 856L1100 782L1125 757L1310 757L1323 772L1340 757L1520 757L1552 792L1552 842L1620 842L1635 770L1720 748L1905 748L1905 1052L1730 1052L1730 1088L1490 1088L1490 1052L1130 1052L1130 1088L905 1088L905 1052L545 1052L545 1088L320 1088L320 1055L133 1055Q118 1055 118 1040Z" fill="#0b0b0d"/>
<path d="M715 778V1045M1323 772V1045" stroke="#26262a" stroke-width="5"/>
<rect x="328" y="808" width="18" height="50" fill="#ddd"/><rect x="378" y="815" width="112" height="45" fill="#d8d5d8"/><path d="M378 815L425 815L492 835L492 800L425 795Z" fill="#1515b0"/>
<rect x="1700" y="812" width="14" height="30" fill="#ddd"/><rect x="1555" y="810" width="90" height="30" fill="#d8d5d8"/>
<text x="806" y="998" font-size="104" font-weight="bold" font-style="italic" fill="#606064" stroke="#606064" stroke-width="7" letter-spacing="2">eo</text><text x="952" y="976" font-size="69" font-weight="bold" fill="#70758e">Edmund</text><path d="M960 992h250M960 1010h250" stroke="#363a58" stroke-width="6"/>
<text x="1428" y="1003" font-size="104" font-weight="bold" font-style="italic" fill="#606064" stroke="#606064" stroke-width="7" letter-spacing="2">eo</text><text x="1580" y="970" font-size="69" font-weight="bold" fill="#85858c">Edmund</text>
<rect x="1573" y="968" width="265" height="43" fill="#fff"/>
<text x="1483" y="922" font-size="119" fill="#fff" stroke="#fff" stroke-width="3">1.0 cm</text>
</g>
<text x="120" y="325" font-size="246" font-family="'Liberation Serif','Times New Roman',serif">0</text>
<text x="245" y="244" font-size="200" font-family="'Liberation Serif','Times New Roman',serif">°</text>
</g>
<g transform="translate(1620 40) scale(0.18036)">
<clipPath id="cp2"><rect x="95" y="95" width="1817" height="993"/></clipPath>
<g clip-path="url(#cp2)">
<rect x="95" y="95" width="1817" height="993" fill="url(#bg2)"/>
<path d="M190 405H570V765H190Z M685 360H1110V835H690Z M1265 355H1795V850H1265Z" fill="#dedbdd" fill-opacity=".55" stroke="#bdb8ba" stroke-width="3" stroke-opacity=".8"/>
<path d="M265 400L568 385L568 660L540 712L500 742L430 742L410 768L190 768L190 490Z" fill="url(#fb2)"/>
<path d="M685 378L1040 365L1110 440Q1090 560 1020 670Q960 750 900 782L840 800L800 762L690 748Z" fill="url(#fg2)"/>
<path d="M1340 360L1730 342L1785 440L1790 680L1740 748L1620 752L1600 805L1410 805L1380 752L1265 742L1265 510Z" fill="url(#fr2)"/>
<path d="M108 752L120 742L370 742L410 768L430 742L590 742L598 750L606 742L760 742L795 772L795 836L945 836L945 772L975 742L1165 742L1175 750L1185 742L1380 742L1410 782L1410 852L1590 852L1590 782L1625 745L1860 745L1870 760L1870 1080L1640 1082L1640 1088L1400 1088L1400 1075L1175 1040L1000 1030L1000 1088L780 1088L780 1020L598 1010L480 1010L480 1088L265 1088L265 1000L120 1000L105 985Z" fill="#0b0b0d"/>
<path d="M598 750V1008M1175 750V1035" stroke="#26262a" stroke-width="5"/>
<path d="M275 782h30v12h-18v30h-12zM340 795h65v30h-65z" fill="#8a8a8a"/>
<rect x="355" y="1040" width="80" height="48" fill="#4a4a4e"/><rect x="870" y="1060" width="90" height="28" fill="#3c3c40"/>
<text x="1276" y="1005" font-size="112" font-weight="bold" font-style="italic" fill="#5e5a60" stroke="#5e5a60" stroke-width="7" letter-spacing="2">eo</text><text x="1446" y="990" font-size="80" font-weight="bold" fill="#8a7890">Edmund</text><path d="M1452 1008h290M1452 1026h260" stroke="#40364a" stroke-width="6"/>
</g>
<text x="132" y="318" font-size="246" font-family="'Liberation Serif','Times New Roman',serif">20</text>
<text x="380" y="237" font-size="200" font-family="'Liberation Serif','Times New Roman',serif">°</text>
</g>
<g transform="translate(1270 245) scale(0.18036)">
<clipPath id="cp3"><rect x="83" y="87" width="1822" height="991"/></clipPath>
<g clip-path="url(#cp3)">
<rect x="83" y="87" width="1822" height="991" fill="url(#bg3)"/>
<path d="M175 380H480V690H175Z M585 270H1015V700H590Z M1170 240H1800V670H1170Z" fill="#dedbdd" fill-opacity=".55" stroke="#bdb8ba" stroke-width="3" stroke-opacity=".8"/>
<path d="M230 372L478 335L478 610L450 660L430 688L178 692L178 450Z" fill="url(#fb3)"/>
<path d="M590 318L930 278L1000 350Q980 480 900 600Q860 660 810 702L600 682Z" fill="url(#fg3)"/>
<path d="M1260 240L1720 185L1790 300L1795 610L1740 668L1520 700L1520 752L1420 752L1400 700L1165 672L1165 420Z" fill="url(#fr3)"/>
<path d="M105 702L120 690L640 680L830 690L1270 678L1400 700L1420 752L1412 795L1522 795L1522 710L1560 672L1860 668L1905 680L1905 1078L1300 1078L1300 1000L1050 990L920 985L920 1078L665 1078L665 970L480 945L440 950L440 1078L225 1078L225 935L120 920L105 905Z" fill="#0b0b0d"/>
<rect x="1422" y="755" width="98" height="40" fill="#e8e6e8"/><path d="M1870 672L1905 680L1905 1060L1870 1070Z" fill="#555"/>
<rect x="340" y="955" width="70" height="123" fill="#3a3a3e"/><rect x="790" y="1000" width="80" height="78" fill="#3a3a3e"/>
</g>
<text x="112" y="328" font-size="246" font-family="'Liberation Serif','Times New Roman',serif">40</text>
<text x="360" y="247" font-size="200" font-family="'Liberation Serif','Times New Roman',serif">°</text>
</g>
<g transform="translate(1620 245) scale(0.18036)">
<clipPath id="cp4"><rect x="103" y="87" width="1809" height="991"/></clipPath>
<g clip-path="url(#cp4)">
<rect x="103" y="87" width="1809" height="991" fill="url(#bg4)"/>
<path d="M190 390H490V760H195Z M555 300H995V770H560Z M1168 268H1855V800H1168Z" fill="#dedbdd" fill-opacity=".55" stroke="#bdb8ba" stroke-width="3" stroke-opacity=".8"/>
<path d="M240 378L485 352L490 690L470 752L205 762L200 470Z" fill="url(#fb4)"/>
<path d="M558 330L905 298L985 390Q970 520 920 640Q880 720 830 772L570 762Z" fill="url(#fg4)"/>
<path d="M1265 270L1775 210L1850 350L1850 770L1810 812L1530 832L1520 922L1440 922L1165 792L1165 470Z" fill="url(#fr4)"/>
<path d="M140 760L440 750L600 752L830 772L1160 800L1400 790L1470 800L1500 850L1480 900L1440 930L1530 930L1540 880L1600 840L1912 830L1912 1078L265 1078L280 1040L150 1010Z" fill="#0b0b0d"/>
<rect x="1440" y="925" width="92" height="70" fill="#e0dde0"/>
</g>
<text x="132" y="328" font-size="246" font-family="'Liberation Serif','Times New Roman',serif">60</text>
<text x="380" y="247" font-size="200" font-family="'Liberation Serif','Times New Roman',serif">°</text>
</g>
<rect x="114.5" y="576.5" width="449" height="369" fill="none" stroke="#000" stroke-width="1" stroke-opacity=".85"/>
<text x="114.8" y="976.5" font-size="21.8" text-anchor="middle">400</text>
<text x="226.75" y="976.5" font-size="21.8" text-anchor="middle">500</text>
<text x="338.7" y="976.5" font-size="21.8" text-anchor="middle">600</text>
<text x="450.65" y="976.5" font-size="21.8" text-anchor="middle">700</text>
<text x="562.6" y="976.5" font-size="21.8" text-anchor="middle">800</text>
<text x="106" y="950.77" font-size="21.8" text-anchor="end">0</text>
<text x="106" y="890.12" font-size="21.8" text-anchor="end">10</text>
<text x="106" y="829.46" font-size="21.8" text-anchor="end">20</text>
<text x="106" y="768.8" font-size="21.8" text-anchor="end">30</text>
<text x="106" y="708.15" font-size="21.8" text-anchor="end">40</text>
<text x="106" y="647.49" font-size="21.8" text-anchor="end">50</text>
<text x="106" y="586.84" font-size="21.8" text-anchor="end">60</text>
<path d="M226.75 945.5v-4M226.75 576.5v4M338.7 945.5v-4M338.7 576.5v4M450.65 945.5v-4M450.65 576.5v4M114.5 942.97h4M563.5 942.97h-4M114.5 882.31h4M563.5 882.31h-4M114.5 821.66h4M563.5 821.66h-4M114.5 761h4M563.5 761h-4M114.5 700.34h4M563.5 700.34h-4M114.5 639.69h4M563.5 639.69h-4M114.5 579.03h4M563.5 579.03h-4" stroke="#000" stroke-width="1" fill="none" opacity=".9"/>
<text x="339" y="1008" font-size="25.3" text-anchor="middle">λ<tspan dy="12" font-size="18.98">0</tspan><tspan dy="-12"> (nm)</tspan></text>
<text transform="translate(71 759.8) rotate(-90)" font-size="25.3" text-anchor="middle">Angle of incidence (°)</text>
<text x="339" y="562" font-size="37" text-anchor="middle">Blue</text>
<rect x="594.5" y="576.5" width="25" height="369" fill="url(#jet)" stroke="#000" stroke-width="1"/>
<text x="626.8" y="952.3" font-size="19">0</text>
<text x="626.8" y="890.8" font-size="19">0.1</text>
<text x="626.8" y="829.3" font-size="19">0.2</text>
<text x="626.8" y="767.8" font-size="19">0.3</text>
<text x="626.8" y="706.3" font-size="19">0.4</text>
<text x="626.8" y="644.8" font-size="19">0.5</text>
<text x="626.8" y="583.3" font-size="19">0.6</text>
<path d="M619.5 884h-3.5M619.5 822.5h-3.5M619.5 761h-3.5M619.5 699.5h-3.5M619.5 638h-3.5" stroke="#000" stroke-width="1" fill="none" opacity=".9"/>
<rect x="114.5" y="1064.5" width="449" height="384" fill="none" stroke="#000" stroke-width="1" stroke-opacity=".85"/>
<text x="114.8" y="1479.5" font-size="21.8" text-anchor="middle">400</text>
<text x="226.75" y="1479.5" font-size="21.8" text-anchor="middle">500</text>
<text x="338.7" y="1479.5" font-size="21.8" text-anchor="middle">600</text>
<text x="450.65" y="1479.5" font-size="21.8" text-anchor="middle">700</text>
<text x="562.6" y="1479.5" font-size="21.8" text-anchor="middle">800</text>
<text x="106" y="1453.65" font-size="21.8" text-anchor="end">0</text>
<text x="106" y="1390.53" font-size="21.8" text-anchor="end">10</text>
<text x="106" y="1327.42" font-size="21.8" text-anchor="end">20</text>
<text x="106" y="1264.3" font-size="21.8" text-anchor="end">30</text>
<text x="106" y="1201.19" font-size="21.8" text-anchor="end">40</text>
<text x="106" y="1138.07" font-size="21.8" text-anchor="end">50</text>
<text x="106" y="1074.96" font-size="21.8" text-anchor="end">60</text>
<path d="M226.75 1448.5v-4M226.75 1064.5v4M338.7 1448.5v-4M338.7 1064.5v4M450.65 1448.5v-4M450.65 1064.5v4M114.5 1445.84h4M563.5 1445.84h-4M114.5 1382.73h4M563.5 1382.73h-4M114.5 1319.61h4M563.5 1319.61h-4M114.5 1256.5h4M563.5 1256.5h-4M114.5 1193.39h4M563.5 1193.39h-4M114.5 1130.27h4M563.5 1130.27h-4M114.5 1067.16h4M563.5 1067.16h-4" stroke="#000" stroke-width="1" fill="none" opacity=".9"/>
<text x="339" y="1511" font-size="25.3" text-anchor="middle">λ<tspan dy="12" font-size="18.98">0</tspan><tspan dy="-12"> (nm)</tspan></text>
<text transform="translate(71 1255.3) rotate(-90)" font-size="25.3" text-anchor="middle">Angle of incidence (°)</text>
<rect x="594.5" y="1064.5" width="25" height="384" fill="url(#jet)" stroke="#000" stroke-width="1"/>
<text x="626.8" y="1455.3" font-size="19">0</text>
<text x="626.8" y="1378.5" font-size="19">0.1</text>
<text x="626.8" y="1301.7" font-size="19">0.2</text>
<text x="626.8" y="1224.9" font-size="19">0.3</text>
<text x="626.8" y="1148.1" font-size="19">0.4</text>
<text x="626.8" y="1071.3" font-size="19">0.5</text>
<path d="M619.5 1371.7h-3.5M619.5 1294.9h-3.5M619.5 1218.1h-3.5M619.5 1141.3h-3.5" stroke="#000" stroke-width="1" fill="none" opacity=".9"/>
<rect x="785.5" y="576.5" width="449" height="369" fill="none" stroke="#000" stroke-width="1" stroke-opacity=".85"/>
<text x="785.8" y="976.5" font-size="21.8" text-anchor="middle">400</text>
<text x="897.75" y="976.5" font-size="21.8" text-anchor="middle">500</text>
<text x="1009.7" y="976.5" font-size="21.8" text-anchor="middle">600</text>
<text x="1121.65" y="976.5" font-size="21.8" text-anchor="middle">700</text>
<text x="1233.6" y="976.5" font-size="21.8" text-anchor="middle">800</text>
<text x="777" y="950.77" font-size="21.8" text-anchor="end">0</text>
<text x="777" y="890.12" font-size="21.8" text-anchor="end">10</text>
<text x="777" y="829.46" font-size="21.8" text-anchor="end">20</text>
<text x="777" y="768.8" font-size="21.8" text-anchor="end">30</text>
<text x="777" y="708.15" font-size="21.8" text-anchor="end">40</text>
<text x="777" y="647.49" font-size="21.8" text-anchor="end">50</text>
<text x="777" y="586.84" font-size="21.8" text-anchor="end">60</text>
<path d="M897.75 945.5v-4M897.75 576.5v4M1009.7 945.5v-4M1009.7 576.5v4M1121.65 945.5v-4M1121.65 576.5v4M785.5 942.97h4M1234.5 942.97h-4M785.5 882.31h4M1234.5 882.31h-4M785.5 821.66h4M1234.5 821.66h-4M785.5 761h4M1234.5 761h-4M785.5 700.34h4M1234.5 700.34h-4M785.5 639.69h4M1234.5 639.69h-4M785.5 579.03h4M1234.5 579.03h-4" stroke="#000" stroke-width="1" fill="none" opacity=".9"/>
<text x="1010" y="1008" font-size="25.3" text-anchor="middle">λ<tspan dy="12" font-size="18.98">0</tspan><tspan dy="-12"> (nm)</tspan></text>
<text transform="translate(742 759.8) rotate(-90)" font-size="25.3" text-anchor="middle">Angle of incidence (°)</text>
<text x="1010" y="562" font-size="37" text-anchor="middle">Green</text>
<rect x="1265.5" y="576.5" width="25" height="369" fill="url(#jet)" stroke="#000" stroke-width="1"/>
<text x="1297.8" y="952.3" font-size="19">0</text>
<text x="1297.8" y="890.8" font-size="19">0.1</text>
<text x="1297.8" y="829.3" font-size="19">0.2</text>
<text x="1297.8" y="767.8" font-size="19">0.3</text>
<text x="1297.8" y="706.3" font-size="19">0.4</text>
<text x="1297.8" y="644.8" font-size="19">0.5</text>
<text x="1297.8" y="583.3" font-size="19">0.6</text>
<path d="M1290.5 884h-3.5M1290.5 822.5h-3.5M1290.5 761h-3.5M1290.5 699.5h-3.5M1290.5 638h-3.5" stroke="#000" stroke-width="1" fill="none" opacity=".9"/>
<rect x="785.5" y="1064.5" width="449" height="384" fill="none" stroke="#000" stroke-width="1" stroke-opacity=".85"/>
<text x="785.8" y="1479.5" font-size="21.8" text-anchor="middle">400</text>
<text x="897.75" y="1479.5" font-size="21.8" text-anchor="middle">500</text>
<text x="1009.7" y="1479.5" font-size="21.8" text-anchor="middle">600</text>
<text x="1121.65" y="1479.5" font-size="21.8" text-anchor="middle">700</text>
<text x="1233.6" y="1479.5" font-size="21.8" text-anchor="middle">800</text>
<text x="777" y="1453.65" font-size="21.8" text-anchor="end">0</text>
<text x="777" y="1390.53" font-size="21.8" text-anchor="end">10</text>
<text x="777" y="1327.42" font-size="21.8" text-anchor="end">20</text>
<text x="777" y="1264.3" font-size="21.8" text-anchor="end">30</text>
<text x="777" y="1201.19" font-size="21.8" text-anchor="end">40</text>
<text x="777" y="1138.07" font-size="21.8" text-anchor="end">50</text>
<text x="777" y="1074.96" font-size="21.8" text-anchor="end">60</text>
<path d="M897.75 1448.5v-4M897.75 1064.5v4M1009.7 1448.5v-4M1009.7 1064.5v4M1121.65 1448.5v-4M1121.65 1064.5v4M785.5 1445.84h4M1234.5 1445.84h-4M785.5 1382.73h4M1234.5 1382.73h-4M785.5 1319.61h4M1234.5 1319.61h-4M785.5 1256.5h4M1234.5 1256.5h-4M785.5 1193.39h4M1234.5 1193.39h-4M785.5 1130.27h4M1234.5 1130.27h-4M785.5 1067.16h4M1234.5 1067.16h-4" stroke="#000" stroke-width="1" fill="none" opacity=".9"/>
<text x="1010" y="1511" font-size="25.3" text-anchor="middle">λ<tspan dy="12" font-size="18.98">0</tspan><tspan dy="-12"> (nm)</tspan></text>
<text transform="translate(742 1255.3) rotate(-90)" font-size="25.3" text-anchor="middle">Angle of incidence (°)</text>
<rect x="1265.5" y="1064.5" width="25" height="384" fill="url(#jet)" stroke="#000" stroke-width="1"/>
<text x="1297.8" y="1455.3" font-size="19">0</text>
<text x="1297.8" y="1378.5" font-size="19">0.1</text>
<text x="1297.8" y="1301.7" font-size="19">0.2</text>
<text x="1297.8" y="1224.9" font-size="19">0.3</text>
<text x="1297.8" y="1148.1" font-size="19">0.4</text>
<text x="1297.8" y="1071.3" font-size="19">0.5</text>
<path d="M1290.5 1371.7h-3.5M1290.5 1294.9h-3.5M1290.5 1218.1h-3.5M1290.5 1141.3h-3.5" stroke="#000" stroke-width="1" fill="none" opacity=".9"/>
<rect x="1456.5" y="576.5" width="449" height="369" fill="none" stroke="#000" stroke-width="1" stroke-opacity=".85"/>
<text x="1456.8" y="976.5" font-size="21.8" text-anchor="middle">400</text>
<text x="1568.75" y="976.5" font-size="21.8" text-anchor="middle">500</text>
<text x="1680.7" y="976.5" font-size="21.8" text-anchor="middle">600</text>
<text x="1792.65" y="976.5" font-size="21.8" text-anchor="middle">700</text>
<text x="1904.6" y="976.5" font-size="21.8" text-anchor="middle">800</text>
<text x="1448" y="950.77" font-size="21.8" text-anchor="end">0</text>
<text x="1448" y="890.12" font-size="21.8" text-anchor="end">10</text>
<text x="1448" y="829.46" font-size="21.8" text-anchor="end">20</text>
<text x="1448" y="768.8" font-size="21.8" text-anchor="end">30</text>
<text x="1448" y="708.15" font-size="21.8" text-anchor="end">40</text>
<text x="1448" y="647.49" font-size="21.8" text-anchor="end">50</text>
<text x="1448" y="586.84" font-size="21.8" text-anchor="end">60</text>
<path d="M1568.75 945.5v-4M1568.75 576.5v4M1680.7 945.5v-4M1680.7 576.5v4M1792.65 945.5v-4M1792.65 576.5v4M1456.5 942.97h4M1905.5 942.97h-4M1456.5 882.31h4M1905.5 882.31h-4M1456.5 821.66h4M1905.5 821.66h-4M1456.5 761h4M1905.5 761h-4M1456.5 700.34h4M1905.5 700.34h-4M1456.5 639.69h4M1905.5 639.69h-4M1456.5 579.03h4M1905.5 579.03h-4" stroke="#000" stroke-width="1" fill="none" opacity=".9"/>
<text x="1681" y="1008" font-size="25.3" text-anchor="middle">λ<tspan dy="12" font-size="18.98">0</tspan><tspan dy="-12"> (nm)</tspan></text>
<text transform="translate(1413 759.8) rotate(-90)" font-size="25.3" text-anchor="middle">Angle of incidence (°)</text>
<text x="1681" y="562" font-size="37" text-anchor="middle">Red</text>
<rect x="1936.5" y="576.5" width="25" height="369" fill="url(#jet)" stroke="#000" stroke-width="1"/>
<text x="1968.8" y="952.3" font-size="19">0</text>
<text x="1968.8" y="890.8" font-size="19">0.1</text>
<text x="1968.8" y="829.3" font-size="19">0.2</text>
<text x="1968.8" y="767.8" font-size="19">0.3</text>
<text x="1968.8" y="706.3" font-size="19">0.4</text>
<text x="1968.8" y="644.8" font-size="19">0.5</text>
<text x="1968.8" y="583.3" font-size="19">0.6</text>
<path d="M1961.5 884h-3.5M1961.5 822.5h-3.5M1961.5 761h-3.5M1961.5 699.5h-3.5M1961.5 638h-3.5" stroke="#000" stroke-width="1" fill="none" opacity=".9"/>
<rect x="1456.5" y="1064.5" width="449" height="384" fill="none" stroke="#000" stroke-width="1" stroke-opacity=".85"/>
<text x="1456.8" y="1479.5" font-size="21.8" text-anchor="middle">400</text>
<text x="1568.75" y="1479.5" font-size="21.8" text-anchor="middle">500</text>
<text x="1680.7" y="1479.5" font-size="21.8" text-anchor="middle">600</text>
<text x="1792.65" y="1479.5" font-size="21.8" text-anchor="middle">700</text>
<text x="1904.6" y="1479.5" font-size="21.8" text-anchor="middle">800</text>
<text x="1448" y="1453.65" font-size="21.8" text-anchor="end">0</text>
<text x="1448" y="1390.53" font-size="21.8" text-anchor="end">10</text>
<text x="1448" y="1327.42" font-size="21.8" text-anchor="end">20</text>
<text x="1448" y="1264.3" font-size="21.8" text-anchor="end">30</text>
<text x="1448" y="1201.19" font-size="21.8" text-anchor="end">40</text>
<text x="1448" y="1138.07" font-size="21.8" text-anchor="end">50</text>
<text x="1448" y="1074.96" font-size="21.8" text-anchor="end">60</text>
<path d="M1568.75 1448.5v-4M1568.75 1064.5v4M1680.7 1448.5v-4M1680.7 1064.5v4M1792.65 1448.5v-4M1792.65 1064.5v4M1456.5 1445.84h4M1905.5 1445.84h-4M1456.5 1382.73h4M1905.5 1382.73h-4M1456.5 1319.61h4M1905.5 1319.61h-4M1456.5 1256.5h4M1905.5 1256.5h-4M1456.5 1193.39h4M1905.5 1193.39h-4M1456.5 1130.27h4M1905.5 1130.27h-4M1456.5 1067.16h4M1905.5 1067.16h-4" stroke="#000" stroke-width="1" fill="none" opacity=".9"/>
<text x="1681" y="1511" font-size="25.3" text-anchor="middle">λ<tspan dy="12" font-size="18.98">0</tspan><tspan dy="-12"> (nm)</tspan></text>
<text transform="translate(1413 1255.3) rotate(-90)" font-size="25.3" text-anchor="middle">Angle of incidence (°)</text>
<rect x="1936.5" y="1064.5" width="25" height="384" fill="url(#jet)" stroke="#000" stroke-width="1"/>
<text x="1968.8" y="1455.3" font-size="19">0</text>
<text x="1968.8" y="1378.5" font-size="19">0.1</text>
<text x="1968.8" y="1301.7" font-size="19">0.2</text>
<text x="1968.8" y="1224.9" font-size="19">0.3</text>
<text x="1968.8" y="1148.1" font-size="19">0.4</text>
<text x="1968.8" y="1071.3" font-size="19">0.5</text>
<path d="M1961.5 1371.7h-3.5M1961.5 1294.9h-3.5M1961.5 1218.1h-3.5M1961.5 1141.3h-3.5" stroke="#000" stroke-width="1" fill="none" opacity=".9"/>
</svg></body></html>
